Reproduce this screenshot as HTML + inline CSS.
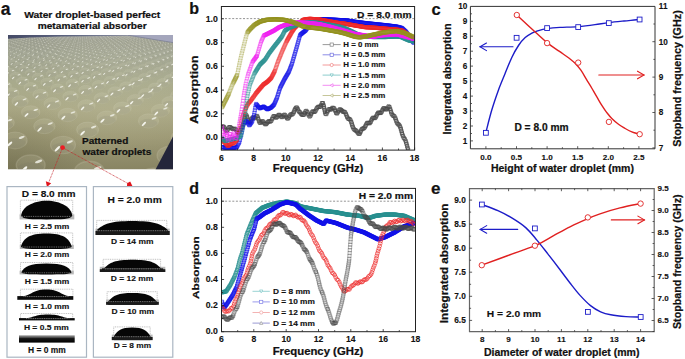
<!DOCTYPE html>
<html><head><meta charset="utf-8"><title>Water droplet metamaterial absorber</title><style>
html,body{margin:0;padding:0;background:#fff;width:685px;height:359px;overflow:hidden}
svg{display:block}
text{font-family:"Liberation Sans",sans-serif}
</style></head><body>
<svg width="685" height="359" viewBox="0 0 685 359">
<rect width="685" height="359" fill="#fff"/>
<text x="0.8" y="14.6" font-size="17.5" text-anchor="start" fill="#111" font-weight="bold" stroke="#111" stroke-width="0.22" >a</text>
<text x="92.2" y="17.6" font-size="9.6" text-anchor="middle" fill="#111" font-weight="bold" stroke="#111" stroke-width="0.22" textLength="136" lengthAdjust="spacingAndGlyphs" >Water droplet-based perfect</text>
<text x="92.2" y="29.3" font-size="9.6" text-anchor="middle" fill="#111" font-weight="bold" stroke="#111" stroke-width="0.22" textLength="109" lengthAdjust="spacingAndGlyphs" >metamaterial absorber</text>
<defs><linearGradient id="pg" x1="0" y1="35" x2="0" y2="169.5" gradientUnits="userSpaceOnUse"><stop offset="0" stop-color="#9a9ca0"/><stop offset="0.04" stop-color="#96998c"/><stop offset="0.15" stop-color="#9ea290"/><stop offset="0.35" stop-color="#a8aa8c"/><stop offset="0.55" stop-color="#adab88"/><stop offset="0.75" stop-color="#9f9b77"/><stop offset="1" stop-color="#888463"/></linearGradient><radialGradient id="vig" cx="8" cy="172" r="80" gradientUnits="userSpaceOnUse"><stop offset="0" stop-color="#3a3820" stop-opacity="0.22"/><stop offset="1" stop-color="#3a3820" stop-opacity="0"/></radialGradient><radialGradient id="pgr" cx="120" cy="70" r="90" gradientUnits="userSpaceOnUse"><stop offset="0" stop-color="#c8c8b0" stop-opacity="0.18"/><stop offset="1" stop-color="#c8c8b0" stop-opacity="0"/></radialGradient><linearGradient id="sky" x1="0" y1="0" x2="1" y2="0"><stop offset="0" stop-color="#454a66"/><stop offset="0.5" stop-color="#5c6480"/><stop offset="1" stop-color="#8a8ea0"/></linearGradient><filter id="blur06" x="-5%" y="-5%" width="110%" height="110%"><feGaussianBlur stdDeviation="0.45"/></filter><clipPath id="pc"><rect x="8" y="35" width="165" height="134.5"/></clipPath></defs>
<g clip-path="url(#pc)">
<rect x="8" y="35" width="165" height="134.5" fill="url(#pg)"/>
<rect x="8" y="35" width="165" height="134.5" fill="url(#pgr)"/>
<rect x="8" y="35" width="165" height="134.5" fill="url(#vig)"/>
<defs><g id="dr"><ellipse cx="0" cy="0" rx="10" ry="7" fill="#dcdac4" fill-opacity="0.14" stroke="#d0cfb8" stroke-width="0.9" stroke-opacity="0.22"/><ellipse cx="0" cy="2.5" rx="9" ry="4.5" fill="#6e6c55" fill-opacity="0.10"/><ellipse cx="-4.5" cy="3" rx="2.8" ry="0.95" fill="#f4f4ec" transform="rotate(-45 -4.5 3)"/><ellipse cx="5.5" cy="-2.5" rx="2.6" ry="0.9" fill="#f0f0e6" opacity="0.85" transform="rotate(-20 5.5 -2.5)"/></g></defs>
<g filter="url(#blur06)">
<use href="#dr" transform="translate(76.8 34.5) scale(0.163)" opacity="0.53"/>
<use href="#dr" transform="translate(24.3 34.5) scale(0.163)" opacity="0.53"/>
<use href="#dr" transform="translate(158.9 34.5) scale(0.163)" opacity="0.53"/>
<use href="#dr" transform="translate(106.4 34.5) scale(0.163)" opacity="0.53"/>
<use href="#dr" transform="translate(53.8 34.5) scale(0.163)" opacity="0.53"/>
<use href="#dr" transform="translate(1.2 34.6) scale(0.163)" opacity="0.53"/>
<use href="#dr" transform="translate(136.0 34.6) scale(0.163)" opacity="0.53"/>
<use href="#dr" transform="translate(83.4 34.6) scale(0.163)" opacity="0.53"/>
<use href="#dr" transform="translate(30.6 34.6) scale(0.163)" opacity="0.53"/>
<use href="#dr" transform="translate(165.8 34.6) scale(0.164)" opacity="0.53"/>
<use href="#dr" transform="translate(113.1 34.6) scale(0.164)" opacity="0.53"/>
<use href="#dr" transform="translate(60.3 34.6) scale(0.164)" opacity="0.53"/>
<use href="#dr" transform="translate(7.4 34.6) scale(0.164)" opacity="0.53"/>
<use href="#dr" transform="translate(142.9 34.7) scale(0.164)" opacity="0.53"/>
<use href="#dr" transform="translate(90.0 34.7) scale(0.164)" opacity="0.53"/>
<use href="#dr" transform="translate(37.0 34.7) scale(0.164)" opacity="0.53"/>
<use href="#dr" transform="translate(172.9 34.7) scale(0.164)" opacity="0.53"/>
<use href="#dr" transform="translate(119.9 34.7) scale(0.164)" opacity="0.53"/>
<use href="#dr" transform="translate(66.8 34.7) scale(0.165)" opacity="0.53"/>
<use href="#dr" transform="translate(13.6 34.7) scale(0.165)" opacity="0.53"/>
<use href="#dr" transform="translate(149.9 34.7) scale(0.165)" opacity="0.53"/>
<use href="#dr" transform="translate(96.7 34.7) scale(0.165)" opacity="0.53"/>
<use href="#dr" transform="translate(43.4 34.8) scale(0.165)" opacity="0.53"/>
<use href="#dr" transform="translate(180.0 34.8) scale(0.165)" opacity="0.53"/>
<use href="#dr" transform="translate(126.7 34.8) scale(0.165)" opacity="0.53"/>
<use href="#dr" transform="translate(73.4 34.8) scale(0.165)" opacity="0.53"/>
<use href="#dr" transform="translate(20.0 34.8) scale(0.166)" opacity="0.53"/>
<use href="#dr" transform="translate(156.9 34.8) scale(0.166)" opacity="0.53"/>
<use href="#dr" transform="translate(103.4 34.8) scale(0.166)" opacity="0.53"/>
<use href="#dr" transform="translate(49.9 34.8) scale(0.166)" opacity="0.53"/>
<use href="#dr" transform="translate(-3.7 34.9) scale(0.166)" opacity="0.53"/>
<use href="#dr" transform="translate(133.6 34.9) scale(0.166)" opacity="0.53"/>
<use href="#dr" transform="translate(80.0 34.9) scale(0.166)" opacity="0.53"/>
<use href="#dr" transform="translate(26.3 34.9) scale(0.166)" opacity="0.53"/>
<use href="#dr" transform="translate(164.0 34.9) scale(0.167)" opacity="0.53"/>
<use href="#dr" transform="translate(110.3 34.9) scale(0.167)" opacity="0.53"/>
<use href="#dr" transform="translate(56.5 34.9) scale(0.167)" opacity="0.53"/>
<use href="#dr" transform="translate(2.6 34.9) scale(0.167)" opacity="0.53"/>
<use href="#dr" transform="translate(140.6 35.0) scale(0.167)" opacity="0.53"/>
<use href="#dr" transform="translate(86.8 35.0) scale(0.167)" opacity="0.53"/>
<use href="#dr" transform="translate(32.8 35.0) scale(0.167)" opacity="0.53"/>
<use href="#dr" transform="translate(171.1 35.0) scale(0.167)" opacity="0.53"/>
<use href="#dr" transform="translate(117.2 35.0) scale(0.167)" opacity="0.53"/>
<use href="#dr" transform="translate(63.1 35.0) scale(0.168)" opacity="0.53"/>
<use href="#dr" transform="translate(9.0 35.0) scale(0.168)" opacity="0.53"/>
<use href="#dr" transform="translate(147.7 35.0) scale(0.168)" opacity="0.53"/>
<use href="#dr" transform="translate(93.6 35.1) scale(0.168)" opacity="0.53"/>
<use href="#dr" transform="translate(39.3 35.1) scale(0.168)" opacity="0.53"/>
<use href="#dr" transform="translate(178.4 35.1) scale(0.168)" opacity="0.53"/>
<use href="#dr" transform="translate(124.1 35.1) scale(0.168)" opacity="0.53"/>
<use href="#dr" transform="translate(69.8 35.1) scale(0.168)" opacity="0.53"/>
<use href="#dr" transform="translate(15.4 35.1) scale(0.169)" opacity="0.53"/>
<use href="#dr" transform="translate(154.8 35.1) scale(0.169)" opacity="0.53"/>
<use href="#dr" transform="translate(100.4 35.1) scale(0.169)" opacity="0.53"/>
<use href="#dr" transform="translate(45.9 35.2) scale(0.169)" opacity="0.53"/>
<use href="#dr" transform="translate(131.2 35.2) scale(0.169)" opacity="0.53"/>
<use href="#dr" transform="translate(76.6 35.2) scale(0.169)" opacity="0.53"/>
<use href="#dr" transform="translate(21.9 35.2) scale(0.169)" opacity="0.53"/>
<use href="#dr" transform="translate(162.1 35.2) scale(0.170)" opacity="0.53"/>
<use href="#dr" transform="translate(107.4 35.2) scale(0.170)" opacity="0.53"/>
<use href="#dr" transform="translate(52.6 35.2) scale(0.170)" opacity="0.53"/>
<use href="#dr" transform="translate(-2.3 35.3) scale(0.170)" opacity="0.53"/>
<use href="#dr" transform="translate(138.3 35.3) scale(0.170)" opacity="0.53"/>
<use href="#dr" transform="translate(83.4 35.3) scale(0.170)" opacity="0.53"/>
<use href="#dr" transform="translate(28.4 35.3) scale(0.170)" opacity="0.53"/>
<use href="#dr" transform="translate(169.3 35.3) scale(0.170)" opacity="0.53"/>
<use href="#dr" transform="translate(114.4 35.3) scale(0.171)" opacity="0.53"/>
<use href="#dr" transform="translate(59.3 35.3) scale(0.171)" opacity="0.53"/>
<use href="#dr" transform="translate(4.2 35.3) scale(0.171)" opacity="0.54"/>
<use href="#dr" transform="translate(145.5 35.4) scale(0.171)" opacity="0.54"/>
<use href="#dr" transform="translate(90.3 35.4) scale(0.171)" opacity="0.54"/>
<use href="#dr" transform="translate(35.1 35.4) scale(0.171)" opacity="0.54"/>
<use href="#dr" transform="translate(176.7 35.4) scale(0.171)" opacity="0.54"/>
<use href="#dr" transform="translate(121.5 35.4) scale(0.171)" opacity="0.54"/>
<use href="#dr" transform="translate(66.1 35.4) scale(0.172)" opacity="0.54"/>
<use href="#dr" transform="translate(10.7 35.4) scale(0.172)" opacity="0.54"/>
<use href="#dr" transform="translate(152.7 35.5) scale(0.172)" opacity="0.54"/>
<use href="#dr" transform="translate(97.3 35.5) scale(0.172)" opacity="0.54"/>
<use href="#dr" transform="translate(41.8 35.5) scale(0.172)" opacity="0.54"/>
<use href="#dr" transform="translate(184.2 35.5) scale(0.172)" opacity="0.54"/>
<use href="#dr" transform="translate(128.6 35.5) scale(0.172)" opacity="0.54"/>
<use href="#dr" transform="translate(73.0 35.5) scale(0.173)" opacity="0.54"/>
<use href="#dr" transform="translate(17.3 35.5) scale(0.173)" opacity="0.54"/>
<use href="#dr" transform="translate(160.1 35.5) scale(0.173)" opacity="0.54"/>
<use href="#dr" transform="translate(104.3 35.6) scale(0.173)" opacity="0.54"/>
<use href="#dr" transform="translate(48.5 35.6) scale(0.173)" opacity="0.54"/>
<use href="#dr" transform="translate(135.8 35.6) scale(0.173)" opacity="0.54"/>
<use href="#dr" transform="translate(79.9 35.6) scale(0.173)" opacity="0.54"/>
<use href="#dr" transform="translate(23.9 35.6) scale(0.174)" opacity="0.54"/>
<use href="#dr" transform="translate(167.5 35.6) scale(0.174)" opacity="0.54"/>
<use href="#dr" transform="translate(111.5 35.6) scale(0.174)" opacity="0.54"/>
<use href="#dr" transform="translate(55.4 35.7) scale(0.174)" opacity="0.54"/>
<use href="#dr" transform="translate(-0.8 35.7) scale(0.174)" opacity="0.54"/>
<use href="#dr" transform="translate(143.2 35.7) scale(0.174)" opacity="0.54"/>
<use href="#dr" transform="translate(86.9 35.7) scale(0.174)" opacity="0.54"/>
<use href="#dr" transform="translate(30.6 35.7) scale(0.174)" opacity="0.54"/>
<use href="#dr" transform="translate(175.0 35.7) scale(0.175)" opacity="0.54"/>
<use href="#dr" transform="translate(118.7 35.7) scale(0.175)" opacity="0.54"/>
<use href="#dr" transform="translate(62.3 35.8) scale(0.175)" opacity="0.54"/>
<use href="#dr" transform="translate(5.8 35.8) scale(0.175)" opacity="0.54"/>
<use href="#dr" transform="translate(150.5 35.8) scale(0.175)" opacity="0.54"/>
<use href="#dr" transform="translate(94.0 35.8) scale(0.175)" opacity="0.54"/>
<use href="#dr" transform="translate(37.4 35.8) scale(0.175)" opacity="0.54"/>
<use href="#dr" transform="translate(182.6 35.8) scale(0.176)" opacity="0.54"/>
<use href="#dr" transform="translate(125.9 35.8) scale(0.176)" opacity="0.54"/>
<use href="#dr" transform="translate(69.2 35.9) scale(0.176)" opacity="0.54"/>
<use href="#dr" transform="translate(12.5 35.9) scale(0.176)" opacity="0.54"/>
<use href="#dr" transform="translate(158.0 35.9) scale(0.176)" opacity="0.54"/>
<use href="#dr" transform="translate(101.2 35.9) scale(0.176)" opacity="0.54"/>
<use href="#dr" transform="translate(44.3 35.9) scale(0.176)" opacity="0.54"/>
<use href="#dr" transform="translate(133.3 35.9) scale(0.177)" opacity="0.54"/>
<use href="#dr" transform="translate(76.3 35.9) scale(0.177)" opacity="0.54"/>
<use href="#dr" transform="translate(19.2 36.0) scale(0.177)" opacity="0.54"/>
<use href="#dr" transform="translate(165.6 36.0) scale(0.177)" opacity="0.54"/>
<use href="#dr" transform="translate(108.4 36.0) scale(0.177)" opacity="0.54"/>
<use href="#dr" transform="translate(51.3 36.0) scale(0.177)" opacity="0.54"/>
<use href="#dr" transform="translate(140.7 36.0) scale(0.178)" opacity="0.54"/>
<use href="#dr" transform="translate(83.4 36.0) scale(0.178)" opacity="0.54"/>
<use href="#dr" transform="translate(26.0 36.1) scale(0.178)" opacity="0.54"/>
<use href="#dr" transform="translate(173.2 36.1) scale(0.178)" opacity="0.54"/>
<use href="#dr" transform="translate(115.8 36.1) scale(0.178)" opacity="0.54"/>
<use href="#dr" transform="translate(58.3 36.1) scale(0.178)" opacity="0.54"/>
<use href="#dr" transform="translate(0.7 36.1) scale(0.178)" opacity="0.54"/>
<use href="#dr" transform="translate(148.3 36.1) scale(0.179)" opacity="0.54"/>
<use href="#dr" transform="translate(90.7 36.1) scale(0.179)" opacity="0.54"/>
<use href="#dr" transform="translate(33.0 36.2) scale(0.179)" opacity="0.54"/>
<use href="#dr" transform="translate(180.9 36.2) scale(0.179)" opacity="0.54"/>
<use href="#dr" transform="translate(123.2 36.2) scale(0.179)" opacity="0.54"/>
<use href="#dr" transform="translate(65.4 36.2) scale(0.179)" opacity="0.54"/>
<use href="#dr" transform="translate(7.5 36.2) scale(0.179)" opacity="0.54"/>
<use href="#dr" transform="translate(155.9 36.2) scale(0.180)" opacity="0.54"/>
<use href="#dr" transform="translate(97.9 36.2) scale(0.180)" opacity="0.54"/>
<use href="#dr" transform="translate(39.9 36.3) scale(0.180)" opacity="0.54"/>
<use href="#dr" transform="translate(130.7 36.3) scale(0.180)" opacity="0.55"/>
<use href="#dr" transform="translate(72.5 36.3) scale(0.180)" opacity="0.55"/>
<use href="#dr" transform="translate(14.3 36.3) scale(0.180)" opacity="0.55"/>
<use href="#dr" transform="translate(163.5 36.3) scale(0.181)" opacity="0.55"/>
<use href="#dr" transform="translate(105.3 36.3) scale(0.181)" opacity="0.55"/>
<use href="#dr" transform="translate(47.0 36.4) scale(0.181)" opacity="0.55"/>
<use href="#dr" transform="translate(138.2 36.4) scale(0.181)" opacity="0.55"/>
<use href="#dr" transform="translate(79.8 36.4) scale(0.181)" opacity="0.55"/>
<use href="#dr" transform="translate(21.3 36.4) scale(0.181)" opacity="0.55"/>
<use href="#dr" transform="translate(171.3 36.4) scale(0.182)" opacity="0.55"/>
<use href="#dr" transform="translate(112.8 36.4) scale(0.182)" opacity="0.55"/>
<use href="#dr" transform="translate(54.1 36.5) scale(0.182)" opacity="0.55"/>
<use href="#dr" transform="translate(-4.6 36.5) scale(0.182)" opacity="0.55"/>
<use href="#dr" transform="translate(145.9 36.5) scale(0.182)" opacity="0.55"/>
<use href="#dr" transform="translate(87.1 36.5) scale(0.182)" opacity="0.55"/>
<use href="#dr" transform="translate(28.3 36.5) scale(0.182)" opacity="0.55"/>
<use href="#dr" transform="translate(179.2 36.5) scale(0.183)" opacity="0.55"/>
<use href="#dr" transform="translate(120.3 36.5) scale(0.183)" opacity="0.55"/>
<use href="#dr" transform="translate(61.3 36.6) scale(0.183)" opacity="0.55"/>
<use href="#dr" transform="translate(2.3 36.6) scale(0.183)" opacity="0.55"/>
<use href="#dr" transform="translate(153.6 36.6) scale(0.183)" opacity="0.55"/>
<use href="#dr" transform="translate(94.6 36.6) scale(0.183)" opacity="0.55"/>
<use href="#dr" transform="translate(35.4 36.6) scale(0.183)" opacity="0.55"/>
<use href="#dr" transform="translate(127.9 36.7) scale(0.184)" opacity="0.55"/>
<use href="#dr" transform="translate(68.6 36.7) scale(0.184)" opacity="0.55"/>
<use href="#dr" transform="translate(9.3 36.7) scale(0.184)" opacity="0.55"/>
<use href="#dr" transform="translate(161.5 36.7) scale(0.184)" opacity="0.55"/>
<use href="#dr" transform="translate(102.1 36.7) scale(0.184)" opacity="0.55"/>
<use href="#dr" transform="translate(42.6 36.7) scale(0.184)" opacity="0.55"/>
<use href="#dr" transform="translate(135.6 36.8) scale(0.185)" opacity="0.55"/>
<use href="#dr" transform="translate(76.0 36.8) scale(0.185)" opacity="0.55"/>
<use href="#dr" transform="translate(16.3 36.8) scale(0.185)" opacity="0.55"/>
<use href="#dr" transform="translate(169.4 36.8) scale(0.185)" opacity="0.55"/>
<use href="#dr" transform="translate(109.6 36.8) scale(0.185)" opacity="0.55"/>
<use href="#dr" transform="translate(49.8 36.8) scale(0.185)" opacity="0.55"/>
<use href="#dr" transform="translate(143.4 36.9) scale(0.186)" opacity="0.55"/>
<use href="#dr" transform="translate(83.5 36.9) scale(0.186)" opacity="0.55"/>
<use href="#dr" transform="translate(23.4 36.9) scale(0.186)" opacity="0.55"/>
<use href="#dr" transform="translate(177.4 36.9) scale(0.186)" opacity="0.55"/>
<use href="#dr" transform="translate(117.3 36.9) scale(0.186)" opacity="0.55"/>
<use href="#dr" transform="translate(57.1 36.9) scale(0.187)" opacity="0.55"/>
<use href="#dr" transform="translate(-3.1 37.0) scale(0.187)" opacity="0.55"/>
<use href="#dr" transform="translate(151.3 37.0) scale(0.187)" opacity="0.55"/>
<use href="#dr" transform="translate(91.0 37.0) scale(0.187)" opacity="0.55"/>
<use href="#dr" transform="translate(30.6 37.0) scale(0.187)" opacity="0.55"/>
<use href="#dr" transform="translate(125.1 37.0) scale(0.187)" opacity="0.55"/>
<use href="#dr" transform="translate(64.6 37.0) scale(0.188)" opacity="0.55"/>
<use href="#dr" transform="translate(4.0 37.1) scale(0.188)" opacity="0.55"/>
<use href="#dr" transform="translate(159.3 37.1) scale(0.188)" opacity="0.55"/>
<use href="#dr" transform="translate(98.7 37.1) scale(0.188)" opacity="0.55"/>
<use href="#dr" transform="translate(37.9 37.1) scale(0.188)" opacity="0.55"/>
<use href="#dr" transform="translate(132.9 37.1) scale(0.189)" opacity="0.55"/>
<use href="#dr" transform="translate(72.1 37.2) scale(0.189)" opacity="0.55"/>
<use href="#dr" transform="translate(11.1 37.2) scale(0.189)" opacity="0.55"/>
<use href="#dr" transform="translate(167.3 37.2) scale(0.189)" opacity="0.55"/>
<use href="#dr" transform="translate(106.4 37.2) scale(0.189)" opacity="0.55"/>
<use href="#dr" transform="translate(45.3 37.2) scale(0.189)" opacity="0.56"/>
<use href="#dr" transform="translate(140.9 37.3) scale(0.190)" opacity="0.56"/>
<use href="#dr" transform="translate(79.7 37.3) scale(0.190)" opacity="0.56"/>
<use href="#dr" transform="translate(18.4 37.3) scale(0.190)" opacity="0.56"/>
<use href="#dr" transform="translate(175.5 37.3) scale(0.190)" opacity="0.56"/>
<use href="#dr" transform="translate(114.2 37.3) scale(0.190)" opacity="0.56"/>
<use href="#dr" transform="translate(52.8 37.3) scale(0.190)" opacity="0.56"/>
<use href="#dr" transform="translate(148.9 37.4) scale(0.191)" opacity="0.56"/>
<use href="#dr" transform="translate(87.3 37.4) scale(0.191)" opacity="0.56"/>
<use href="#dr" transform="translate(25.7 37.4) scale(0.191)" opacity="0.56"/>
<use href="#dr" transform="translate(183.8 37.4) scale(0.191)" opacity="0.56"/>
<use href="#dr" transform="translate(122.1 37.4) scale(0.191)" opacity="0.56"/>
<use href="#dr" transform="translate(60.3 37.4) scale(0.192)" opacity="0.56"/>
<use href="#dr" transform="translate(-1.5 37.5) scale(0.192)" opacity="0.56"/>
<use href="#dr" transform="translate(157.0 37.5) scale(0.192)" opacity="0.56"/>
<use href="#dr" transform="translate(95.1 37.5) scale(0.192)" opacity="0.56"/>
<use href="#dr" transform="translate(33.1 37.5) scale(0.192)" opacity="0.56"/>
<use href="#dr" transform="translate(130.1 37.5) scale(0.192)" opacity="0.56"/>
<use href="#dr" transform="translate(68.0 37.6) scale(0.193)" opacity="0.56"/>
<use href="#dr" transform="translate(5.7 37.6) scale(0.193)" opacity="0.56"/>
<use href="#dr" transform="translate(165.2 37.6) scale(0.193)" opacity="0.56"/>
<use href="#dr" transform="translate(103.0 37.6) scale(0.193)" opacity="0.56"/>
<use href="#dr" transform="translate(40.6 37.6) scale(0.193)" opacity="0.56"/>
<use href="#dr" transform="translate(138.2 37.7) scale(0.194)" opacity="0.56"/>
<use href="#dr" transform="translate(75.7 37.7) scale(0.194)" opacity="0.56"/>
<use href="#dr" transform="translate(13.1 37.7) scale(0.194)" opacity="0.56"/>
<use href="#dr" transform="translate(173.5 37.7) scale(0.194)" opacity="0.56"/>
<use href="#dr" transform="translate(110.9 37.7) scale(0.194)" opacity="0.56"/>
<use href="#dr" transform="translate(48.2 37.7) scale(0.194)" opacity="0.56"/>
<use href="#dr" transform="translate(146.4 37.8) scale(0.195)" opacity="0.56"/>
<use href="#dr" transform="translate(83.5 37.8) scale(0.195)" opacity="0.56"/>
<use href="#dr" transform="translate(20.6 37.8) scale(0.195)" opacity="0.56"/>
<use href="#dr" transform="translate(182.0 37.8) scale(0.195)" opacity="0.56"/>
<use href="#dr" transform="translate(119.0 37.8) scale(0.195)" opacity="0.56"/>
<use href="#dr" transform="translate(55.9 37.9) scale(0.196)" opacity="0.56"/>
<use href="#dr" transform="translate(154.6 37.9) scale(0.196)" opacity="0.56"/>
<use href="#dr" transform="translate(91.4 37.9) scale(0.196)" opacity="0.56"/>
<use href="#dr" transform="translate(28.1 37.9) scale(0.196)" opacity="0.56"/>
<use href="#dr" transform="translate(127.1 38.0) scale(0.197)" opacity="0.56"/>
<use href="#dr" transform="translate(63.7 38.0) scale(0.197)" opacity="0.56"/>
<use href="#dr" transform="translate(0.1 38.0) scale(0.197)" opacity="0.56"/>
<use href="#dr" transform="translate(163.0 38.0) scale(0.197)" opacity="0.56"/>
<use href="#dr" transform="translate(99.4 38.0) scale(0.197)" opacity="0.56"/>
<use href="#dr" transform="translate(35.7 38.0) scale(0.197)" opacity="0.56"/>
<use href="#dr" transform="translate(135.4 38.1) scale(0.198)" opacity="0.56"/>
<use href="#dr" transform="translate(71.6 38.1) scale(0.198)" opacity="0.56"/>
<use href="#dr" transform="translate(7.6 38.1) scale(0.198)" opacity="0.56"/>
<use href="#dr" transform="translate(171.5 38.1) scale(0.198)" opacity="0.56"/>
<use href="#dr" transform="translate(107.5 38.2) scale(0.198)" opacity="0.57"/>
<use href="#dr" transform="translate(43.5 38.2) scale(0.199)" opacity="0.57"/>
<use href="#dr" transform="translate(143.7 38.2) scale(0.199)" opacity="0.57"/>
<use href="#dr" transform="translate(79.5 38.2) scale(0.199)" opacity="0.57"/>
<use href="#dr" transform="translate(15.2 38.2) scale(0.199)" opacity="0.57"/>
<use href="#dr" transform="translate(180.1 38.3) scale(0.200)" opacity="0.57"/>
<use href="#dr" transform="translate(115.8 38.3) scale(0.200)" opacity="0.57"/>
<use href="#dr" transform="translate(51.3 38.3) scale(0.200)" opacity="0.57"/>
<use href="#dr" transform="translate(152.2 38.3) scale(0.200)" opacity="0.57"/>
<use href="#dr" transform="translate(87.6 38.3) scale(0.200)" opacity="0.57"/>
<use href="#dr" transform="translate(22.9 38.4) scale(0.201)" opacity="0.57"/>
<use href="#dr" transform="translate(124.1 38.4) scale(0.201)" opacity="0.57"/>
<use href="#dr" transform="translate(59.2 38.4) scale(0.201)" opacity="0.57"/>
<use href="#dr" transform="translate(160.7 38.5) scale(0.201)" opacity="0.57"/>
<use href="#dr" transform="translate(95.7 38.5) scale(0.202)" opacity="0.57"/>
<use href="#dr" transform="translate(30.6 38.5) scale(0.202)" opacity="0.57"/>
<use href="#dr" transform="translate(132.5 38.5) scale(0.202)" opacity="0.57"/>
<use href="#dr" transform="translate(67.2 38.5) scale(0.202)" opacity="0.57"/>
<use href="#dr" transform="translate(1.9 38.6) scale(0.203)" opacity="0.57"/>
<use href="#dr" transform="translate(169.4 38.6) scale(0.203)" opacity="0.57"/>
<use href="#dr" transform="translate(104.0 38.6) scale(0.203)" opacity="0.57"/>
<use href="#dr" transform="translate(38.5 38.6) scale(0.203)" opacity="0.57"/>
<use href="#dr" transform="translate(141.0 38.7) scale(0.203)" opacity="0.57"/>
<use href="#dr" transform="translate(75.3 38.7) scale(0.204)" opacity="0.57"/>
<use href="#dr" transform="translate(9.6 38.7) scale(0.204)" opacity="0.57"/>
<use href="#dr" transform="translate(178.1 38.7) scale(0.204)" opacity="0.57"/>
<use href="#dr" transform="translate(112.4 38.7) scale(0.204)" opacity="0.57"/>
<use href="#dr" transform="translate(46.5 38.7) scale(0.204)" opacity="0.57"/>
<use href="#dr" transform="translate(149.6 38.8) scale(0.205)" opacity="0.57"/>
<use href="#dr" transform="translate(83.6 38.8) scale(0.205)" opacity="0.57"/>
<use href="#dr" transform="translate(17.4 38.8) scale(0.205)" opacity="0.57"/>
<use href="#dr" transform="translate(120.8 38.9) scale(0.205)" opacity="0.57"/>
<use href="#dr" transform="translate(54.5 38.9) scale(0.206)" opacity="0.57"/>
<use href="#dr" transform="translate(158.3 38.9) scale(0.206)" opacity="0.57"/>
<use href="#dr" transform="translate(91.9 38.9) scale(0.206)" opacity="0.57"/>
<use href="#dr" transform="translate(25.3 38.9) scale(0.206)" opacity="0.57"/>
<use href="#dr" transform="translate(129.4 39.0) scale(0.207)" opacity="0.57"/>
<use href="#dr" transform="translate(62.7 39.0) scale(0.207)" opacity="0.57"/>
<use href="#dr" transform="translate(-4.1 39.0) scale(0.207)" opacity="0.57"/>
<use href="#dr" transform="translate(167.2 39.0) scale(0.207)" opacity="0.57"/>
<use href="#dr" transform="translate(100.3 39.1) scale(0.207)" opacity="0.57"/>
<use href="#dr" transform="translate(33.3 39.1) scale(0.208)" opacity="0.57"/>
<use href="#dr" transform="translate(138.1 39.1) scale(0.208)" opacity="0.58"/>
<use href="#dr" transform="translate(71.0 39.1) scale(0.208)" opacity="0.58"/>
<use href="#dr" transform="translate(3.7 39.2) scale(0.208)" opacity="0.58"/>
<use href="#dr" transform="translate(176.1 39.2) scale(0.209)" opacity="0.58"/>
<use href="#dr" transform="translate(108.8 39.2) scale(0.209)" opacity="0.58"/>
<use href="#dr" transform="translate(41.4 39.2) scale(0.209)" opacity="0.58"/>
<use href="#dr" transform="translate(146.9 39.3) scale(0.209)" opacity="0.58"/>
<use href="#dr" transform="translate(79.4 39.3) scale(0.210)" opacity="0.58"/>
<use href="#dr" transform="translate(11.7 39.3) scale(0.210)" opacity="0.58"/>
<use href="#dr" transform="translate(117.5 39.3) scale(0.210)" opacity="0.58"/>
<use href="#dr" transform="translate(49.7 39.4) scale(0.210)" opacity="0.58"/>
<use href="#dr" transform="translate(155.8 39.4) scale(0.211)" opacity="0.58"/>
<use href="#dr" transform="translate(87.8 39.4) scale(0.211)" opacity="0.58"/>
<use href="#dr" transform="translate(19.7 39.4) scale(0.211)" opacity="0.58"/>
<use href="#dr" transform="translate(126.2 39.5) scale(0.211)" opacity="0.58"/>
<use href="#dr" transform="translate(58.0 39.5) scale(0.212)" opacity="0.58"/>
<use href="#dr" transform="translate(164.8 39.5) scale(0.212)" opacity="0.58"/>
<use href="#dr" transform="translate(96.4 39.6) scale(0.212)" opacity="0.58"/>
<use href="#dr" transform="translate(27.9 39.6) scale(0.212)" opacity="0.58"/>
<use href="#dr" transform="translate(135.1 39.6) scale(0.213)" opacity="0.58"/>
<use href="#dr" transform="translate(66.4 39.6) scale(0.213)" opacity="0.58"/>
<use href="#dr" transform="translate(-2.4 39.7) scale(0.213)" opacity="0.58"/>
<use href="#dr" transform="translate(174.0 39.7) scale(0.213)" opacity="0.58"/>
<use href="#dr" transform="translate(105.1 39.7) scale(0.214)" opacity="0.58"/>
<use href="#dr" transform="translate(36.2 39.7) scale(0.214)" opacity="0.58"/>
<use href="#dr" transform="translate(144.1 39.8) scale(0.214)" opacity="0.58"/>
<use href="#dr" transform="translate(75.0 39.8) scale(0.214)" opacity="0.58"/>
<use href="#dr" transform="translate(5.7 39.8) scale(0.215)" opacity="0.58"/>
<use href="#dr" transform="translate(183.2 39.8) scale(0.215)" opacity="0.58"/>
<use href="#dr" transform="translate(114.0 39.8) scale(0.215)" opacity="0.58"/>
<use href="#dr" transform="translate(44.5 39.9) scale(0.215)" opacity="0.58"/>
<use href="#dr" transform="translate(153.2 39.9) scale(0.216)" opacity="0.58"/>
<use href="#dr" transform="translate(83.6 39.9) scale(0.216)" opacity="0.58"/>
<use href="#dr" transform="translate(13.9 39.9) scale(0.216)" opacity="0.58"/>
<use href="#dr" transform="translate(122.9 40.0) scale(0.216)" opacity="0.58"/>
<use href="#dr" transform="translate(53.0 40.0) scale(0.217)" opacity="0.58"/>
<use href="#dr" transform="translate(162.4 40.0) scale(0.217)" opacity="0.59"/>
<use href="#dr" transform="translate(92.4 40.1) scale(0.217)" opacity="0.59"/>
<use href="#dr" transform="translate(22.2 40.1) scale(0.217)" opacity="0.59"/>
<use href="#dr" transform="translate(132.0 40.1) scale(0.218)" opacity="0.59"/>
<use href="#dr" transform="translate(61.6 40.1) scale(0.218)" opacity="0.59"/>
<use href="#dr" transform="translate(171.7 40.2) scale(0.218)" opacity="0.59"/>
<use href="#dr" transform="translate(101.3 40.2) scale(0.219)" opacity="0.59"/>
<use href="#dr" transform="translate(30.6 40.2) scale(0.219)" opacity="0.59"/>
<use href="#dr" transform="translate(141.1 40.3) scale(0.219)" opacity="0.59"/>
<use href="#dr" transform="translate(70.3 40.3) scale(0.220)" opacity="0.59"/>
<use href="#dr" transform="translate(-0.6 40.3) scale(0.220)" opacity="0.59"/>
<use href="#dr" transform="translate(181.2 40.3) scale(0.220)" opacity="0.59"/>
<use href="#dr" transform="translate(110.3 40.4) scale(0.220)" opacity="0.59"/>
<use href="#dr" transform="translate(39.2 40.4) scale(0.220)" opacity="0.59"/>
<use href="#dr" transform="translate(150.4 40.4) scale(0.221)" opacity="0.59"/>
<use href="#dr" transform="translate(79.2 40.4) scale(0.221)" opacity="0.59"/>
<use href="#dr" transform="translate(7.8 40.5) scale(0.221)" opacity="0.59"/>
<use href="#dr" transform="translate(119.4 40.5) scale(0.222)" opacity="0.59"/>
<use href="#dr" transform="translate(47.8 40.5) scale(0.222)" opacity="0.59"/>
<use href="#dr" transform="translate(159.9 40.6) scale(0.222)" opacity="0.59"/>
<use href="#dr" transform="translate(88.1 40.6) scale(0.223)" opacity="0.59"/>
<use href="#dr" transform="translate(16.3 40.6) scale(0.223)" opacity="0.59"/>
<use href="#dr" transform="translate(128.6 40.7) scale(0.223)" opacity="0.59"/>
<use href="#dr" transform="translate(56.6 40.7) scale(0.223)" opacity="0.59"/>
<use href="#dr" transform="translate(169.4 40.7) scale(0.224)" opacity="0.59"/>
<use href="#dr" transform="translate(97.2 40.7) scale(0.224)" opacity="0.59"/>
<use href="#dr" transform="translate(24.9 40.8) scale(0.224)" opacity="0.59"/>
<use href="#dr" transform="translate(138.0 40.8) scale(0.225)" opacity="0.59"/>
<use href="#dr" transform="translate(65.5 40.8) scale(0.225)" opacity="0.59"/>
<use href="#dr" transform="translate(179.1 40.9) scale(0.225)" opacity="0.59"/>
<use href="#dr" transform="translate(106.4 40.9) scale(0.226)" opacity="0.59"/>
<use href="#dr" transform="translate(33.6 40.9) scale(0.226)" opacity="0.59"/>
<use href="#dr" transform="translate(147.5 41.0) scale(0.226)" opacity="0.60"/>
<use href="#dr" transform="translate(74.5 41.0) scale(0.226)" opacity="0.60"/>
<use href="#dr" transform="translate(1.4 41.0) scale(0.227)" opacity="0.60"/>
<use href="#dr" transform="translate(115.7 41.1) scale(0.227)" opacity="0.60"/>
<use href="#dr" transform="translate(42.4 41.1) scale(0.227)" opacity="0.60"/>
<use href="#dr" transform="translate(157.2 41.1) scale(0.228)" opacity="0.60"/>
<use href="#dr" transform="translate(83.7 41.2) scale(0.228)" opacity="0.60"/>
<use href="#dr" transform="translate(10.0 41.2) scale(0.228)" opacity="0.60"/>
<use href="#dr" transform="translate(125.2 41.2) scale(0.229)" opacity="0.60"/>
<use href="#dr" transform="translate(51.3 41.2) scale(0.229)" opacity="0.60"/>
<use href="#dr" transform="translate(166.9 41.3) scale(0.229)" opacity="0.60"/>
<use href="#dr" transform="translate(92.9 41.3) scale(0.230)" opacity="0.60"/>
<use href="#dr" transform="translate(18.8 41.3) scale(0.230)" opacity="0.60"/>
<use href="#dr" transform="translate(134.8 41.4) scale(0.230)" opacity="0.60"/>
<use href="#dr" transform="translate(60.4 41.4) scale(0.231)" opacity="0.60"/>
<use href="#dr" transform="translate(176.9 41.5) scale(0.231)" opacity="0.60"/>
<use href="#dr" transform="translate(102.3 41.5) scale(0.231)" opacity="0.60"/>
<use href="#dr" transform="translate(27.7 41.5) scale(0.232)" opacity="0.60"/>
<use href="#dr" transform="translate(144.5 41.6) scale(0.232)" opacity="0.60"/>
<use href="#dr" transform="translate(69.6 41.6) scale(0.232)" opacity="0.60"/>
<use href="#dr" transform="translate(111.9 41.6) scale(0.233)" opacity="0.60"/>
<use href="#dr" transform="translate(36.7 41.7) scale(0.233)" opacity="0.60"/>
<use href="#dr" transform="translate(154.4 41.7) scale(0.234)" opacity="0.60"/>
<use href="#dr" transform="translate(79.0 41.7) scale(0.234)" opacity="0.60"/>
<use href="#dr" transform="translate(3.4 41.8) scale(0.234)" opacity="0.60"/>
<use href="#dr" transform="translate(121.5 41.8) scale(0.235)" opacity="0.60"/>
<use href="#dr" transform="translate(45.8 41.8) scale(0.235)" opacity="0.60"/>
<use href="#dr" transform="translate(164.4 41.9) scale(0.235)" opacity="0.60"/>
<use href="#dr" transform="translate(88.4 41.9) scale(0.236)" opacity="0.61"/>
<use href="#dr" transform="translate(12.4 41.9) scale(0.236)" opacity="0.61"/>
<use href="#dr" transform="translate(131.3 42.0) scale(0.236)" opacity="0.61"/>
<use href="#dr" transform="translate(55.1 42.0) scale(0.237)" opacity="0.61"/>
<use href="#dr" transform="translate(174.5 42.1) scale(0.237)" opacity="0.61"/>
<use href="#dr" transform="translate(98.1 42.1) scale(0.237)" opacity="0.61"/>
<use href="#dr" transform="translate(21.4 42.1) scale(0.237)" opacity="0.61"/>
<use href="#dr" transform="translate(141.3 42.2) scale(0.238)" opacity="0.61"/>
<use href="#dr" transform="translate(64.5 42.2) scale(0.238)" opacity="0.61"/>
<use href="#dr" transform="translate(184.8 42.2) scale(0.239)" opacity="0.61"/>
<use href="#dr" transform="translate(107.8 42.3) scale(0.239)" opacity="0.61"/>
<use href="#dr" transform="translate(30.6 42.3) scale(0.239)" opacity="0.61"/>
<use href="#dr" transform="translate(151.4 42.3) scale(0.240)" opacity="0.61"/>
<use href="#dr" transform="translate(74.0 42.4) scale(0.240)" opacity="0.61"/>
<use href="#dr" transform="translate(-3.5 42.4) scale(0.240)" opacity="0.61"/>
<use href="#dr" transform="translate(117.7 42.4) scale(0.241)" opacity="0.61"/>
<use href="#dr" transform="translate(40.0 42.5) scale(0.241)" opacity="0.61"/>
<use href="#dr" transform="translate(161.6 42.5) scale(0.241)" opacity="0.61"/>
<use href="#dr" transform="translate(83.7 42.5) scale(0.242)" opacity="0.61"/>
<use href="#dr" transform="translate(5.6 42.6) scale(0.242)" opacity="0.61"/>
<use href="#dr" transform="translate(127.7 42.6) scale(0.243)" opacity="0.61"/>
<use href="#dr" transform="translate(49.5 42.7) scale(0.243)" opacity="0.61"/>
<use href="#dr" transform="translate(172.0 42.7) scale(0.243)" opacity="0.61"/>
<use href="#dr" transform="translate(93.6 42.7) scale(0.244)" opacity="0.61"/>
<use href="#dr" transform="translate(14.9 42.8) scale(0.244)" opacity="0.61"/>
<use href="#dr" transform="translate(137.9 42.8) scale(0.244)" opacity="0.61"/>
<use href="#dr" transform="translate(59.1 42.8) scale(0.245)" opacity="0.61"/>
<use href="#dr" transform="translate(182.6 42.9) scale(0.245)" opacity="0.62"/>
<use href="#dr" transform="translate(103.5 42.9) scale(0.245)" opacity="0.62"/>
<use href="#dr" transform="translate(24.3 42.9) scale(0.246)" opacity="0.62"/>
<use href="#dr" transform="translate(148.3 43.0) scale(0.246)" opacity="0.62"/>
<use href="#dr" transform="translate(68.8 43.0) scale(0.246)" opacity="0.62"/>
<use href="#dr" transform="translate(113.7 43.1) scale(0.247)" opacity="0.62"/>
<use href="#dr" transform="translate(33.8 43.1) scale(0.247)" opacity="0.62"/>
<use href="#dr" transform="translate(158.8 43.2) scale(0.248)" opacity="0.62"/>
<use href="#dr" transform="translate(78.7 43.2) scale(0.248)" opacity="0.62"/>
<use href="#dr" transform="translate(-1.5 43.2) scale(0.249)" opacity="0.62"/>
<use href="#dr" transform="translate(123.9 43.3) scale(0.249)" opacity="0.62"/>
<use href="#dr" transform="translate(43.5 43.3) scale(0.249)" opacity="0.62"/>
<use href="#dr" transform="translate(169.4 43.4) scale(0.250)" opacity="0.62"/>
<use href="#dr" transform="translate(88.8 43.4) scale(0.250)" opacity="0.62"/>
<use href="#dr" transform="translate(8.0 43.4) scale(0.250)" opacity="0.62"/>
<use href="#dr" transform="translate(134.4 43.5) scale(0.251)" opacity="0.62"/>
<use href="#dr" transform="translate(53.4 43.5) scale(0.251)" opacity="0.62"/>
<use href="#dr" transform="translate(180.3 43.6) scale(0.252)" opacity="0.62"/>
<use href="#dr" transform="translate(99.0 43.6) scale(0.252)" opacity="0.62"/>
<use href="#dr" transform="translate(17.6 43.6) scale(0.252)" opacity="0.62"/>
<use href="#dr" transform="translate(145.0 43.7) scale(0.253)" opacity="0.62"/>
<use href="#dr" transform="translate(63.4 43.7) scale(0.253)" opacity="0.62"/>
<use href="#dr" transform="translate(109.4 43.8) scale(0.254)" opacity="0.63"/>
<use href="#dr" transform="translate(27.4 43.8) scale(0.254)" opacity="0.63"/>
<use href="#dr" transform="translate(155.8 43.9) scale(0.255)" opacity="0.63"/>
<use href="#dr" transform="translate(73.5 43.9) scale(0.255)" opacity="0.63"/>
<use href="#dr" transform="translate(119.9 44.0) scale(0.256)" opacity="0.63"/>
<use href="#dr" transform="translate(37.3 44.0) scale(0.256)" opacity="0.63"/>
<use href="#dr" transform="translate(166.7 44.1) scale(0.257)" opacity="0.63"/>
<use href="#dr" transform="translate(83.8 44.1) scale(0.257)" opacity="0.63"/>
<use href="#dr" transform="translate(0.7 44.1) scale(0.257)" opacity="0.63"/>
<use href="#dr" transform="translate(130.6 44.2) scale(0.258)" opacity="0.63"/>
<use href="#dr" transform="translate(47.3 44.2) scale(0.258)" opacity="0.63"/>
<use href="#dr" transform="translate(177.8 44.3) scale(0.259)" opacity="0.63"/>
<use href="#dr" transform="translate(94.3 44.3) scale(0.259)" opacity="0.63"/>
<use href="#dr" transform="translate(10.5 44.4) scale(0.260)" opacity="0.63"/>
<use href="#dr" transform="translate(141.5 44.4) scale(0.260)" opacity="0.63"/>
<use href="#dr" transform="translate(57.6 44.4) scale(0.260)" opacity="0.63"/>
<use href="#dr" transform="translate(104.9 44.5) scale(0.261)" opacity="0.63"/>
<use href="#dr" transform="translate(20.5 44.6) scale(0.262)" opacity="0.63"/>
<use href="#dr" transform="translate(152.6 44.6) scale(0.262)" opacity="0.63"/>
<use href="#dr" transform="translate(67.9 44.7) scale(0.262)" opacity="0.63"/>
<use href="#dr" transform="translate(115.7 44.7) scale(0.263)" opacity="0.64"/>
<use href="#dr" transform="translate(30.6 44.8) scale(0.264)" opacity="0.64"/>
<use href="#dr" transform="translate(163.8 44.8) scale(0.264)" opacity="0.64"/>
<use href="#dr" transform="translate(78.5 44.9) scale(0.265)" opacity="0.64"/>
<use href="#dr" transform="translate(126.7 45.0) scale(0.266)" opacity="0.64"/>
<use href="#dr" transform="translate(40.9 45.0) scale(0.266)" opacity="0.64"/>
<use href="#dr" transform="translate(175.2 45.1) scale(0.266)" opacity="0.64"/>
<use href="#dr" transform="translate(89.2 45.1) scale(0.267)" opacity="0.64"/>
<use href="#dr" transform="translate(3.1 45.1) scale(0.267)" opacity="0.64"/>
<use href="#dr" transform="translate(137.8 45.2) scale(0.268)" opacity="0.64"/>
<use href="#dr" transform="translate(51.4 45.2) scale(0.268)" opacity="0.64"/>
<use href="#dr" transform="translate(100.1 45.3) scale(0.269)" opacity="0.64"/>
<use href="#dr" transform="translate(13.3 45.3) scale(0.269)" opacity="0.64"/>
<use href="#dr" transform="translate(149.2 45.4) scale(0.270)" opacity="0.64"/>
<use href="#dr" transform="translate(62.1 45.4) scale(0.270)" opacity="0.64"/>
<use href="#dr" transform="translate(111.2 45.5) scale(0.271)" opacity="0.64"/>
<use href="#dr" transform="translate(23.6 45.6) scale(0.271)" opacity="0.64"/>
<use href="#dr" transform="translate(160.7 45.6) scale(0.272)" opacity="0.64"/>
<use href="#dr" transform="translate(72.9 45.7) scale(0.272)" opacity="0.65"/>
<use href="#dr" transform="translate(122.5 45.8) scale(0.273)" opacity="0.65"/>
<use href="#dr" transform="translate(34.2 45.8) scale(0.274)" opacity="0.65"/>
<use href="#dr" transform="translate(172.4 45.9) scale(0.274)" opacity="0.65"/>
<use href="#dr" transform="translate(83.9 45.9) scale(0.275)" opacity="0.65"/>
<use href="#dr" transform="translate(-4.9 45.9) scale(0.275)" opacity="0.65"/>
<use href="#dr" transform="translate(133.9 46.0) scale(0.276)" opacity="0.65"/>
<use href="#dr" transform="translate(44.9 46.0) scale(0.276)" opacity="0.65"/>
<use href="#dr" transform="translate(184.3 46.1) scale(0.277)" opacity="0.65"/>
<use href="#dr" transform="translate(95.1 46.1) scale(0.277)" opacity="0.65"/>
<use href="#dr" transform="translate(5.6 46.2) scale(0.277)" opacity="0.65"/>
<use href="#dr" transform="translate(145.6 46.2) scale(0.278)" opacity="0.65"/>
<use href="#dr" transform="translate(55.8 46.3) scale(0.278)" opacity="0.65"/>
<use href="#dr" transform="translate(106.4 46.4) scale(0.279)" opacity="0.65"/>
<use href="#dr" transform="translate(16.2 46.4) scale(0.280)" opacity="0.65"/>
<use href="#dr" transform="translate(157.4 46.5) scale(0.280)" opacity="0.65"/>
<use href="#dr" transform="translate(66.9 46.5) scale(0.281)" opacity="0.65"/>
<use href="#dr" transform="translate(118.0 46.6) scale(0.282)" opacity="0.66"/>
<use href="#dr" transform="translate(27.0 46.7) scale(0.282)" opacity="0.66"/>
<use href="#dr" transform="translate(169.5 46.7) scale(0.283)" opacity="0.66"/>
<use href="#dr" transform="translate(78.2 46.8) scale(0.283)" opacity="0.66"/>
<use href="#dr" transform="translate(129.8 46.9) scale(0.284)" opacity="0.66"/>
<use href="#dr" transform="translate(38.0 46.9) scale(0.285)" opacity="0.66"/>
<use href="#dr" transform="translate(181.7 47.0) scale(0.285)" opacity="0.66"/>
<use href="#dr" transform="translate(89.7 47.0) scale(0.286)" opacity="0.66"/>
<use href="#dr" transform="translate(-2.6 47.0) scale(0.286)" opacity="0.66"/>
<use href="#dr" transform="translate(141.8 47.1) scale(0.287)" opacity="0.66"/>
<use href="#dr" transform="translate(49.2 47.2) scale(0.287)" opacity="0.66"/>
<use href="#dr" transform="translate(101.4 47.3) scale(0.288)" opacity="0.66"/>
<use href="#dr" transform="translate(8.3 47.3) scale(0.289)" opacity="0.66"/>
<use href="#dr" transform="translate(153.9 47.4) scale(0.289)" opacity="0.66"/>
<use href="#dr" transform="translate(60.6 47.4) scale(0.290)" opacity="0.66"/>
<use href="#dr" transform="translate(113.3 47.5) scale(0.291)" opacity="0.66"/>
<use href="#dr" transform="translate(19.4 47.6) scale(0.291)" opacity="0.67"/>
<use href="#dr" transform="translate(166.3 47.6) scale(0.292)" opacity="0.67"/>
<use href="#dr" transform="translate(72.2 47.7) scale(0.292)" opacity="0.67"/>
<use href="#dr" transform="translate(125.4 47.8) scale(0.293)" opacity="0.67"/>
<use href="#dr" transform="translate(30.6 47.8) scale(0.294)" opacity="0.67"/>
<use href="#dr" transform="translate(179.0 47.9) scale(0.294)" opacity="0.67"/>
<use href="#dr" transform="translate(84.0 47.9) scale(0.295)" opacity="0.67"/>
<use href="#dr" transform="translate(137.7 48.1) scale(0.296)" opacity="0.67"/>
<use href="#dr" transform="translate(42.1 48.1) scale(0.296)" opacity="0.67"/>
<use href="#dr" transform="translate(96.0 48.2) scale(0.298)" opacity="0.67"/>
<use href="#dr" transform="translate(-0.1 48.2) scale(0.298)" opacity="0.67"/>
<use href="#dr" transform="translate(150.2 48.3) scale(0.299)" opacity="0.67"/>
<use href="#dr" transform="translate(53.8 48.4) scale(0.299)" opacity="0.67"/>
<use href="#dr" transform="translate(108.2 48.5) scale(0.300)" opacity="0.68"/>
<use href="#dr" transform="translate(11.2 48.5) scale(0.301)" opacity="0.68"/>
<use href="#dr" transform="translate(163.0 48.6) scale(0.301)" opacity="0.68"/>
<use href="#dr" transform="translate(65.7 48.6) scale(0.302)" opacity="0.68"/>
<use href="#dr" transform="translate(120.7 48.8) scale(0.303)" opacity="0.68"/>
<use href="#dr" transform="translate(22.8 48.8) scale(0.303)" opacity="0.68"/>
<use href="#dr" transform="translate(176.0 48.9) scale(0.304)" opacity="0.68"/>
<use href="#dr" transform="translate(77.9 48.9) scale(0.305)" opacity="0.68"/>
<use href="#dr" transform="translate(133.4 49.1) scale(0.306)" opacity="0.68"/>
<use href="#dr" transform="translate(34.6 49.1) scale(0.306)" opacity="0.68"/>
<use href="#dr" transform="translate(90.2 49.2) scale(0.307)" opacity="0.68"/>
<use href="#dr" transform="translate(146.3 49.3) scale(0.309)" opacity="0.68"/>
<use href="#dr" transform="translate(46.6 49.4) scale(0.309)" opacity="0.68"/>
<use href="#dr" transform="translate(102.8 49.5) scale(0.310)" opacity="0.69"/>
<use href="#dr" transform="translate(2.5 49.6) scale(0.311)" opacity="0.69"/>
<use href="#dr" transform="translate(159.5 49.6) scale(0.312)" opacity="0.69"/>
<use href="#dr" transform="translate(58.9 49.7) scale(0.312)" opacity="0.69"/>
<use href="#dr" transform="translate(115.6 49.8) scale(0.313)" opacity="0.69"/>
<use href="#dr" transform="translate(14.4 49.9) scale(0.314)" opacity="0.69"/>
<use href="#dr" transform="translate(172.9 49.9) scale(0.315)" opacity="0.69"/>
<use href="#dr" transform="translate(71.3 50.0) scale(0.315)" opacity="0.69"/>
<use href="#dr" transform="translate(128.7 50.1) scale(0.316)" opacity="0.69"/>
<use href="#dr" transform="translate(26.6 50.2) scale(0.317)" opacity="0.69"/>
<use href="#dr" transform="translate(84.1 50.3) scale(0.318)" opacity="0.69"/>
<use href="#dr" transform="translate(142.1 50.4) scale(0.319)" opacity="0.70"/>
<use href="#dr" transform="translate(38.9 50.5) scale(0.320)" opacity="0.70"/>
<use href="#dr" transform="translate(97.0 50.6) scale(0.321)" opacity="0.70"/>
<use href="#dr" transform="translate(155.7 50.8) scale(0.323)" opacity="0.70"/>
<use href="#dr" transform="translate(51.5 50.8) scale(0.323)" opacity="0.70"/>
<use href="#dr" transform="translate(110.3 50.9) scale(0.324)" opacity="0.70"/>
<use href="#dr" transform="translate(5.5 51.0) scale(0.325)" opacity="0.70"/>
<use href="#dr" transform="translate(169.5 51.1) scale(0.326)" opacity="0.70"/>
<use href="#dr" transform="translate(64.4 51.1) scale(0.326)" opacity="0.70"/>
<use href="#dr" transform="translate(123.8 51.3) scale(0.328)" opacity="0.70"/>
<use href="#dr" transform="translate(17.9 51.3) scale(0.328)" opacity="0.71"/>
<use href="#dr" transform="translate(183.7 51.4) scale(0.329)" opacity="0.71"/>
<use href="#dr" transform="translate(77.5 51.5) scale(0.330)" opacity="0.71"/>
<use href="#dr" transform="translate(137.5 51.6) scale(0.331)" opacity="0.71"/>
<use href="#dr" transform="translate(30.6 51.7) scale(0.331)" opacity="0.71"/>
<use href="#dr" transform="translate(90.8 51.8) scale(0.333)" opacity="0.71"/>
<use href="#dr" transform="translate(151.6 52.0) scale(0.334)" opacity="0.71"/>
<use href="#dr" transform="translate(43.6 52.0) scale(0.335)" opacity="0.71"/>
<use href="#dr" transform="translate(104.5 52.1) scale(0.336)" opacity="0.71"/>
<use href="#dr" transform="translate(-4.2 52.2) scale(0.337)" opacity="0.71"/>
<use href="#dr" transform="translate(165.9 52.3) scale(0.338)" opacity="0.72"/>
<use href="#dr" transform="translate(56.9 52.4) scale(0.338)" opacity="0.72"/>
<use href="#dr" transform="translate(118.4 52.5) scale(0.340)" opacity="0.72"/>
<use href="#dr" transform="translate(8.7 52.6) scale(0.340)" opacity="0.72"/>
<use href="#dr" transform="translate(180.5 52.7) scale(0.341)" opacity="0.72"/>
<use href="#dr" transform="translate(70.4 52.7) scale(0.342)" opacity="0.72"/>
<use href="#dr" transform="translate(132.7 52.9) scale(0.343)" opacity="0.72"/>
<use href="#dr" transform="translate(21.8 52.9) scale(0.344)" opacity="0.72"/>
<use href="#dr" transform="translate(84.2 53.1) scale(0.345)" opacity="0.72"/>
<use href="#dr" transform="translate(147.2 53.2) scale(0.347)" opacity="0.73"/>
<use href="#dr" transform="translate(35.1 53.3) scale(0.348)" opacity="0.73"/>
<use href="#dr" transform="translate(98.3 53.4) scale(0.349)" opacity="0.73"/>
<use href="#dr" transform="translate(162.0 53.6) scale(0.351)" opacity="0.73"/>
<use href="#dr" transform="translate(48.8 53.7) scale(0.351)" opacity="0.73"/>
<use href="#dr" transform="translate(112.7 53.8) scale(0.353)" opacity="0.73"/>
<use href="#dr" transform="translate(-1.3 53.9) scale(0.353)" opacity="0.73"/>
<use href="#dr" transform="translate(177.2 54.0) scale(0.355)" opacity="0.73"/>
<use href="#dr" transform="translate(62.7 54.1) scale(0.355)" opacity="0.73"/>
<use href="#dr" transform="translate(127.4 54.2) scale(0.357)" opacity="0.74"/>
<use href="#dr" transform="translate(12.2 54.3) scale(0.357)" opacity="0.74"/>
<use href="#dr" transform="translate(77.0 54.4) scale(0.359)" opacity="0.74"/>
<use href="#dr" transform="translate(142.4 54.6) scale(0.361)" opacity="0.74"/>
<use href="#dr" transform="translate(26.0 54.7) scale(0.361)" opacity="0.74"/>
<use href="#dr" transform="translate(91.6 54.8) scale(0.363)" opacity="0.74"/>
<use href="#dr" transform="translate(157.8 55.0) scale(0.365)" opacity="0.75"/>
<use href="#dr" transform="translate(40.1 55.1) scale(0.365)" opacity="0.75"/>
<use href="#dr" transform="translate(106.5 55.3) scale(0.367)" opacity="0.75"/>
<use href="#dr" transform="translate(173.5 55.4) scale(0.369)" opacity="0.75"/>
<use href="#dr" transform="translate(54.5 55.5) scale(0.369)" opacity="0.75"/>
<use href="#dr" transform="translate(121.7 55.7) scale(0.371)" opacity="0.75"/>
<use href="#dr" transform="translate(1.8 55.7) scale(0.372)" opacity="0.75"/>
<use href="#dr" transform="translate(69.2 55.9) scale(0.374)" opacity="0.75"/>
<use href="#dr" transform="translate(137.3 56.1) scale(0.375)" opacity="0.76"/>
<use href="#dr" transform="translate(16.1 56.2) scale(0.376)" opacity="0.76"/>
<use href="#dr" transform="translate(84.3 56.4) scale(0.378)" opacity="0.76"/>
<use href="#dr" transform="translate(153.3 56.6) scale(0.380)" opacity="0.76"/>
<use href="#dr" transform="translate(30.6 56.6) scale(0.380)" opacity="0.76"/>
<use href="#dr" transform="translate(99.8 56.8) scale(0.382)" opacity="0.76"/>
<use href="#dr" transform="translate(169.6 57.0) scale(0.384)" opacity="0.77"/>
<use href="#dr" transform="translate(45.6 57.1) scale(0.385)" opacity="0.77"/>
<use href="#dr" transform="translate(115.6 57.3) scale(0.387)" opacity="0.77"/>
<use href="#dr" transform="translate(60.8 57.5) scale(0.389)" opacity="0.77"/>
<use href="#dr" transform="translate(131.8 57.7) scale(0.391)" opacity="0.77"/>
<use href="#dr" transform="translate(5.3 57.8) scale(0.392)" opacity="0.77"/>
<use href="#dr" transform="translate(76.5 58.0) scale(0.394)" opacity="0.78"/>
<use href="#dr" transform="translate(148.3 58.2) scale(0.396)" opacity="0.78"/>
<use href="#dr" transform="translate(20.4 58.3) scale(0.397)" opacity="0.78"/>
<use href="#dr" transform="translate(92.5 58.5) scale(0.399)" opacity="0.78"/>
<use href="#dr" transform="translate(165.3 58.7) scale(0.401)" opacity="0.78"/>
<use href="#dr" transform="translate(35.8 58.8) scale(0.402)" opacity="0.79"/>
<use href="#dr" transform="translate(108.9 59.0) scale(0.404)" opacity="0.79"/>
<use href="#dr" transform="translate(182.7 59.2) scale(0.406)" opacity="0.79"/>
<use href="#dr" transform="translate(51.7 59.3) scale(0.407)" opacity="0.79"/>
<use href="#dr" transform="translate(125.7 59.5) scale(0.409)" opacity="0.79"/>
<use href="#dr" transform="translate(67.9 59.8) scale(0.412)" opacity="0.80"/>
<use href="#dr" transform="translate(142.9 60.0) scale(0.414)" opacity="0.80"/>
<use href="#dr" transform="translate(9.2 60.1) scale(0.415)" opacity="0.80"/>
<use href="#dr" transform="translate(84.5 60.3) scale(0.417)" opacity="0.80"/>
<use href="#dr" transform="translate(160.6 60.6) scale(0.419)" opacity="0.80"/>
<use href="#dr" transform="translate(25.2 60.6) scale(0.420)" opacity="0.81"/>
<use href="#dr" transform="translate(101.6 60.9) scale(0.422)" opacity="0.81"/>
<use href="#dr" transform="translate(178.8 61.1) scale(0.425)" opacity="0.81"/>
<use href="#dr" transform="translate(41.6 61.2) scale(0.425)" opacity="0.81"/>
<use href="#dr" transform="translate(119.1 61.4) scale(0.428)" opacity="0.81"/>
<use href="#dr" transform="translate(58.5 61.8) scale(0.431)" opacity="0.82"/>
<use href="#dr" transform="translate(137.0 62.0) scale(0.434)" opacity="0.82"/>
<use href="#dr" transform="translate(-3.0 62.1) scale(0.434)" opacity="0.82"/>
<use href="#dr" transform="translate(75.8 62.4) scale(0.437)" opacity="0.82"/>
<use href="#dr" transform="translate(155.5 62.6) scale(0.439)" opacity="0.83"/>
<use href="#dr" transform="translate(13.6 62.7) scale(0.440)" opacity="0.83"/>
<use href="#dr" transform="translate(93.6 63.0) scale(0.443)" opacity="0.83"/>
<use href="#dr" transform="translate(174.4 63.2) scale(0.445)" opacity="0.83"/>
<use href="#dr" transform="translate(30.7 63.3) scale(0.446)" opacity="0.83"/>
<use href="#dr" transform="translate(111.8 63.6) scale(0.449)" opacity="0.84"/>
<use href="#dr" transform="translate(48.2 63.9) scale(0.452)" opacity="0.84"/>
<use href="#dr" transform="translate(130.6 64.2) scale(0.455)" opacity="0.84"/>
<use href="#dr" transform="translate(66.2 64.6) scale(0.459)" opacity="0.85"/>
<use href="#dr" transform="translate(149.8 64.8) scale(0.461)" opacity="0.85"/>
<use href="#dr" transform="translate(0.8 64.9) scale(0.462)" opacity="0.85"/>
<use href="#dr" transform="translate(84.7 65.2) scale(0.465)" opacity="0.85"/>
<use href="#dr" transform="translate(169.7 65.5) scale(0.468)" opacity="0.86"/>
<use href="#dr" transform="translate(18.5 65.6) scale(0.469)" opacity="0.86"/>
<use href="#dr" transform="translate(103.8 65.9) scale(0.472)" opacity="0.86"/>
<use href="#dr" transform="translate(36.8 66.3) scale(0.476)" opacity="0.87"/>
<use href="#dr" transform="translate(123.4 66.6) scale(0.479)" opacity="0.87"/>
<use href="#dr" transform="translate(55.6 67.0) scale(0.483)" opacity="0.87"/>
<use href="#dr" transform="translate(143.6 67.3) scale(0.486)" opacity="0.88"/>
<use href="#dr" transform="translate(75.0 67.8) scale(0.490)" opacity="0.88"/>
<use href="#dr" transform="translate(164.4 68.1) scale(0.493)" opacity="0.88"/>
<use href="#dr" transform="translate(5.1 68.2) scale(0.494)" opacity="0.89"/>
<use href="#dr" transform="translate(94.9 68.5) scale(0.497)" opacity="0.89"/>
<use href="#dr" transform="translate(24.2 68.9) scale(0.502)" opacity="0.89"/>
<use href="#dr" transform="translate(115.5 69.3) scale(0.505)" opacity="0.90"/>
<use href="#dr" transform="translate(43.8 69.7) scale(0.510)" opacity="0.90"/>
<use href="#dr" transform="translate(136.7 70.1) scale(0.513)" opacity="0.91"/>
<use href="#dr" transform="translate(64.1 70.6) scale(0.518)" opacity="0.91"/>
<use href="#dr" transform="translate(158.5 70.9) scale(0.521)" opacity="0.91"/>
<use href="#dr" transform="translate(85.0 71.4) scale(0.526)" opacity="0.92"/>
<use href="#dr" transform="translate(181.1 71.8) scale(0.530)" opacity="0.92"/>
<use href="#dr" transform="translate(10.1 71.9) scale(0.531)" opacity="0.92"/>
<use href="#dr" transform="translate(106.6 72.3) scale(0.534)" opacity="0.93"/>
<use href="#dr" transform="translate(30.7 72.8) scale(0.539)" opacity="0.93"/>
<use href="#dr" transform="translate(128.9 73.2) scale(0.543)" opacity="0.94"/>
<use href="#dr" transform="translate(51.9 73.7) scale(0.549)" opacity="0.94"/>
<use href="#dr" transform="translate(152.0 74.1) scale(0.552)" opacity="0.95"/>
<use href="#dr" transform="translate(73.9 74.6) scale(0.558)" opacity="0.95"/>
<use href="#dr" transform="translate(175.8 75.1) scale(0.562)" opacity="0.96"/>
<use href="#dr" transform="translate(96.6 75.6) scale(0.568)" opacity="0.96"/>
<use href="#dr" transform="translate(15.8 76.2) scale(0.573)" opacity="0.97"/>
<use href="#dr" transform="translate(120.2 76.6) scale(0.577)" opacity="0.98"/>
<use href="#dr" transform="translate(38.2 77.2) scale(0.583)" opacity="0.98"/>
<use href="#dr" transform="translate(144.5 77.7) scale(0.588)" opacity="0.99"/>
<use href="#dr" transform="translate(61.3 78.3) scale(0.594)" opacity="0.99"/>
<use href="#dr" transform="translate(169.8 78.8) scale(0.599)" opacity="1.00"/>
<use href="#dr" transform="translate(85.3 79.4) scale(0.605)" opacity="1.00"/>
<use href="#dr" transform="translate(-0.9 80.1) scale(0.611)" opacity="1.00"/>
<use href="#dr" transform="translate(110.3 80.6) scale(0.616)" opacity="1.00"/>
<use href="#dr" transform="translate(22.6 81.3) scale(0.623)" opacity="1.00"/>
<use href="#dr" transform="translate(136.1 81.8) scale(0.628)" opacity="1.00"/>
<use href="#dr" transform="translate(47.1 82.5) scale(0.635)" opacity="1.00"/>
<use href="#dr" transform="translate(163.0 83.0) scale(0.640)" opacity="1.00"/>
<use href="#dr" transform="translate(72.5 83.8) scale(0.648)" opacity="1.00"/>
<use href="#dr" transform="translate(98.9 85.1) scale(0.661)" opacity="1.00"/>
<use href="#dr" transform="translate(4.8 85.9) scale(0.668)" opacity="1.00"/>
<use href="#dr" transform="translate(126.4 86.5) scale(0.674)" opacity="1.00"/>
<use href="#dr" transform="translate(30.7 87.3) scale(0.682)" opacity="1.00"/>
<use href="#dr" transform="translate(155.1 87.9) scale(0.688)" opacity="1.00"/>
<use href="#dr" transform="translate(57.7 88.7) scale(0.697)" opacity="1.00"/>
<use href="#dr" transform="translate(85.8 90.3) scale(0.712)" opacity="1.00"/>
<use href="#dr" transform="translate(115.2 91.9) scale(0.728)" opacity="1.00"/>
<use href="#dr" transform="translate(11.6 92.8) scale(0.737)" opacity="1.00"/>
<use href="#dr" transform="translate(146.0 93.6) scale(0.744)" opacity="1.00"/>
<use href="#dr" transform="translate(40.4 94.6) scale(0.754)" opacity="1.00"/>
<use href="#dr" transform="translate(178.2 95.3) scale(0.761)" opacity="1.00"/>
<use href="#dr" transform="translate(70.5 96.4) scale(0.772)" opacity="1.00"/>
<use href="#dr" transform="translate(102.1 98.2) scale(0.790)" opacity="1.00"/>
<use href="#dr" transform="translate(135.3 100.2) scale(0.810)" opacity="1.00"/>
<use href="#dr" transform="translate(20.1 101.4) scale(0.821)" opacity="1.00"/>
<use href="#dr" transform="translate(170.1 102.3) scale(0.830)" opacity="1.00"/>
<use href="#dr" transform="translate(52.4 103.5) scale(0.842)" opacity="1.00"/>
<use href="#dr" transform="translate(86.5 105.8) scale(0.865)" opacity="1.00"/>
<use href="#dr" transform="translate(122.4 108.2) scale(0.888)" opacity="1.00"/>
<use href="#dr" transform="translate(-4.3 109.6) scale(0.902)" opacity="1.00"/>
<use href="#dr" transform="translate(160.4 110.7) scale(0.913)" opacity="1.00"/>
<use href="#dr" transform="translate(30.7 112.2) scale(0.928)" opacity="1.00"/>
<use href="#dr" transform="translate(67.7 114.9) scale(0.955)" opacity="1.00"/>
<use href="#dr" transform="translate(106.9 117.8) scale(0.983)" opacity="1.00"/>
<use href="#dr" transform="translate(148.5 120.9) scale(1.014)" opacity="1.00"/>
<use href="#dr" transform="translate(4.0 122.8) scale(1.032)" opacity="1.00"/>
<use href="#dr" transform="translate(44.4 126.2) scale(1.065)" opacity="1.00"/>
<use href="#dr" transform="translate(87.6 129.8) scale(1.101)" opacity="1.00"/>
<use href="#dr" transform="translate(183.1 137.9) scale(1.180)" opacity="1.00"/>
<use href="#dr" transform="translate(15.1 140.4) scale(1.205)" opacity="1.00"/>
<use href="#dr" transform="translate(63.0 145.0) scale(1.251)" opacity="1.00"/>
<use href="#dr" transform="translate(170.6 155.5) scale(1.355)" opacity="1.00"/>
<use href="#dr" transform="translate(30.7 165.1) scale(1.449)" opacity="1.00"/>
<use href="#dr" transform="translate(89.4 171.9) scale(1.516)" opacity="1.00"/>
<use href="#dr" transform="translate(153.8 179.3) scale(1.589)" opacity="1.00"/>
</g>
<polygon points="8,35 132,35 132,35.8 60,36.6 30,37.6 8,38.8" fill="url(#sky)"/>
<polygon points="126,35 173,35 173,42.6" fill="#a4a6bc"/>
<polygon points="173,136.5 173,169.5 155.5,169.5" fill="#24263a"/>
<line x1="128" y1="35.2" x2="173" y2="42.6" stroke="#787c94" stroke-width="1" opacity="0.7"/>
</g>
<text x="82" y="144" font-size="9.6" text-anchor="start" fill="#111" font-weight="bold" stroke="#111" stroke-width="0.22" textLength="46.3" lengthAdjust="spacingAndGlyphs" >Patterned</text>
<text x="82.5" y="154.9" font-size="9.6" text-anchor="start" fill="#111" font-weight="bold" stroke="#111" stroke-width="0.22" textLength="68.8" lengthAdjust="spacingAndGlyphs" >water droplets</text>
<g stroke="#c41e24" stroke-width="0.8" fill="none" stroke-dasharray="0.9,0.7"><line x1="62.6" y1="147.6" x2="48.8" y2="182.2"/><line x1="62.6" y1="147.6" x2="128.2" y2="183.6"/></g>
<circle cx="62.6" cy="147.6" r="2.3" fill="#ee1c24"/>
<polygon points="45.8,181.2 51.2,183.2 47,187" fill="#e0141c"/>
<polygon points="127.2,183.2 130.2,181.6 132.6,186.6 127,186.6" fill="#e0141c"/>
<rect x="7" y="186.6" width="79.5" height="170.6" fill="none" stroke="#aab6c2" stroke-width="1.2"/>
<rect x="93.4" y="186.6" width="79.4" height="170.6" fill="none" stroke="#aab6c2" stroke-width="1.2"/>
<text x="48.7" y="197" font-size="8.6" text-anchor="middle" fill="#111" font-weight="bold" stroke="#111" stroke-width="0.12" textLength="53.9" lengthAdjust="spacingAndGlyphs" >D = 8.0 mm</text>
<path d="M20.4,216.1 V200.2 H72.7 V216.1" fill="none" stroke="#8c8c8c" stroke-width="0.55" stroke-dasharray="1,0.8"/>
<rect x="19.6" y="214.30" width="54.70" height="5.10" fill="#b8b8b8"/>
<path d="M21.20,216.10 C21.20,207.59 32.62,200.70 46.70,200.70 C60.78,200.70 72.20,207.59 72.20,216.10 C70.16,219.40 62.00,219.40 46.70,219.40 C31.40,219.40 23.24,219.40 21.20,216.10 Z" fill="#060606"/>
<line x1="22.20" y1="216.40" x2="71.20" y2="216.40" stroke="#d0d0d0" stroke-width="0.55" stroke-dasharray="0.9,0.9"/>
<text x="47" y="228.6" font-size="7.8" text-anchor="middle" fill="#111" font-weight="bold" stroke="#111" stroke-width="0.12" textLength="44.7" lengthAdjust="spacingAndGlyphs" >H = 2.5 mm</text>
<path d="M20.4,246.7 V232.9 H72.7 V246.7" fill="none" stroke="#8c8c8c" stroke-width="0.55" stroke-dasharray="1,0.8"/>
<rect x="19.8" y="244.90" width="54.00" height="4.10" fill="#b8b8b8"/>
<path d="M20.90,246.70 C23.44,238.19 29.54,233.60 46.30,233.60 C63.06,233.60 69.16,238.19 71.70,246.70 C69.67,249.00 61.54,249.00 46.30,249.00 C31.06,249.00 22.93,249.00 20.90,246.70 Z" fill="#060606"/>
<line x1="21.90" y1="247.00" x2="70.70" y2="247.00" stroke="#d0d0d0" stroke-width="0.55" stroke-dasharray="0.9,0.9"/>
<text x="47" y="257.4" font-size="7.8" text-anchor="middle" fill="#111" font-weight="bold" stroke="#111" stroke-width="0.12" textLength="44.7" lengthAdjust="spacingAndGlyphs" >H = 2.0 mm</text>
<path d="M20.5,272.5 V262.5 H72.9 V272.5" fill="none" stroke="#8c8c8c" stroke-width="0.55" stroke-dasharray="1,0.8"/>
<rect x="19.6" y="270.70" width="54.20" height="3.70" fill="#b8b8b8"/>
<path d="M21.50,272.50 C24.00,266.72 30.00,263.60 46.50,263.60 C63.00,263.60 69.00,266.72 71.50,272.50 C69.50,274.40 61.50,274.40 46.50,274.40 C31.50,274.40 23.50,274.40 21.50,272.50 Z" fill="#060606"/>
<line x1="22.50" y1="272.80" x2="70.50" y2="272.80" stroke="#d0d0d0" stroke-width="0.55" stroke-dasharray="0.9,0.9"/>
<text x="47" y="283.9" font-size="7.8" text-anchor="middle" fill="#111" font-weight="bold" stroke="#111" stroke-width="0.12" textLength="44.7" lengthAdjust="spacingAndGlyphs" >H = 1.5 mm</text>
<path d="M20.4,296.3 V289.2 H72.9 V296.3" fill="none" stroke="#8c8c8c" stroke-width="0.55" stroke-dasharray="1,0.8"/>
<path d="M22.50,296.30 C32.00,295.63 32.00,289.60 46.25,289.60 C60.50,289.60 60.50,295.63 70.00,296.30 Z" fill="#060606"/>
<rect x="17.30" y="296.10" width="56.00" height="3.70" fill="#0a0a0a"/>
<line x1="23.50" y1="296.60" x2="69.00" y2="296.60" stroke="#d0d0d0" stroke-width="0.55" stroke-dasharray="0.9,0.9"/>
<text x="47" y="309" font-size="7.8" text-anchor="middle" fill="#111" font-weight="bold" stroke="#111" stroke-width="0.12" textLength="44.7" lengthAdjust="spacingAndGlyphs" >H = 1.0 mm</text>
<path d="M20.5,318.3 V313.5 H72.7 V318.3" fill="none" stroke="#8c8c8c" stroke-width="0.55" stroke-dasharray="1,0.8"/>
<path d="M25.00,318.30 C34.10,317.93 34.10,314.60 47.75,314.60 C61.40,314.60 61.40,317.93 70.50,318.30 Z" fill="#060606"/>
<rect x="19.00" y="318.10" width="55.70" height="2.30" fill="#0a0a0a"/>
<line x1="26.00" y1="318.60" x2="69.50" y2="318.60" stroke="#d0d0d0" stroke-width="0.55" stroke-dasharray="0.9,0.9"/>
<text x="46.4" y="330.1" font-size="7.8" text-anchor="middle" fill="#111" font-weight="bold" stroke="#111" stroke-width="0.12" textLength="45" lengthAdjust="spacingAndGlyphs" >H = 0.5 mm</text>
<defs><linearGradient id="h0" x1="0" y1="0" x2="0" y2="1"><stop offset="0" stop-color="#a0a0a0"/><stop offset="0.25" stop-color="#606060"/><stop offset="0.45" stop-color="#151515"/><stop offset="1" stop-color="#000"/></linearGradient></defs>
<rect x="19" y="335.3" width="55.7" height="7.3" fill="url(#h0)"/>
<text x="46.9" y="352.5" font-size="8.3" text-anchor="middle" fill="#111" font-weight="bold" stroke="#111" stroke-width="0.12" textLength="37.8" lengthAdjust="spacingAndGlyphs" >H = 0 mm</text>
<text x="134.6" y="203" font-size="8.6" text-anchor="middle" fill="#111" font-weight="bold" stroke="#111" stroke-width="0.12" textLength="54.3" lengthAdjust="spacingAndGlyphs" >H = 2.0 mm</text>
<path d="M96.7,230.4 V220.4 H166.8 V230.4" fill="none" stroke="#8c8c8c" stroke-width="0.55" stroke-dasharray="1,0.8"/>
<rect x="95.5" y="228.60" width="74.20" height="6.40" fill="#b8b8b8"/>
<path d="M96.40,230.40 C103.59,223.82 110.78,221.00 132.35,221.00 C153.92,221.00 161.11,223.82 168.30,230.40 Z" fill="#060606"/>
<rect x="97.70" y="230.20" width="69.80" height="4.80" fill="#0a0a0a"/>
<rect x="95.5" y="231.00" width="74.20" height="4.00" fill="#1a1a1a"/>
<line x1="97.40" y1="230.70" x2="167.30" y2="230.70" stroke="#d0d0d0" stroke-width="0.55" stroke-dasharray="0.9,0.9"/>
<text x="132.2" y="243.8" font-size="8" text-anchor="middle" fill="#111" font-weight="bold" stroke="#111" stroke-width="0.12" textLength="42.5" lengthAdjust="spacingAndGlyphs" >D = 14 mm</text>
<path d="M103.1,268.6 V259.3 H160.6 V268.6" fill="none" stroke="#8c8c8c" stroke-width="0.55" stroke-dasharray="1,0.8"/>
<rect x="99.8" y="266.80" width="65.50" height="5.20" fill="#b8b8b8"/>
<path d="M103.90,268.60 C109.63,262.44 115.36,259.80 132.55,259.80 C149.74,259.80 155.47,262.44 161.20,268.60 Z" fill="#060606"/>
<rect x="102.00" y="268.40" width="61.10" height="3.60" fill="#0a0a0a"/>
<rect x="99.8" y="269.20" width="65.50" height="2.80" fill="#1a1a1a"/>
<line x1="104.90" y1="268.90" x2="160.20" y2="268.90" stroke="#d0d0d0" stroke-width="0.55" stroke-dasharray="0.9,0.9"/>
<text x="132" y="280.7" font-size="8" text-anchor="middle" fill="#111" font-weight="bold" stroke="#111" stroke-width="0.12" textLength="42.6" lengthAdjust="spacingAndGlyphs" >D = 12 mm</text>
<path d="M107.1,301.3 V291.7 H157.2 V301.3" fill="none" stroke="#8c8c8c" stroke-width="0.55" stroke-dasharray="1,0.8"/>
<rect x="106.1" y="299.50" width="52.70" height="5.30" fill="#b8b8b8"/>
<path d="M108.50,301.30 C113.29,295.49 118.08,293.00 132.45,293.00 C146.82,293.00 151.61,295.49 156.40,301.30 Z" fill="#060606"/>
<rect x="108.30" y="301.10" width="48.30" height="3.70" fill="#0a0a0a"/>
<rect x="106.1" y="301.90" width="52.70" height="2.90" fill="#1a1a1a"/>
<line x1="109.50" y1="301.60" x2="155.40" y2="301.60" stroke="#d0d0d0" stroke-width="0.55" stroke-dasharray="0.9,0.9"/>
<text x="132.7" y="314.3" font-size="8" text-anchor="middle" fill="#111" font-weight="bold" stroke="#111" stroke-width="0.12" textLength="42.6" lengthAdjust="spacingAndGlyphs" >D = 10 mm</text>
<path d="M113.7,336.4 V326.9 H150.2 V336.4" fill="none" stroke="#8c8c8c" stroke-width="0.55" stroke-dasharray="1,0.8"/>
<rect x="111.8" y="334.60" width="40.80" height="5.50" fill="#b8b8b8"/>
<path d="M113.80,336.40 C117.47,330.10 121.14,327.40 132.15,327.40 C143.16,327.40 146.83,330.10 150.50,336.40 Z" fill="#060606"/>
<rect x="114.00" y="336.20" width="36.40" height="3.90" fill="#0a0a0a"/>
<rect x="111.8" y="337.00" width="40.80" height="3.10" fill="#1a1a1a"/>
<line x1="114.80" y1="336.70" x2="149.50" y2="336.70" stroke="#d0d0d0" stroke-width="0.55" stroke-dasharray="0.9,0.9"/>
<text x="132.4" y="348.2" font-size="8" text-anchor="middle" fill="#111" font-weight="bold" stroke="#111" stroke-width="0.12" textLength="37.3" lengthAdjust="spacingAndGlyphs" >D = 8 mm</text>
<text x="189.2" y="13.8" font-size="16" text-anchor="start" fill="#111" font-weight="bold" stroke="#111" stroke-width="0.22" >b</text>
<line x1="221.4" y1="18.6" x2="414.6" y2="18.6" stroke="#666" stroke-width="0.7" stroke-dasharray="2,1.6"/>
<defs><clipPath id="cb"><rect x="221.4" y="6.5" width="193.2" height="143.6"/></clipPath></defs>
<g clip-path="url(#cb)">
<path d="M220.4,124.9h3.2v3.2h-3.2zM221.4,124.9h3.2v3.2h-3.2zM222.4,125.4h3.2v3.2h-3.2zM223.3,126.9h3.2v3.2h-3.2zM223.9,128.4h3.2v3.2h-3.2zM224.9,129.2h3.2v3.2h-3.2zM225.9,128.4h3.2v3.2h-3.2zM226.7,126.9h3.2v3.2h-3.2zM227.7,125.5h3.2v3.2h-3.2zM228.7,125.5h3.2v3.2h-3.2zM229.7,126.5h3.2v3.2h-3.2zM230.7,127.1h3.2v3.2h-3.2zM231.7,127.5h3.2v3.2h-3.2zM232.7,127.2h3.2v3.2h-3.2zM233.7,127.3h3.2v3.2h-3.2zM234.7,128.7h3.2v3.2h-3.2zM235.5,130.2h3.2v3.2h-3.2zM236.5,131.3h3.2v3.2h-3.2zM237.5,131.0h3.2v3.2h-3.2zM238.5,130.1h3.2v3.2h-3.2zM239.0,128.4h3.2v3.2h-3.2zM239.6,126.8h3.2v3.2h-3.2zM240.4,125.4h3.2v3.2h-3.2zM241.2,124.0h3.2v3.2h-3.2zM241.8,122.2h3.2v3.2h-3.2zM242.3,120.3h3.2v3.2h-3.2zM242.7,118.5h3.2v3.2h-3.2zM243.1,116.6h3.2v3.2h-3.2zM243.5,114.7h3.2v3.2h-3.2zM243.9,112.8h3.2v3.2h-3.2zM244.9,113.9h3.2v3.2h-3.2zM245.5,115.4h3.2v3.2h-3.2zM246.0,117.0h3.2v3.2h-3.2zM246.6,118.7h3.2v3.2h-3.2zM247.4,120.3h3.2v3.2h-3.2zM248.4,120.9h3.2v3.2h-3.2zM249.2,119.3h3.2v3.2h-3.2zM249.8,117.7h3.2v3.2h-3.2zM250.7,116.3h3.2v3.2h-3.2zM251.7,115.8h3.2v3.2h-3.2zM252.7,116.6h3.2v3.2h-3.2zM253.7,116.0h3.2v3.2h-3.2zM254.6,114.8h3.2v3.2h-3.2zM255.5,114.4h3.2v3.2h-3.2zM256.2,115.9h3.2v3.2h-3.2zM256.8,117.6h3.2v3.2h-3.2zM257.4,119.4h3.2v3.2h-3.2zM258.0,120.9h3.2v3.2h-3.2zM258.9,121.2h3.2v3.2h-3.2zM259.8,120.3h3.2v3.2h-3.2zM260.7,119.6h3.2v3.2h-3.2zM261.6,120.0h3.2v3.2h-3.2zM262.5,121.3h3.2v3.2h-3.2zM263.4,122.5h3.2v3.2h-3.2zM264.3,122.6h3.2v3.2h-3.2zM265.2,121.8h3.2v3.2h-3.2zM266.1,120.6h3.2v3.2h-3.2zM267.0,119.7h3.2v3.2h-3.2zM267.9,119.8h3.2v3.2h-3.2zM268.8,119.9h3.2v3.2h-3.2zM269.7,119.1h3.2v3.2h-3.2zM270.5,117.5h3.2v3.2h-3.2zM271.2,115.9h3.2v3.2h-3.2zM272.1,114.5h3.2v3.2h-3.2zM273.0,114.7h3.2v3.2h-3.2zM273.9,115.7h3.2v3.2h-3.2zM274.8,116.0h3.2v3.2h-3.2zM275.7,115.1h3.2v3.2h-3.2zM276.6,113.8h3.2v3.2h-3.2zM277.5,113.2h3.2v3.2h-3.2zM278.4,113.7h3.2v3.2h-3.2zM279.3,114.8h3.2v3.2h-3.2zM280.2,115.5h3.2v3.2h-3.2zM281.1,115.0h3.2v3.2h-3.2zM282.0,113.8h3.2v3.2h-3.2zM282.9,113.1h3.2v3.2h-3.2zM283.8,113.9h3.2v3.2h-3.2zM284.6,115.4h3.2v3.2h-3.2zM285.5,116.7h3.2v3.2h-3.2zM286.4,116.9h3.2v3.2h-3.2zM287.3,115.8h3.2v3.2h-3.2zM288.0,114.2h3.2v3.2h-3.2zM288.9,113.0h3.2v3.2h-3.2zM289.8,112.8h3.2v3.2h-3.2zM290.7,112.8h3.2v3.2h-3.2zM291.6,111.8h3.2v3.2h-3.2zM292.3,110.3h3.2v3.2h-3.2zM292.9,108.7h3.2v3.2h-3.2zM293.6,107.2h3.2v3.2h-3.2zM294.5,106.1h3.2v3.2h-3.2zM295.4,106.0h3.2v3.2h-3.2zM296.2,107.6h3.2v3.2h-3.2zM296.9,109.2h3.2v3.2h-3.2zM297.8,110.4h3.2v3.2h-3.2zM298.7,111.0h3.2v3.2h-3.2zM299.6,112.4h3.2v3.2h-3.2zM300.5,113.1h3.2v3.2h-3.2zM301.4,113.3h3.2v3.2h-3.2zM302.3,113.0h3.2v3.2h-3.2zM303.2,111.5h3.2v3.2h-3.2zM303.9,109.9h3.2v3.2h-3.2zM304.8,109.3h3.2v3.2h-3.2zM305.7,110.5h3.2v3.2h-3.2zM306.4,112.1h3.2v3.2h-3.2zM307.1,113.7h3.2v3.2h-3.2zM308.0,114.9h3.2v3.2h-3.2zM308.9,114.0h3.2v3.2h-3.2zM309.5,112.4h3.2v3.2h-3.2zM310.2,110.9h3.2v3.2h-3.2zM311.1,109.8h3.2v3.2h-3.2zM312.0,110.1h3.2v3.2h-3.2zM312.9,110.3h3.2v3.2h-3.2zM313.8,109.5h3.2v3.2h-3.2zM314.6,107.9h3.2v3.2h-3.2zM315.3,106.5h3.2v3.2h-3.2zM316.2,105.4h3.2v3.2h-3.2zM317.1,105.2h3.2v3.2h-3.2zM318.0,105.3h3.2v3.2h-3.2zM318.9,104.8h3.2v3.2h-3.2zM319.7,103.3h3.2v3.2h-3.2zM320.4,101.5h3.2v3.2h-3.2zM321.3,101.5h3.2v3.2h-3.2zM321.8,103.2h3.2v3.2h-3.2zM322.2,104.8h3.2v3.2h-3.2zM322.6,106.6h3.2v3.2h-3.2zM323.0,108.5h3.2v3.2h-3.2zM323.4,110.3h3.2v3.2h-3.2zM323.8,112.0h3.2v3.2h-3.2zM324.7,112.5h3.2v3.2h-3.2zM325.5,110.8h3.2v3.2h-3.2zM326.2,109.2h3.2v3.2h-3.2zM327.1,107.9h3.2v3.2h-3.2zM328.0,107.6h3.2v3.2h-3.2zM328.9,107.9h3.2v3.2h-3.2zM329.8,107.6h3.2v3.2h-3.2zM330.7,106.3h3.2v3.2h-3.2zM331.6,106.3h3.2v3.2h-3.2zM332.5,106.8h3.2v3.2h-3.2zM333.3,108.2h3.2v3.2h-3.2zM333.9,109.7h3.2v3.2h-3.2zM334.5,111.3h3.2v3.2h-3.2zM335.4,111.9h3.2v3.2h-3.2zM336.3,110.6h3.2v3.2h-3.2zM337.1,109.0h3.2v3.2h-3.2zM338.0,107.9h3.2v3.2h-3.2zM338.9,107.9h3.2v3.2h-3.2zM339.8,108.5h3.2v3.2h-3.2zM340.7,109.5h3.2v3.2h-3.2zM341.6,110.2h3.2v3.2h-3.2zM342.5,110.2h3.2v3.2h-3.2zM343.4,110.7h3.2v3.2h-3.2zM344.3,112.2h3.2v3.2h-3.2zM344.9,113.8h3.2v3.2h-3.2zM345.5,115.3h3.2v3.2h-3.2zM346.3,116.8h3.2v3.2h-3.2zM347.2,117.3h3.2v3.2h-3.2zM348.1,117.6h3.2v3.2h-3.2zM349.0,118.8h3.2v3.2h-3.2zM349.7,120.5h3.2v3.2h-3.2zM350.2,122.1h3.2v3.2h-3.2zM350.7,123.8h3.2v3.2h-3.2zM351.2,125.3h3.2v3.2h-3.2zM351.9,126.9h3.2v3.2h-3.2zM352.8,128.0h3.2v3.2h-3.2zM353.7,128.6h3.2v3.2h-3.2zM354.6,129.2h3.2v3.2h-3.2zM355.5,130.1h3.2v3.2h-3.2zM356.4,131.5h3.2v3.2h-3.2zM357.3,132.3h3.2v3.2h-3.2zM358.2,131.9h3.2v3.2h-3.2zM358.9,130.3h3.2v3.2h-3.2zM359.5,128.8h3.2v3.2h-3.2zM360.4,127.4h3.2v3.2h-3.2zM361.3,127.0h3.2v3.2h-3.2zM362.2,126.7h3.2v3.2h-3.2zM363.1,125.8h3.2v3.2h-3.2zM363.9,124.3h3.2v3.2h-3.2zM364.6,122.8h3.2v3.2h-3.2zM365.5,121.4h3.2v3.2h-3.2zM366.4,121.2h3.2v3.2h-3.2zM367.3,121.6h3.2v3.2h-3.2zM368.2,121.5h3.2v3.2h-3.2zM369.1,120.3h3.2v3.2h-3.2zM369.8,118.7h3.2v3.2h-3.2zM370.5,117.2h3.2v3.2h-3.2zM371.4,116.2h3.2v3.2h-3.2zM372.3,116.3h3.2v3.2h-3.2zM373.2,116.5h3.2v3.2h-3.2zM374.1,115.7h3.2v3.2h-3.2zM374.9,114.1h3.2v3.2h-3.2zM375.6,112.5h3.2v3.2h-3.2zM376.5,111.2h3.2v3.2h-3.2zM377.4,111.0h3.2v3.2h-3.2zM378.3,111.4h3.2v3.2h-3.2zM379.2,111.3h3.2v3.2h-3.2zM380.1,110.1h3.2v3.2h-3.2zM380.8,108.6h3.2v3.2h-3.2zM381.6,107.1h3.2v3.2h-3.2zM382.5,106.5h3.2v3.2h-3.2zM383.4,107.2h3.2v3.2h-3.2zM384.3,107.9h3.2v3.2h-3.2zM385.2,107.5h3.2v3.2h-3.2zM386.1,106.2h3.2v3.2h-3.2zM387.0,104.8h3.2v3.2h-3.2zM387.9,105.5h3.2v3.2h-3.2zM388.5,107.3h3.2v3.2h-3.2zM389.0,108.9h3.2v3.2h-3.2zM389.5,110.6h3.2v3.2h-3.2zM390.1,112.2h3.2v3.2h-3.2zM391.0,113.6h3.2v3.2h-3.2zM391.9,114.2h3.2v3.2h-3.2zM392.8,114.8h3.2v3.2h-3.2zM393.6,116.3h3.2v3.2h-3.2zM394.2,117.9h3.2v3.2h-3.2zM394.8,119.7h3.2v3.2h-3.2zM395.4,121.2h3.2v3.2h-3.2zM396.3,122.5h3.2v3.2h-3.2zM397.2,123.0h3.2v3.2h-3.2zM398.1,124.2h3.2v3.2h-3.2zM398.8,125.8h3.2v3.2h-3.2zM399.3,127.5h3.2v3.2h-3.2zM399.8,129.3h3.2v3.2h-3.2zM400.3,131.2h3.2v3.2h-3.2zM400.8,132.9h3.2v3.2h-3.2zM401.4,134.6h3.2v3.2h-3.2zM402.2,136.2h3.2v3.2h-3.2zM403.1,137.4h3.2v3.2h-3.2zM403.9,139.0h3.2v3.2h-3.2zM404.5,140.8h3.2v3.2h-3.2zM405.0,142.6h3.2v3.2h-3.2zM405.5,144.5h3.2v3.2h-3.2zM406.0,146.4h3.2v3.2h-3.2zM406.5,148.0h3.2v3.2h-3.2z" fill="none" stroke="#484848" stroke-width="0.75" opacity="1.0"/>
<path d="M220.4,145.4h3.1v3.1h-3.1zM221.0,145.6h3.1v3.1h-3.1zM221.6,145.7h3.1v3.1h-3.1zM222.2,145.9h3.1v3.1h-3.1zM222.8,146.0h3.1v3.1h-3.1zM223.4,146.2h3.1v3.1h-3.1zM224.0,146.3h3.1v3.1h-3.1zM224.6,146.4h3.1v3.1h-3.1zM225.2,146.4h3.1v3.1h-3.1zM225.8,146.3h3.1v3.1h-3.1zM226.4,146.2h3.1v3.1h-3.1zM227.0,146.1h3.1v3.1h-3.1zM227.6,146.1h3.1v3.1h-3.1zM228.2,146.0h3.1v3.1h-3.1zM228.8,146.0h3.1v3.1h-3.1zM229.4,146.1h3.1v3.1h-3.1zM230.0,146.1h3.1v3.1h-3.1zM230.6,146.2h3.1v3.1h-3.1zM231.2,146.3h3.1v3.1h-3.1zM231.8,146.4h3.1v3.1h-3.1zM232.4,146.4h3.1v3.1h-3.1zM233.0,146.3h3.1v3.1h-3.1zM233.6,146.1h3.1v3.1h-3.1zM234.2,145.9h3.1v3.1h-3.1zM234.8,145.7h3.1v3.1h-3.1zM235.4,145.5h3.1v3.1h-3.1zM236.0,144.3h3.1v3.1h-3.1zM236.6,143.1h3.1v3.1h-3.1zM237.2,141.9h3.1v3.1h-3.1zM237.8,140.7h3.1v3.1h-3.1zM238.4,138.5h3.1v3.1h-3.1zM239.0,136.1h3.1v3.1h-3.1zM239.6,133.7h3.1v3.1h-3.1zM240.2,131.0h3.1v3.1h-3.1zM240.7,128.5h3.1v3.1h-3.1zM241.2,126.0h3.1v3.1h-3.1zM241.7,123.5h3.1v3.1h-3.1zM242.3,122.0h3.1v3.1h-3.1zM242.9,121.4h3.1v3.1h-3.1zM243.5,120.7h3.1v3.1h-3.1zM244.1,120.0h3.1v3.1h-3.1zM244.7,119.4h3.1v3.1h-3.1zM245.3,119.8h3.1v3.1h-3.1zM245.9,120.8h3.1v3.1h-3.1zM246.5,121.8h3.1v3.1h-3.1zM247.1,122.8h3.1v3.1h-3.1zM247.7,123.8h3.1v3.1h-3.1zM248.3,123.3h3.1v3.1h-3.1zM248.9,122.5h3.1v3.1h-3.1zM249.5,121.6h3.1v3.1h-3.1zM250.1,120.8h3.1v3.1h-3.1zM250.7,119.8h3.1v3.1h-3.1zM251.3,117.7h3.1v3.1h-3.1zM251.9,115.6h3.1v3.1h-3.1zM252.5,113.5h3.1v3.1h-3.1zM252.9,111.1h3.1v3.1h-3.1zM253.3,108.7h3.1v3.1h-3.1zM253.7,106.3h3.1v3.1h-3.1zM254.1,103.9h3.1v3.1h-3.1zM254.6,102.4h3.1v3.1h-3.1zM255.1,103.0h3.1v3.1h-3.1zM255.6,103.6h3.1v3.1h-3.1zM256.1,104.3h3.1v3.1h-3.1zM256.6,104.9h3.1v3.1h-3.1zM257.1,105.5h3.1v3.1h-3.1zM257.6,106.1h3.1v3.1h-3.1zM258.1,106.7h3.1v3.1h-3.1zM258.6,106.7h3.1v3.1h-3.1zM259.1,106.4h3.1v3.1h-3.1zM259.6,106.2h3.1v3.1h-3.1zM260.1,105.9h3.1v3.1h-3.1zM260.6,105.7h3.1v3.1h-3.1zM261.1,105.4h3.1v3.1h-3.1zM261.6,105.2h3.1v3.1h-3.1zM262.1,105.0h3.1v3.1h-3.1zM262.6,105.4h3.1v3.1h-3.1zM263.2,105.8h3.1v3.1h-3.1zM263.7,106.2h3.1v3.1h-3.1zM264.2,106.6h3.1v3.1h-3.1zM264.7,106.9h3.1v3.1h-3.1zM265.2,107.3h3.1v3.1h-3.1zM265.7,107.7h3.1v3.1h-3.1zM266.2,107.7h3.1v3.1h-3.1zM266.7,107.4h3.1v3.1h-3.1zM267.2,107.2h3.1v3.1h-3.1zM267.7,106.9h3.1v3.1h-3.1zM268.2,106.7h3.1v3.1h-3.1zM268.7,106.4h3.1v3.1h-3.1zM269.2,106.2h3.1v3.1h-3.1zM269.7,105.9h3.1v3.1h-3.1zM270.2,105.4h3.1v3.1h-3.1zM270.7,104.9h3.1v3.1h-3.1zM271.2,104.4h3.1v3.1h-3.1zM271.7,103.9h3.1v3.1h-3.1zM272.2,103.4h3.1v3.1h-3.1zM272.7,102.6h3.1v3.1h-3.1zM273.2,101.5h3.1v3.1h-3.1zM273.7,100.3h3.1v3.1h-3.1zM274.2,99.2h3.1v3.1h-3.1zM274.7,98.0h3.1v3.1h-3.1zM275.2,96.9h3.1v3.1h-3.1zM275.7,95.5h3.1v3.1h-3.1zM276.2,93.8h3.1v3.1h-3.1zM276.7,92.2h3.1v3.1h-3.1zM277.2,90.6h3.1v3.1h-3.1zM277.7,89.0h3.1v3.1h-3.1zM278.2,87.3h3.1v3.1h-3.1zM278.7,86.0h3.1v3.1h-3.1zM279.2,85.0h3.1v3.1h-3.1zM279.7,84.0h3.1v3.1h-3.1zM280.2,83.0h3.1v3.1h-3.1zM280.7,82.0h3.1v3.1h-3.1zM281.2,81.1h3.1v3.1h-3.1zM281.7,80.1h3.1v3.1h-3.1zM282.2,79.1h3.1v3.1h-3.1zM282.7,78.1h3.1v3.1h-3.1zM283.2,77.2h3.1v3.1h-3.1zM283.7,76.4h3.1v3.1h-3.1zM284.2,75.5h3.1v3.1h-3.1zM284.7,74.7h3.1v3.1h-3.1zM285.2,73.8h3.1v3.1h-3.1zM285.7,73.0h3.1v3.1h-3.1zM286.2,72.1h3.1v3.1h-3.1zM286.7,71.3h3.1v3.1h-3.1zM287.2,70.4h3.1v3.1h-3.1zM287.7,69.2h3.1v3.1h-3.1zM288.2,67.9h3.1v3.1h-3.1zM288.7,66.6h3.1v3.1h-3.1zM289.2,65.3h3.1v3.1h-3.1zM289.7,64.0h3.1v3.1h-3.1zM290.2,62.7h3.1v3.1h-3.1zM290.7,61.1h3.1v3.1h-3.1zM291.2,59.4h3.1v3.1h-3.1zM291.7,57.6h3.1v3.1h-3.1zM292.2,55.9h3.1v3.1h-3.1zM292.7,54.2h3.1v3.1h-3.1zM293.2,52.5h3.1v3.1h-3.1zM293.7,50.7h3.1v3.1h-3.1zM294.2,49.0h3.1v3.1h-3.1zM294.7,47.2h3.1v3.1h-3.1zM295.2,45.5h3.1v3.1h-3.1zM295.7,43.7h3.1v3.1h-3.1zM296.2,41.9h3.1v3.1h-3.1zM296.7,40.1h3.1v3.1h-3.1zM297.2,38.2h3.1v3.1h-3.1zM297.7,36.4h3.1v3.1h-3.1zM298.2,34.6h3.1v3.1h-3.1zM298.7,33.3h3.1v3.1h-3.1zM299.2,32.9h3.1v3.1h-3.1zM299.7,32.4h3.1v3.1h-3.1zM300.2,32.0h3.1v3.1h-3.1zM300.7,31.6h3.1v3.1h-3.1zM301.2,31.2h3.1v3.1h-3.1zM301.7,30.8h3.1v3.1h-3.1zM302.2,30.4h3.1v3.1h-3.1zM302.7,30.0h3.1v3.1h-3.1zM303.2,29.6h3.1v3.1h-3.1zM303.7,29.3h3.1v3.1h-3.1zM304.2,28.8h3.1v3.1h-3.1zM304.7,28.1h3.1v3.1h-3.1zM305.2,27.3h3.1v3.1h-3.1zM305.7,26.6h3.1v3.1h-3.1zM306.2,25.9h3.1v3.1h-3.1zM306.7,25.2h3.1v3.1h-3.1zM307.2,24.6h3.1v3.1h-3.1zM307.7,24.0h3.1v3.1h-3.1zM308.2,23.5h3.1v3.1h-3.1zM308.7,22.9h3.1v3.1h-3.1zM309.2,22.3h3.1v3.1h-3.1zM309.7,21.8h3.1v3.1h-3.1zM310.2,21.5h3.1v3.1h-3.1zM310.7,21.2h3.1v3.1h-3.1zM311.2,20.9h3.1v3.1h-3.1zM311.7,20.6h3.1v3.1h-3.1zM312.2,20.3h3.1v3.1h-3.1zM312.7,20.0h3.1v3.1h-3.1zM313.2,19.7h3.1v3.1h-3.1zM313.7,19.4h3.1v3.1h-3.1zM314.2,19.1h3.1v3.1h-3.1zM314.7,18.9h3.1v3.1h-3.1zM315.2,18.8h3.1v3.1h-3.1zM315.7,18.6h3.1v3.1h-3.1zM316.2,18.5h3.1v3.1h-3.1zM316.7,18.4h3.1v3.1h-3.1zM317.2,18.3h3.1v3.1h-3.1zM317.7,18.1h3.1v3.1h-3.1zM318.2,18.0h3.1v3.1h-3.1zM318.7,17.9h3.1v3.1h-3.1zM319.2,17.8h3.1v3.1h-3.1zM319.7,17.6h3.1v3.1h-3.1zM320.2,17.5h3.1v3.1h-3.1zM320.7,17.5h3.1v3.1h-3.1zM321.2,17.5h3.1v3.1h-3.1zM321.7,17.5h3.1v3.1h-3.1zM322.2,17.5h3.1v3.1h-3.1zM322.7,17.6h3.1v3.1h-3.1zM323.2,17.6h3.1v3.1h-3.1zM323.7,17.6h3.1v3.1h-3.1zM324.2,17.7h3.1v3.1h-3.1zM324.7,17.7h3.1v3.1h-3.1zM325.2,17.7h3.1v3.1h-3.1zM325.7,17.7h3.1v3.1h-3.1zM326.2,17.8h3.1v3.1h-3.1zM326.7,17.8h3.1v3.1h-3.1zM327.2,17.8h3.1v3.1h-3.1zM327.7,17.9h3.1v3.1h-3.1zM328.2,17.9h3.1v3.1h-3.1zM328.7,17.9h3.1v3.1h-3.1zM329.2,18.0h3.1v3.1h-3.1zM329.7,18.0h3.1v3.1h-3.1zM330.2,18.0h3.1v3.1h-3.1zM330.7,18.0h3.1v3.1h-3.1zM331.2,18.1h3.1v3.1h-3.1zM331.7,18.1h3.1v3.1h-3.1zM332.2,18.1h3.1v3.1h-3.1zM332.7,18.2h3.1v3.1h-3.1zM333.2,18.2h3.1v3.1h-3.1zM333.7,18.2h3.1v3.1h-3.1zM334.2,18.3h3.1v3.1h-3.1zM334.7,18.3h3.1v3.1h-3.1zM335.2,18.3h3.1v3.1h-3.1zM335.7,18.4h3.1v3.1h-3.1zM336.2,18.4h3.1v3.1h-3.1zM336.7,18.4h3.1v3.1h-3.1zM337.2,18.4h3.1v3.1h-3.1zM337.7,18.5h3.1v3.1h-3.1zM338.2,18.5h3.1v3.1h-3.1zM338.7,18.5h3.1v3.1h-3.1zM339.2,18.5h3.1v3.1h-3.1zM339.7,18.5h3.1v3.1h-3.1zM340.2,18.5h3.1v3.1h-3.1zM340.7,18.6h3.1v3.1h-3.1zM341.2,18.6h3.1v3.1h-3.1zM341.7,18.6h3.1v3.1h-3.1zM342.2,18.6h3.1v3.1h-3.1zM342.7,18.6h3.1v3.1h-3.1zM343.2,18.6h3.1v3.1h-3.1zM343.7,18.7h3.1v3.1h-3.1zM344.2,18.8h3.1v3.1h-3.1zM344.7,18.8h3.1v3.1h-3.1zM345.2,18.9h3.1v3.1h-3.1zM345.7,19.0h3.1v3.1h-3.1zM346.2,19.1h3.1v3.1h-3.1zM346.7,19.2h3.1v3.1h-3.1zM347.2,19.2h3.1v3.1h-3.1zM347.7,19.3h3.1v3.1h-3.1zM348.2,19.4h3.1v3.1h-3.1zM348.7,19.5h3.1v3.1h-3.1zM349.2,19.5h3.1v3.1h-3.1zM349.7,19.6h3.1v3.1h-3.1zM350.2,19.7h3.1v3.1h-3.1zM350.7,19.8h3.1v3.1h-3.1zM351.2,19.9h3.1v3.1h-3.1zM351.7,19.9h3.1v3.1h-3.1zM352.2,20.0h3.1v3.1h-3.1zM352.7,20.1h3.1v3.1h-3.1zM353.2,20.2h3.1v3.1h-3.1zM353.7,20.3h3.1v3.1h-3.1zM354.2,20.3h3.1v3.1h-3.1zM354.7,20.4h3.1v3.1h-3.1zM355.2,20.4h3.1v3.1h-3.1zM355.7,20.5h3.1v3.1h-3.1zM356.2,20.6h3.1v3.1h-3.1zM356.7,20.6h3.1v3.1h-3.1zM357.2,20.7h3.1v3.1h-3.1zM357.7,20.8h3.1v3.1h-3.1zM358.2,20.8h3.1v3.1h-3.1zM358.7,20.9h3.1v3.1h-3.1zM359.2,21.0h3.1v3.1h-3.1zM359.7,21.0h3.1v3.1h-3.1zM360.2,21.1h3.1v3.1h-3.1zM360.7,21.1h3.1v3.1h-3.1zM361.2,21.2h3.1v3.1h-3.1zM361.7,21.3h3.1v3.1h-3.1zM362.2,21.3h3.1v3.1h-3.1zM362.7,21.4h3.1v3.1h-3.1zM363.2,21.5h3.1v3.1h-3.1zM363.7,21.5h3.1v3.1h-3.1zM364.2,21.6h3.1v3.1h-3.1zM364.7,21.6h3.1v3.1h-3.1zM365.2,21.7h3.1v3.1h-3.1zM365.7,21.7h3.1v3.1h-3.1zM366.2,21.8h3.1v3.1h-3.1zM366.7,21.8h3.1v3.1h-3.1zM367.2,21.9h3.1v3.1h-3.1zM367.7,22.0h3.1v3.1h-3.1zM368.2,22.0h3.1v3.1h-3.1zM368.7,22.1h3.1v3.1h-3.1zM369.2,22.1h3.1v3.1h-3.1zM369.7,22.2h3.1v3.1h-3.1zM370.2,22.2h3.1v3.1h-3.1zM370.7,22.3h3.1v3.1h-3.1zM371.2,22.3h3.1v3.1h-3.1zM371.7,22.4h3.1v3.1h-3.1zM372.2,22.4h3.1v3.1h-3.1zM372.7,22.5h3.1v3.1h-3.1zM373.2,22.5h3.1v3.1h-3.1zM373.7,22.6h3.1v3.1h-3.1zM374.2,22.7h3.1v3.1h-3.1zM374.7,22.7h3.1v3.1h-3.1zM375.2,22.8h3.1v3.1h-3.1zM375.7,22.8h3.1v3.1h-3.1zM376.2,22.9h3.1v3.1h-3.1zM376.7,22.9h3.1v3.1h-3.1zM377.2,23.0h3.1v3.1h-3.1zM377.7,23.0h3.1v3.1h-3.1zM378.2,23.1h3.1v3.1h-3.1zM378.7,23.1h3.1v3.1h-3.1zM379.2,23.2h3.1v3.1h-3.1zM379.7,23.2h3.1v3.1h-3.1zM380.2,23.3h3.1v3.1h-3.1zM380.7,23.3h3.1v3.1h-3.1zM381.2,23.4h3.1v3.1h-3.1zM381.7,23.4h3.1v3.1h-3.1zM382.2,23.5h3.1v3.1h-3.1zM382.7,23.5h3.1v3.1h-3.1zM383.2,23.6h3.1v3.1h-3.1zM383.7,23.6h3.1v3.1h-3.1zM384.2,23.7h3.1v3.1h-3.1zM384.7,23.8h3.1v3.1h-3.1zM385.2,23.8h3.1v3.1h-3.1zM385.7,23.9h3.1v3.1h-3.1zM386.2,23.9h3.1v3.1h-3.1zM386.7,24.0h3.1v3.1h-3.1zM387.2,24.1h3.1v3.1h-3.1zM387.7,24.1h3.1v3.1h-3.1zM388.2,24.2h3.1v3.1h-3.1zM388.7,24.2h3.1v3.1h-3.1zM389.2,24.3h3.1v3.1h-3.1zM389.7,24.4h3.1v3.1h-3.1zM390.2,24.4h3.1v3.1h-3.1zM390.7,24.5h3.1v3.1h-3.1zM391.2,24.6h3.1v3.1h-3.1zM391.7,24.6h3.1v3.1h-3.1zM392.2,24.7h3.1v3.1h-3.1zM392.7,24.7h3.1v3.1h-3.1zM393.2,24.8h3.1v3.1h-3.1zM393.7,24.9h3.1v3.1h-3.1zM394.2,24.9h3.1v3.1h-3.1zM394.7,25.0h3.1v3.1h-3.1zM395.2,25.0h3.1v3.1h-3.1zM395.7,25.2h3.1v3.1h-3.1zM396.2,25.3h3.1v3.1h-3.1zM396.7,25.4h3.1v3.1h-3.1zM397.2,25.6h3.1v3.1h-3.1zM397.7,25.7h3.1v3.1h-3.1zM398.2,25.8h3.1v3.1h-3.1zM398.7,26.0h3.1v3.1h-3.1zM399.2,26.1h3.1v3.1h-3.1zM399.7,26.2h3.1v3.1h-3.1zM400.2,26.4h3.1v3.1h-3.1zM400.7,26.6h3.1v3.1h-3.1zM401.2,27.1h3.1v3.1h-3.1zM401.7,27.6h3.1v3.1h-3.1zM402.2,28.0h3.1v3.1h-3.1zM402.7,28.5h3.1v3.1h-3.1zM403.2,29.0h3.1v3.1h-3.1zM403.7,29.4h3.1v3.1h-3.1zM404.2,29.9h3.1v3.1h-3.1zM404.7,30.4h3.1v3.1h-3.1zM405.2,31.1h3.1v3.1h-3.1zM405.7,31.9h3.1v3.1h-3.1zM406.2,32.7h3.1v3.1h-3.1zM406.7,33.5h3.1v3.1h-3.1zM407.2,34.3h3.1v3.1h-3.1zM407.7,35.2h3.1v3.1h-3.1zM408.2,36.0h3.1v3.1h-3.1zM408.7,36.7h3.1v3.1h-3.1zM409.2,37.4h3.1v3.1h-3.1zM409.7,38.0h3.1v3.1h-3.1zM410.2,38.7h3.1v3.1h-3.1zM410.7,39.3h3.1v3.1h-3.1zM411.2,40.0h3.1v3.1h-3.1zM411.7,40.7h3.1v3.1h-3.1zM412.2,41.3h3.1v3.1h-3.1z" fill="none" stroke="#1010e8" stroke-width="0.6" opacity="1.0"/>
<path d="M220.4,138.4h3.1v3.1h-3.1zM221.0,139.0h3.1v3.1h-3.1zM221.6,139.6h3.1v3.1h-3.1zM222.2,140.2h3.1v3.1h-3.1zM222.8,140.8h3.1v3.1h-3.1zM223.4,141.4h3.1v3.1h-3.1zM224.0,142.0h3.1v3.1h-3.1zM224.6,142.6h3.1v3.1h-3.1zM225.2,143.2h3.1v3.1h-3.1zM225.8,143.8h3.1v3.1h-3.1zM226.4,144.4h3.1v3.1h-3.1zM227.0,144.1h3.1v3.1h-3.1zM227.6,143.7h3.1v3.1h-3.1zM228.2,143.3h3.1v3.1h-3.1zM228.8,142.9h3.1v3.1h-3.1zM229.4,142.5h3.1v3.1h-3.1zM230.0,142.3h3.1v3.1h-3.1zM230.6,142.1h3.1v3.1h-3.1zM231.2,141.9h3.1v3.1h-3.1zM231.8,141.7h3.1v3.1h-3.1zM232.4,141.5h3.1v3.1h-3.1zM233.0,140.9h3.1v3.1h-3.1zM233.6,140.3h3.1v3.1h-3.1zM234.2,139.7h3.1v3.1h-3.1zM234.8,139.1h3.1v3.1h-3.1zM235.4,138.5h3.1v3.1h-3.1zM243.9,107.5h3.1v3.1h-3.1zM244.5,106.3h3.1v3.1h-3.1zM245.1,105.1h3.1v3.1h-3.1zM245.7,103.9h3.1v3.1h-3.1zM246.3,102.7h3.1v3.1h-3.1zM246.9,101.9h3.1v3.1h-3.1zM247.5,101.1h3.1v3.1h-3.1zM248.1,100.4h3.1v3.1h-3.1zM248.7,99.7h3.1v3.1h-3.1zM249.3,99.0h3.1v3.1h-3.1zM249.9,98.2h3.1v3.1h-3.1zM250.5,97.4h3.1v3.1h-3.1zM251.1,96.5h3.1v3.1h-3.1zM251.7,95.7h3.1v3.1h-3.1zM252.3,94.9h3.1v3.1h-3.1zM252.9,94.0h3.1v3.1h-3.1zM253.5,93.2h3.1v3.1h-3.1zM254.1,92.3h3.1v3.1h-3.1zM254.6,91.6h3.1v3.1h-3.1zM255.1,91.0h3.1v3.1h-3.1zM255.6,90.4h3.1v3.1h-3.1zM256.1,89.8h3.1v3.1h-3.1zM256.6,89.2h3.1v3.1h-3.1zM257.1,88.6h3.1v3.1h-3.1zM257.6,88.0h3.1v3.1h-3.1zM258.1,87.4h3.1v3.1h-3.1zM258.6,86.8h3.1v3.1h-3.1zM259.1,86.2h3.1v3.1h-3.1zM259.6,85.6h3.1v3.1h-3.1zM260.1,85.1h3.1v3.1h-3.1zM260.6,84.5h3.1v3.1h-3.1zM261.1,83.9h3.1v3.1h-3.1zM261.6,83.3h3.1v3.1h-3.1zM262.1,82.8h3.1v3.1h-3.1zM262.6,82.5h3.1v3.1h-3.1zM263.2,82.1h3.1v3.1h-3.1zM263.7,81.7h3.1v3.1h-3.1zM264.2,81.4h3.1v3.1h-3.1zM264.7,81.0h3.1v3.1h-3.1zM265.2,80.6h3.1v3.1h-3.1zM265.7,80.3h3.1v3.1h-3.1zM266.2,79.9h3.1v3.1h-3.1zM266.7,79.4h3.1v3.1h-3.1zM267.2,78.9h3.1v3.1h-3.1zM267.7,78.4h3.1v3.1h-3.1zM268.2,77.9h3.1v3.1h-3.1zM268.7,77.4h3.1v3.1h-3.1zM269.2,76.9h3.1v3.1h-3.1zM269.7,76.3h3.1v3.1h-3.1zM270.2,75.4h3.1v3.1h-3.1zM270.7,74.4h3.1v3.1h-3.1zM271.2,73.4h3.1v3.1h-3.1zM271.7,72.5h3.1v3.1h-3.1zM272.2,71.5h3.1v3.1h-3.1zM272.7,70.5h3.1v3.1h-3.1zM273.2,69.5h3.1v3.1h-3.1zM285.2,39.6h3.1v3.1h-3.1zM285.7,38.7h3.1v3.1h-3.1zM286.2,37.8h3.1v3.1h-3.1zM286.7,36.9h3.1v3.1h-3.1zM287.2,36.0h3.1v3.1h-3.1zM287.7,35.1h3.1v3.1h-3.1zM288.2,34.3h3.1v3.1h-3.1zM288.7,33.4h3.1v3.1h-3.1zM289.2,32.5h3.1v3.1h-3.1zM289.7,31.6h3.1v3.1h-3.1zM290.2,30.7h3.1v3.1h-3.1zM290.7,29.9h3.1v3.1h-3.1zM291.2,29.2h3.1v3.1h-3.1zM291.7,28.4h3.1v3.1h-3.1zM292.2,27.7h3.1v3.1h-3.1zM292.7,26.9h3.1v3.1h-3.1zM293.2,26.2h3.1v3.1h-3.1zM293.7,25.7h3.1v3.1h-3.1zM294.2,25.2h3.1v3.1h-3.1zM294.7,24.7h3.1v3.1h-3.1zM295.2,24.2h3.1v3.1h-3.1zM295.7,23.7h3.1v3.1h-3.1zM296.2,23.2h3.1v3.1h-3.1zM296.7,22.7h3.1v3.1h-3.1zM297.2,22.1h3.1v3.1h-3.1zM297.7,21.7h3.1v3.1h-3.1zM298.2,21.3h3.1v3.1h-3.1zM298.7,20.9h3.1v3.1h-3.1zM299.2,20.4h3.1v3.1h-3.1zM299.7,20.0h3.1v3.1h-3.1zM300.2,19.6h3.1v3.1h-3.1zM300.7,19.2h3.1v3.1h-3.1zM301.2,18.7h3.1v3.1h-3.1zM301.7,18.3h3.1v3.1h-3.1zM302.2,18.0h3.1v3.1h-3.1zM302.7,18.0h3.1v3.1h-3.1zM303.2,17.9h3.1v3.1h-3.1zM303.7,17.8h3.1v3.1h-3.1zM304.2,17.8h3.1v3.1h-3.1zM304.7,17.7h3.1v3.1h-3.1zM305.2,17.6h3.1v3.1h-3.1zM305.7,17.6h3.1v3.1h-3.1zM306.2,17.5h3.1v3.1h-3.1zM306.7,17.4h3.1v3.1h-3.1zM307.2,17.4h3.1v3.1h-3.1zM307.7,17.3h3.1v3.1h-3.1zM308.2,17.3h3.1v3.1h-3.1zM308.7,17.3h3.1v3.1h-3.1zM309.2,17.3h3.1v3.1h-3.1zM309.7,17.4h3.1v3.1h-3.1zM310.2,17.4h3.1v3.1h-3.1zM310.7,17.4h3.1v3.1h-3.1zM311.2,17.5h3.1v3.1h-3.1zM311.7,17.5h3.1v3.1h-3.1zM312.2,17.6h3.1v3.1h-3.1zM312.7,17.6h3.1v3.1h-3.1zM313.2,17.6h3.1v3.1h-3.1zM313.7,17.7h3.1v3.1h-3.1zM314.2,17.7h3.1v3.1h-3.1zM314.7,17.7h3.1v3.1h-3.1zM315.2,17.8h3.1v3.1h-3.1zM315.7,17.8h3.1v3.1h-3.1zM316.2,17.8h3.1v3.1h-3.1zM316.7,17.9h3.1v3.1h-3.1zM317.2,17.9h3.1v3.1h-3.1zM317.7,17.9h3.1v3.1h-3.1zM318.2,18.0h3.1v3.1h-3.1zM318.7,18.1h3.1v3.1h-3.1zM319.2,18.2h3.1v3.1h-3.1zM319.7,18.3h3.1v3.1h-3.1zM320.2,18.4h3.1v3.1h-3.1zM320.7,18.5h3.1v3.1h-3.1zM321.2,18.6h3.1v3.1h-3.1zM321.7,18.7h3.1v3.1h-3.1zM322.2,18.8h3.1v3.1h-3.1zM322.7,18.9h3.1v3.1h-3.1zM323.2,19.0h3.1v3.1h-3.1zM323.7,19.0h3.1v3.1h-3.1zM324.2,19.1h3.1v3.1h-3.1zM324.7,19.2h3.1v3.1h-3.1zM325.2,19.3h3.1v3.1h-3.1zM325.7,19.4h3.1v3.1h-3.1zM326.2,19.5h3.1v3.1h-3.1zM326.7,19.6h3.1v3.1h-3.1zM327.2,19.7h3.1v3.1h-3.1zM327.7,19.8h3.1v3.1h-3.1zM328.2,19.9h3.1v3.1h-3.1zM328.7,20.0h3.1v3.1h-3.1zM329.2,20.0h3.1v3.1h-3.1zM329.7,20.1h3.1v3.1h-3.1zM330.2,20.2h3.1v3.1h-3.1zM330.7,20.3h3.1v3.1h-3.1zM331.2,20.4h3.1v3.1h-3.1zM331.7,20.5h3.1v3.1h-3.1zM332.2,20.6h3.1v3.1h-3.1zM332.7,20.7h3.1v3.1h-3.1zM333.2,20.7h3.1v3.1h-3.1zM333.7,20.8h3.1v3.1h-3.1zM334.2,20.9h3.1v3.1h-3.1zM334.7,21.0h3.1v3.1h-3.1zM335.2,21.1h3.1v3.1h-3.1zM335.7,21.2h3.1v3.1h-3.1zM336.2,21.3h3.1v3.1h-3.1zM336.7,21.3h3.1v3.1h-3.1zM337.2,21.4h3.1v3.1h-3.1zM337.7,21.5h3.1v3.1h-3.1zM338.2,21.6h3.1v3.1h-3.1zM338.7,21.6h3.1v3.1h-3.1zM339.2,21.7h3.1v3.1h-3.1zM339.7,21.7h3.1v3.1h-3.1zM340.2,21.8h3.1v3.1h-3.1zM340.7,21.8h3.1v3.1h-3.1zM341.2,21.9h3.1v3.1h-3.1zM341.7,21.9h3.1v3.1h-3.1zM342.2,22.0h3.1v3.1h-3.1zM342.7,22.1h3.1v3.1h-3.1zM343.2,22.1h3.1v3.1h-3.1zM343.7,22.2h3.1v3.1h-3.1zM344.2,22.3h3.1v3.1h-3.1zM344.7,22.4h3.1v3.1h-3.1zM345.2,22.5h3.1v3.1h-3.1zM345.7,22.5h3.1v3.1h-3.1zM346.2,22.6h3.1v3.1h-3.1zM346.7,22.7h3.1v3.1h-3.1zM347.2,22.8h3.1v3.1h-3.1zM347.7,22.9h3.1v3.1h-3.1zM348.2,23.0h3.1v3.1h-3.1zM348.7,23.1h3.1v3.1h-3.1zM349.2,23.2h3.1v3.1h-3.1zM349.7,23.2h3.1v3.1h-3.1zM350.2,23.3h3.1v3.1h-3.1zM350.7,23.4h3.1v3.1h-3.1zM351.2,23.5h3.1v3.1h-3.1zM351.7,23.6h3.1v3.1h-3.1zM352.2,23.7h3.1v3.1h-3.1zM352.7,23.8h3.1v3.1h-3.1zM353.2,23.9h3.1v3.1h-3.1zM353.7,24.0h3.1v3.1h-3.1zM354.2,24.0h3.1v3.1h-3.1zM354.7,24.1h3.1v3.1h-3.1zM355.2,24.2h3.1v3.1h-3.1zM355.7,24.3h3.1v3.1h-3.1zM356.2,24.4h3.1v3.1h-3.1zM356.7,24.5h3.1v3.1h-3.1zM357.2,24.5h3.1v3.1h-3.1zM357.7,24.6h3.1v3.1h-3.1zM358.2,24.7h3.1v3.1h-3.1zM358.7,24.8h3.1v3.1h-3.1zM359.2,24.9h3.1v3.1h-3.1zM359.7,25.0h3.1v3.1h-3.1zM360.2,25.0h3.1v3.1h-3.1zM360.7,25.1h3.1v3.1h-3.1zM361.2,25.2h3.1v3.1h-3.1zM361.7,25.3h3.1v3.1h-3.1zM362.2,25.4h3.1v3.1h-3.1zM362.7,25.5h3.1v3.1h-3.1zM363.2,25.5h3.1v3.1h-3.1zM363.7,25.6h3.1v3.1h-3.1zM364.2,25.7h3.1v3.1h-3.1zM364.7,25.7h3.1v3.1h-3.1zM365.2,25.7h3.1v3.1h-3.1zM365.7,25.8h3.1v3.1h-3.1zM366.2,25.8h3.1v3.1h-3.1zM366.7,25.8h3.1v3.1h-3.1zM367.2,25.8h3.1v3.1h-3.1zM367.7,25.9h3.1v3.1h-3.1zM368.2,25.9h3.1v3.1h-3.1zM368.7,25.9h3.1v3.1h-3.1zM369.2,26.0h3.1v3.1h-3.1zM369.7,26.0h3.1v3.1h-3.1zM370.2,26.0h3.1v3.1h-3.1zM370.7,26.0h3.1v3.1h-3.1zM371.2,26.1h3.1v3.1h-3.1zM371.7,26.1h3.1v3.1h-3.1zM372.2,26.1h3.1v3.1h-3.1zM372.7,26.2h3.1v3.1h-3.1zM373.2,26.2h3.1v3.1h-3.1zM373.7,26.2h3.1v3.1h-3.1zM374.2,26.3h3.1v3.1h-3.1zM374.7,26.3h3.1v3.1h-3.1zM375.2,26.3h3.1v3.1h-3.1zM375.7,26.4h3.1v3.1h-3.1zM376.2,26.4h3.1v3.1h-3.1zM376.7,26.5h3.1v3.1h-3.1zM377.2,26.5h3.1v3.1h-3.1zM377.7,26.6h3.1v3.1h-3.1zM378.2,26.6h3.1v3.1h-3.1zM378.7,26.7h3.1v3.1h-3.1zM379.2,26.7h3.1v3.1h-3.1zM379.7,26.8h3.1v3.1h-3.1zM380.2,26.8h3.1v3.1h-3.1zM380.7,26.8h3.1v3.1h-3.1zM381.2,26.9h3.1v3.1h-3.1zM381.7,26.9h3.1v3.1h-3.1zM382.2,27.0h3.1v3.1h-3.1zM382.7,27.0h3.1v3.1h-3.1zM383.2,27.1h3.1v3.1h-3.1zM383.7,27.1h3.1v3.1h-3.1zM384.2,27.1h3.1v3.1h-3.1zM384.7,27.2h3.1v3.1h-3.1zM385.2,27.2h3.1v3.1h-3.1zM385.7,27.3h3.1v3.1h-3.1zM386.2,27.3h3.1v3.1h-3.1zM386.7,27.4h3.1v3.1h-3.1zM387.2,27.4h3.1v3.1h-3.1zM387.7,27.4h3.1v3.1h-3.1zM388.2,27.5h3.1v3.1h-3.1zM388.7,27.5h3.1v3.1h-3.1zM389.2,27.6h3.1v3.1h-3.1zM389.7,27.6h3.1v3.1h-3.1zM390.2,27.6h3.1v3.1h-3.1zM390.7,27.7h3.1v3.1h-3.1zM391.2,27.7h3.1v3.1h-3.1zM391.7,27.8h3.1v3.1h-3.1zM392.2,27.8h3.1v3.1h-3.1zM392.7,27.8h3.1v3.1h-3.1zM393.2,27.9h3.1v3.1h-3.1zM393.7,27.9h3.1v3.1h-3.1zM394.2,28.0h3.1v3.1h-3.1zM394.7,28.0h3.1v3.1h-3.1zM395.2,28.0h3.1v3.1h-3.1zM395.7,28.1h3.1v3.1h-3.1zM396.2,28.2h3.1v3.1h-3.1zM396.7,28.3h3.1v3.1h-3.1zM397.2,28.4h3.1v3.1h-3.1zM397.7,28.5h3.1v3.1h-3.1zM398.2,28.6h3.1v3.1h-3.1zM398.7,28.6h3.1v3.1h-3.1zM399.2,28.7h3.1v3.1h-3.1zM399.7,28.8h3.1v3.1h-3.1zM400.2,28.9h3.1v3.1h-3.1zM400.7,29.1h3.1v3.1h-3.1zM401.2,29.4h3.1v3.1h-3.1zM401.7,29.8h3.1v3.1h-3.1zM402.2,30.1h3.1v3.1h-3.1zM402.7,30.5h3.1v3.1h-3.1zM403.2,30.8h3.1v3.1h-3.1zM403.7,31.2h3.1v3.1h-3.1zM404.2,31.5h3.1v3.1h-3.1zM404.7,31.9h3.1v3.1h-3.1zM405.2,32.3h3.1v3.1h-3.1zM405.7,32.7h3.1v3.1h-3.1zM406.2,33.1h3.1v3.1h-3.1zM406.7,33.5h3.1v3.1h-3.1zM407.2,33.9h3.1v3.1h-3.1zM407.7,34.3h3.1v3.1h-3.1zM408.2,34.7h3.1v3.1h-3.1zM408.7,35.1h3.1v3.1h-3.1zM409.2,35.3h3.1v3.1h-3.1zM409.7,35.6h3.1v3.1h-3.1zM410.2,35.9h3.1v3.1h-3.1zM410.7,36.2h3.1v3.1h-3.1zM411.2,36.4h3.1v3.1h-3.1zM411.7,36.7h3.1v3.1h-3.1zM412.2,37.0h3.1v3.1h-3.1z" fill="none" stroke="#ee2828" stroke-width="0.6" opacity="1.0"/>
<path d="M236.0,136.1h3.1v3.1h-3.1zM236.6,133.7h3.1v3.1h-3.1zM237.2,131.3h3.1v3.1h-3.1zM237.8,128.9h3.1v3.1h-3.1zM238.3,126.5h3.1v3.1h-3.1zM238.8,124.1h3.1v3.1h-3.1zM239.3,121.7h3.1v3.1h-3.1zM239.8,119.3h3.1v3.1h-3.1zM240.3,116.9h3.1v3.1h-3.1zM240.9,115.1h3.1v3.1h-3.1zM241.5,113.5h3.1v3.1h-3.1zM242.1,111.9h3.1v3.1h-3.1zM242.7,110.3h3.1v3.1h-3.1zM243.3,108.7h3.1v3.1h-3.1zM273.7,68.0h3.1v3.1h-3.1zM274.2,66.6h3.1v3.1h-3.1zM274.7,65.1h3.1v3.1h-3.1zM275.2,63.7h3.1v3.1h-3.1zM275.7,62.3h3.1v3.1h-3.1zM276.2,60.8h3.1v3.1h-3.1zM276.7,59.5h3.1v3.1h-3.1zM277.2,58.2h3.1v3.1h-3.1zM277.7,57.0h3.1v3.1h-3.1zM278.2,55.8h3.1v3.1h-3.1zM278.7,54.6h3.1v3.1h-3.1zM279.2,53.4h3.1v3.1h-3.1zM279.7,52.1h3.1v3.1h-3.1zM280.2,50.9h3.1v3.1h-3.1zM280.7,49.7h3.1v3.1h-3.1zM281.2,48.5h3.1v3.1h-3.1zM281.7,47.4h3.1v3.1h-3.1zM282.2,46.3h3.1v3.1h-3.1zM282.7,45.2h3.1v3.1h-3.1zM283.2,44.0h3.1v3.1h-3.1zM283.7,42.9h3.1v3.1h-3.1zM284.2,41.8h3.1v3.1h-3.1zM284.7,40.7h3.1v3.1h-3.1z" fill="none" stroke="#ee2828" stroke-width="0.6" opacity="0.7"/>
<path d="M220.4,136.4h3.1v3.1h-3.1zM221.0,137.0h3.1v3.1h-3.1zM221.6,137.6h3.1v3.1h-3.1zM222.2,138.2h3.1v3.1h-3.1zM222.8,138.8h3.1v3.1h-3.1zM223.4,139.4h3.1v3.1h-3.1zM224.0,139.3h3.1v3.1h-3.1zM224.6,139.2h3.1v3.1h-3.1zM225.2,139.0h3.1v3.1h-3.1zM225.8,138.9h3.1v3.1h-3.1zM226.4,138.7h3.1v3.1h-3.1zM227.0,138.6h3.1v3.1h-3.1zM227.6,138.4h3.1v3.1h-3.1zM228.2,138.3h3.1v3.1h-3.1zM228.8,138.1h3.1v3.1h-3.1zM229.4,138.0h3.1v3.1h-3.1zM230.0,137.8h3.1v3.1h-3.1zM230.6,137.7h3.1v3.1h-3.1zM231.2,137.5h3.1v3.1h-3.1zM231.8,137.4h3.1v3.1h-3.1zM232.4,137.2h3.1v3.1h-3.1zM233.0,137.1h3.1v3.1h-3.1zM233.6,136.9h3.1v3.1h-3.1zM234.2,136.8h3.1v3.1h-3.1zM234.8,136.6h3.1v3.1h-3.1zM235.4,136.5h3.1v3.1h-3.1zM236.0,136.2h3.1v3.1h-3.1zM236.6,135.9h3.1v3.1h-3.1zM237.2,135.6h3.1v3.1h-3.1zM237.8,135.3h3.1v3.1h-3.1zM238.4,135.0h3.1v3.1h-3.1zM239.0,134.7h3.1v3.1h-3.1zM239.6,133.6h3.1v3.1h-3.1zM253.2,71.5h3.1v3.1h-3.1zM253.8,70.5h3.1v3.1h-3.1zM254.4,69.5h3.1v3.1h-3.1zM254.9,68.7h3.1v3.1h-3.1zM255.4,67.9h3.1v3.1h-3.1zM255.9,67.1h3.1v3.1h-3.1zM256.4,66.3h3.1v3.1h-3.1zM256.9,65.5h3.1v3.1h-3.1zM257.4,64.7h3.1v3.1h-3.1zM257.9,63.9h3.1v3.1h-3.1zM258.4,63.1h3.1v3.1h-3.1zM258.9,62.6h3.1v3.1h-3.1zM259.4,62.1h3.1v3.1h-3.1zM259.9,61.6h3.1v3.1h-3.1zM260.4,61.1h3.1v3.1h-3.1zM260.9,60.7h3.1v3.1h-3.1zM261.4,60.2h3.1v3.1h-3.1zM261.9,59.7h3.1v3.1h-3.1zM262.4,59.2h3.1v3.1h-3.1zM262.9,58.7h3.1v3.1h-3.1zM263.5,58.1h3.1v3.1h-3.1zM264.0,57.3h3.1v3.1h-3.1zM264.5,56.6h3.1v3.1h-3.1zM265.0,55.8h3.1v3.1h-3.1zM265.5,55.0h3.1v3.1h-3.1zM266.0,54.2h3.1v3.1h-3.1zM266.5,53.4h3.1v3.1h-3.1zM267.0,52.6h3.1v3.1h-3.1zM267.5,51.8h3.1v3.1h-3.1zM268.0,51.1h3.1v3.1h-3.1zM268.5,50.4h3.1v3.1h-3.1zM269.0,49.8h3.1v3.1h-3.1zM269.5,49.1h3.1v3.1h-3.1zM270.0,48.4h3.1v3.1h-3.1zM270.5,47.8h3.1v3.1h-3.1zM271.0,47.1h3.1v3.1h-3.1zM271.5,46.4h3.1v3.1h-3.1zM272.0,45.8h3.1v3.1h-3.1zM272.5,45.1h3.1v3.1h-3.1zM273.0,44.5h3.1v3.1h-3.1zM273.5,43.8h3.1v3.1h-3.1zM274.0,43.2h3.1v3.1h-3.1zM274.5,42.6h3.1v3.1h-3.1zM275.0,42.0h3.1v3.1h-3.1zM275.5,41.3h3.1v3.1h-3.1zM276.0,40.7h3.1v3.1h-3.1zM276.5,40.1h3.1v3.1h-3.1zM277.0,39.4h3.1v3.1h-3.1zM277.5,38.8h3.1v3.1h-3.1zM278.0,38.1h3.1v3.1h-3.1zM278.5,37.4h3.1v3.1h-3.1zM279.0,36.8h3.1v3.1h-3.1zM279.5,36.1h3.1v3.1h-3.1zM280.0,35.4h3.1v3.1h-3.1zM280.5,34.7h3.1v3.1h-3.1zM281.0,33.7h3.1v3.1h-3.1zM281.5,32.7h3.1v3.1h-3.1zM282.0,31.7h3.1v3.1h-3.1zM282.5,30.7h3.1v3.1h-3.1zM283.0,29.7h3.1v3.1h-3.1zM283.5,29.0h3.1v3.1h-3.1zM284.0,28.7h3.1v3.1h-3.1zM284.5,28.3h3.1v3.1h-3.1zM285.0,28.0h3.1v3.1h-3.1zM285.5,27.7h3.1v3.1h-3.1zM286.0,27.3h3.1v3.1h-3.1zM286.5,27.0h3.1v3.1h-3.1zM287.0,26.7h3.1v3.1h-3.1zM287.5,26.3h3.1v3.1h-3.1zM288.0,26.2h3.1v3.1h-3.1zM288.5,26.0h3.1v3.1h-3.1zM289.0,25.8h3.1v3.1h-3.1zM289.5,25.6h3.1v3.1h-3.1zM290.0,25.4h3.1v3.1h-3.1zM290.5,25.2h3.1v3.1h-3.1zM291.0,25.0h3.1v3.1h-3.1zM291.5,24.8h3.1v3.1h-3.1zM292.0,24.7h3.1v3.1h-3.1zM292.5,24.5h3.1v3.1h-3.1zM293.0,24.3h3.1v3.1h-3.1zM293.5,24.1h3.1v3.1h-3.1zM294.0,23.9h3.1v3.1h-3.1zM294.5,23.8h3.1v3.1h-3.1zM295.0,23.6h3.1v3.1h-3.1zM295.5,23.4h3.1v3.1h-3.1zM296.0,23.3h3.1v3.1h-3.1zM296.5,23.1h3.1v3.1h-3.1zM297.0,22.9h3.1v3.1h-3.1zM297.5,22.8h3.1v3.1h-3.1zM298.0,22.6h3.1v3.1h-3.1zM298.5,22.5h3.1v3.1h-3.1zM299.0,22.3h3.1v3.1h-3.1zM299.5,22.2h3.1v3.1h-3.1zM300.0,22.0h3.1v3.1h-3.1zM300.5,21.9h3.1v3.1h-3.1zM301.0,21.7h3.1v3.1h-3.1zM301.5,21.6h3.1v3.1h-3.1zM302.0,21.4h3.1v3.1h-3.1zM302.5,21.2h3.1v3.1h-3.1zM303.0,21.2h3.1v3.1h-3.1zM303.5,21.1h3.1v3.1h-3.1zM304.0,21.1h3.1v3.1h-3.1zM304.5,21.0h3.1v3.1h-3.1zM305.0,21.0h3.1v3.1h-3.1zM305.5,20.9h3.1v3.1h-3.1zM306.0,20.9h3.1v3.1h-3.1zM306.5,20.8h3.1v3.1h-3.1zM307.0,20.8h3.1v3.1h-3.1zM307.5,20.7h3.1v3.1h-3.1zM308.0,20.7h3.1v3.1h-3.1zM308.5,20.7h3.1v3.1h-3.1zM309.0,20.7h3.1v3.1h-3.1zM309.5,20.8h3.1v3.1h-3.1zM310.0,20.8h3.1v3.1h-3.1zM310.5,20.9h3.1v3.1h-3.1zM311.0,20.9h3.1v3.1h-3.1zM311.5,20.9h3.1v3.1h-3.1zM312.0,21.0h3.1v3.1h-3.1zM312.5,21.0h3.1v3.1h-3.1zM313.0,21.1h3.1v3.1h-3.1zM313.5,21.1h3.1v3.1h-3.1zM314.0,21.1h3.1v3.1h-3.1zM314.5,21.2h3.1v3.1h-3.1zM315.0,21.2h3.1v3.1h-3.1zM315.5,21.3h3.1v3.1h-3.1zM316.0,21.3h3.1v3.1h-3.1zM316.5,21.3h3.1v3.1h-3.1zM317.0,21.4h3.1v3.1h-3.1zM317.5,21.4h3.1v3.1h-3.1zM318.0,21.5h3.1v3.1h-3.1zM318.5,21.6h3.1v3.1h-3.1zM319.0,21.7h3.1v3.1h-3.1zM319.5,21.7h3.1v3.1h-3.1zM320.0,21.8h3.1v3.1h-3.1zM320.5,21.9h3.1v3.1h-3.1zM321.0,22.0h3.1v3.1h-3.1zM321.5,22.1h3.1v3.1h-3.1zM322.0,22.2h3.1v3.1h-3.1zM322.5,22.3h3.1v3.1h-3.1zM323.0,22.4h3.1v3.1h-3.1zM323.5,22.4h3.1v3.1h-3.1zM324.0,22.5h3.1v3.1h-3.1zM324.5,22.6h3.1v3.1h-3.1zM325.0,22.7h3.1v3.1h-3.1zM325.5,22.8h3.1v3.1h-3.1zM326.0,22.9h3.1v3.1h-3.1zM326.5,23.0h3.1v3.1h-3.1zM327.0,23.1h3.1v3.1h-3.1zM327.5,23.2h3.1v3.1h-3.1zM328.0,23.2h3.1v3.1h-3.1zM328.5,23.3h3.1v3.1h-3.1zM329.0,23.4h3.1v3.1h-3.1zM329.5,23.5h3.1v3.1h-3.1zM330.0,23.6h3.1v3.1h-3.1zM330.5,23.7h3.1v3.1h-3.1zM331.0,23.8h3.1v3.1h-3.1zM331.5,23.9h3.1v3.1h-3.1zM332.0,24.0h3.1v3.1h-3.1zM332.5,24.1h3.1v3.1h-3.1zM333.0,24.2h3.1v3.1h-3.1zM333.5,24.3h3.1v3.1h-3.1zM334.0,24.3h3.1v3.1h-3.1zM334.5,24.4h3.1v3.1h-3.1zM335.0,24.5h3.1v3.1h-3.1zM335.5,24.6h3.1v3.1h-3.1zM336.0,24.7h3.1v3.1h-3.1zM336.5,24.8h3.1v3.1h-3.1zM337.0,24.9h3.1v3.1h-3.1zM337.5,25.0h3.1v3.1h-3.1zM338.0,25.2h3.1v3.1h-3.1zM338.5,25.3h3.1v3.1h-3.1zM339.0,25.4h3.1v3.1h-3.1zM339.5,25.6h3.1v3.1h-3.1zM340.0,25.7h3.1v3.1h-3.1zM340.5,25.9h3.1v3.1h-3.1zM341.0,26.0h3.1v3.1h-3.1zM341.5,26.2h3.1v3.1h-3.1zM342.0,26.3h3.1v3.1h-3.1zM342.5,26.5h3.1v3.1h-3.1zM343.0,26.6h3.1v3.1h-3.1zM343.5,26.8h3.1v3.1h-3.1zM344.0,27.0h3.1v3.1h-3.1zM344.5,27.2h3.1v3.1h-3.1zM345.0,27.4h3.1v3.1h-3.1zM345.5,27.7h3.1v3.1h-3.1zM346.0,27.9h3.1v3.1h-3.1zM346.5,28.1h3.1v3.1h-3.1zM347.0,28.4h3.1v3.1h-3.1zM347.5,28.6h3.1v3.1h-3.1zM348.0,28.8h3.1v3.1h-3.1zM348.5,29.0h3.1v3.1h-3.1zM349.0,29.3h3.1v3.1h-3.1zM349.5,29.5h3.1v3.1h-3.1zM350.0,29.7h3.1v3.1h-3.1zM350.5,30.0h3.1v3.1h-3.1zM351.0,30.2h3.1v3.1h-3.1zM351.5,30.5h3.1v3.1h-3.1zM352.0,30.7h3.1v3.1h-3.1zM352.5,31.0h3.1v3.1h-3.1zM353.0,31.2h3.1v3.1h-3.1zM353.5,31.5h3.1v3.1h-3.1zM354.0,31.7h3.1v3.1h-3.1zM354.5,32.0h3.1v3.1h-3.1zM355.0,32.2h3.1v3.1h-3.1zM355.5,32.5h3.1v3.1h-3.1zM356.0,32.7h3.1v3.1h-3.1zM356.5,33.0h3.1v3.1h-3.1zM357.0,33.1h3.1v3.1h-3.1zM357.5,33.2h3.1v3.1h-3.1zM358.0,33.3h3.1v3.1h-3.1zM358.5,33.4h3.1v3.1h-3.1zM359.0,33.5h3.1v3.1h-3.1zM359.5,33.6h3.1v3.1h-3.1zM360.0,33.7h3.1v3.1h-3.1zM360.5,33.8h3.1v3.1h-3.1zM361.0,33.9h3.1v3.1h-3.1zM361.5,34.0h3.1v3.1h-3.1zM362.0,34.1h3.1v3.1h-3.1zM362.5,34.2h3.1v3.1h-3.1zM363.0,34.3h3.1v3.1h-3.1zM363.5,34.5h3.1v3.1h-3.1zM364.0,34.5h3.1v3.1h-3.1zM364.5,34.6h3.1v3.1h-3.1zM365.0,34.7h3.1v3.1h-3.1zM365.5,34.7h3.1v3.1h-3.1zM366.0,34.8h3.1v3.1h-3.1zM366.5,34.9h3.1v3.1h-3.1zM367.0,34.9h3.1v3.1h-3.1zM367.5,35.0h3.1v3.1h-3.1zM368.0,35.1h3.1v3.1h-3.1zM368.5,35.1h3.1v3.1h-3.1zM369.0,35.2h3.1v3.1h-3.1zM369.5,35.3h3.1v3.1h-3.1zM370.0,35.3h3.1v3.1h-3.1zM370.5,35.4h3.1v3.1h-3.1zM371.0,35.5h3.1v3.1h-3.1zM371.5,35.5h3.1v3.1h-3.1zM372.0,35.5h3.1v3.1h-3.1zM372.5,35.5h3.1v3.1h-3.1zM373.0,35.5h3.1v3.1h-3.1zM373.5,35.5h3.1v3.1h-3.1zM374.0,35.5h3.1v3.1h-3.1zM374.5,35.5h3.1v3.1h-3.1zM375.0,35.5h3.1v3.1h-3.1zM375.5,35.5h3.1v3.1h-3.1zM376.0,35.5h3.1v3.1h-3.1zM376.5,35.5h3.1v3.1h-3.1zM377.0,35.5h3.1v3.1h-3.1zM377.5,35.5h3.1v3.1h-3.1zM378.0,35.5h3.1v3.1h-3.1zM378.5,35.5h3.1v3.1h-3.1zM379.0,35.5h3.1v3.1h-3.1zM379.5,35.5h3.1v3.1h-3.1zM380.0,35.5h3.1v3.1h-3.1zM380.5,35.5h3.1v3.1h-3.1zM381.0,35.5h3.1v3.1h-3.1zM381.5,35.5h3.1v3.1h-3.1zM382.0,35.5h3.1v3.1h-3.1zM382.5,35.5h3.1v3.1h-3.1zM383.0,35.5h3.1v3.1h-3.1zM383.5,35.5h3.1v3.1h-3.1zM384.0,35.5h3.1v3.1h-3.1zM384.5,35.5h3.1v3.1h-3.1zM385.0,35.5h3.1v3.1h-3.1zM385.5,35.4h3.1v3.1h-3.1zM386.0,35.4h3.1v3.1h-3.1zM386.5,35.4h3.1v3.1h-3.1zM387.0,35.4h3.1v3.1h-3.1zM387.5,35.3h3.1v3.1h-3.1zM388.0,35.3h3.1v3.1h-3.1zM388.5,35.3h3.1v3.1h-3.1zM389.0,35.3h3.1v3.1h-3.1zM389.5,35.2h3.1v3.1h-3.1zM390.0,35.2h3.1v3.1h-3.1zM390.5,35.2h3.1v3.1h-3.1zM391.0,35.2h3.1v3.1h-3.1zM391.5,35.1h3.1v3.1h-3.1zM392.0,35.1h3.1v3.1h-3.1zM392.5,35.1h3.1v3.1h-3.1zM393.0,35.1h3.1v3.1h-3.1zM393.5,35.0h3.1v3.1h-3.1zM394.0,35.0h3.1v3.1h-3.1zM394.5,35.0h3.1v3.1h-3.1zM395.0,35.0h3.1v3.1h-3.1zM395.5,35.0h3.1v3.1h-3.1zM396.0,35.0h3.1v3.1h-3.1zM396.5,35.1h3.1v3.1h-3.1zM397.0,35.2h3.1v3.1h-3.1zM397.5,35.2h3.1v3.1h-3.1zM398.0,35.3h3.1v3.1h-3.1zM398.5,35.3h3.1v3.1h-3.1zM399.0,35.4h3.1v3.1h-3.1zM399.5,35.5h3.1v3.1h-3.1zM400.0,35.7h3.1v3.1h-3.1zM400.5,35.9h3.1v3.1h-3.1zM401.0,36.1h3.1v3.1h-3.1zM401.5,36.4h3.1v3.1h-3.1zM402.0,36.6h3.1v3.1h-3.1zM402.5,36.8h3.1v3.1h-3.1zM403.0,37.0h3.1v3.1h-3.1zM403.5,37.3h3.1v3.1h-3.1zM404.0,37.5h3.1v3.1h-3.1zM404.5,37.7h3.1v3.1h-3.1zM405.0,37.9h3.1v3.1h-3.1zM405.5,38.1h3.1v3.1h-3.1zM406.0,38.3h3.1v3.1h-3.1zM406.5,38.5h3.1v3.1h-3.1zM407.0,38.7h3.1v3.1h-3.1zM407.5,39.0h3.1v3.1h-3.1zM408.0,39.1h3.1v3.1h-3.1zM408.5,39.2h3.1v3.1h-3.1zM409.0,39.3h3.1v3.1h-3.1zM409.5,39.4h3.1v3.1h-3.1zM410.0,39.5h3.1v3.1h-3.1zM410.5,39.6h3.1v3.1h-3.1zM411.0,39.7h3.1v3.1h-3.1zM411.5,39.8h3.1v3.1h-3.1zM412.0,39.9h3.1v3.1h-3.1z" fill="none" stroke="#289090" stroke-width="0.6" opacity="1.0"/>
<path d="M240.1,131.3h3.1v3.1h-3.1zM240.6,129.1h3.1v3.1h-3.1zM241.1,126.8h3.1v3.1h-3.1zM241.6,124.3h3.1v3.1h-3.1zM242.0,121.9h3.1v3.1h-3.1zM242.4,119.5h3.1v3.1h-3.1zM242.8,117.1h3.1v3.1h-3.1zM243.2,114.5h3.1v3.1h-3.1zM243.6,111.8h3.1v3.1h-3.1zM244.0,109.1h3.1v3.1h-3.1zM244.4,106.5h3.1v3.1h-3.1zM244.7,104.1h3.1v3.1h-3.1zM245.0,101.7h3.1v3.1h-3.1zM245.3,99.3h3.1v3.1h-3.1zM245.6,96.9h3.1v3.1h-3.1zM245.9,94.5h3.1v3.1h-3.1zM246.4,92.2h3.1v3.1h-3.1zM246.9,89.9h3.1v3.1h-3.1zM247.4,87.6h3.1v3.1h-3.1zM247.9,85.3h3.1v3.1h-3.1zM248.4,83.1h3.1v3.1h-3.1zM249.0,81.6h3.1v3.1h-3.1zM249.6,80.1h3.1v3.1h-3.1zM250.2,78.6h3.1v3.1h-3.1zM250.8,77.1h3.1v3.1h-3.1zM251.4,75.7h3.1v3.1h-3.1zM252.0,74.2h3.1v3.1h-3.1zM252.6,72.7h3.1v3.1h-3.1z" fill="none" stroke="#289090" stroke-width="0.6" opacity="0.75"/>
<path d="M220.4,125.5h3.1v3.1h-3.1zM228.7,132.5h3.1v3.1h-3.1zM234.7,136.5h3.1v3.1h-3.1zM251.4,59.8h3.1v3.1h-3.1zM252.0,58.9h3.1v3.1h-3.1zM252.6,58.1h3.1v3.1h-3.1zM253.2,57.3h3.1v3.1h-3.1zM253.8,56.5h3.1v3.1h-3.1zM254.4,55.6h3.1v3.1h-3.1zM254.9,54.9h3.1v3.1h-3.1zM255.4,54.3h3.1v3.1h-3.1zM262.4,34.0h3.1v3.1h-3.1zM262.9,33.7h3.1v3.1h-3.1zM263.5,33.5h3.1v3.1h-3.1zM264.0,33.2h3.1v3.1h-3.1zM264.5,33.0h3.1v3.1h-3.1zM265.0,32.7h3.1v3.1h-3.1zM265.5,32.5h3.1v3.1h-3.1zM266.0,32.2h3.1v3.1h-3.1zM266.5,32.0h3.1v3.1h-3.1zM267.0,31.7h3.1v3.1h-3.1zM267.5,31.5h3.1v3.1h-3.1zM268.0,31.2h3.1v3.1h-3.1zM268.5,31.0h3.1v3.1h-3.1zM269.0,30.7h3.1v3.1h-3.1zM269.5,30.5h3.1v3.1h-3.1zM270.0,30.2h3.1v3.1h-3.1zM270.5,30.0h3.1v3.1h-3.1zM271.0,29.7h3.1v3.1h-3.1zM271.5,29.5h3.1v3.1h-3.1zM272.0,29.2h3.1v3.1h-3.1zM272.5,29.0h3.1v3.1h-3.1zM273.0,28.6h3.1v3.1h-3.1zM273.5,28.3h3.1v3.1h-3.1zM274.0,28.0h3.1v3.1h-3.1zM274.5,27.7h3.1v3.1h-3.1zM275.0,27.4h3.1v3.1h-3.1zM275.5,27.0h3.1v3.1h-3.1zM276.0,26.7h3.1v3.1h-3.1zM276.5,26.4h3.1v3.1h-3.1zM277.0,26.1h3.1v3.1h-3.1zM277.5,25.8h3.1v3.1h-3.1zM278.0,25.5h3.1v3.1h-3.1zM278.5,25.3h3.1v3.1h-3.1zM279.0,25.2h3.1v3.1h-3.1zM279.5,25.0h3.1v3.1h-3.1zM280.0,24.8h3.1v3.1h-3.1zM280.5,24.6h3.1v3.1h-3.1zM281.0,24.4h3.1v3.1h-3.1zM281.5,24.2h3.1v3.1h-3.1zM282.0,24.0h3.1v3.1h-3.1zM282.5,23.8h3.1v3.1h-3.1zM283.0,23.7h3.1v3.1h-3.1zM283.5,23.5h3.1v3.1h-3.1zM284.0,23.4h3.1v3.1h-3.1zM284.5,23.2h3.1v3.1h-3.1zM285.0,23.1h3.1v3.1h-3.1zM285.5,23.0h3.1v3.1h-3.1zM286.0,22.9h3.1v3.1h-3.1zM286.5,22.7h3.1v3.1h-3.1zM287.0,22.6h3.1v3.1h-3.1zM287.5,22.5h3.1v3.1h-3.1zM288.0,22.4h3.1v3.1h-3.1zM288.5,22.2h3.1v3.1h-3.1zM289.0,22.1h3.1v3.1h-3.1zM289.5,22.0h3.1v3.1h-3.1zM290.0,21.9h3.1v3.1h-3.1zM290.5,21.9h3.1v3.1h-3.1zM291.0,21.8h3.1v3.1h-3.1zM291.5,21.7h3.1v3.1h-3.1zM292.0,21.6h3.1v3.1h-3.1zM292.5,21.5h3.1v3.1h-3.1zM293.0,21.4h3.1v3.1h-3.1zM293.5,21.3h3.1v3.1h-3.1zM294.0,21.2h3.1v3.1h-3.1zM294.5,21.1h3.1v3.1h-3.1zM295.0,21.0h3.1v3.1h-3.1zM295.5,20.9h3.1v3.1h-3.1zM296.0,20.9h3.1v3.1h-3.1zM296.5,20.9h3.1v3.1h-3.1zM297.0,20.9h3.1v3.1h-3.1zM297.5,20.9h3.1v3.1h-3.1zM298.0,21.0h3.1v3.1h-3.1zM298.5,21.0h3.1v3.1h-3.1zM299.0,21.0h3.1v3.1h-3.1zM299.5,21.0h3.1v3.1h-3.1zM300.0,21.1h3.1v3.1h-3.1zM300.5,21.1h3.1v3.1h-3.1zM301.0,21.1h3.1v3.1h-3.1zM301.5,21.1h3.1v3.1h-3.1zM302.0,21.2h3.1v3.1h-3.1zM302.5,21.2h3.1v3.1h-3.1zM303.0,21.2h3.1v3.1h-3.1zM303.5,21.2h3.1v3.1h-3.1zM304.0,21.3h3.1v3.1h-3.1zM304.5,21.3h3.1v3.1h-3.1zM305.0,21.3h3.1v3.1h-3.1zM305.5,21.3h3.1v3.1h-3.1zM306.0,21.4h3.1v3.1h-3.1zM306.5,21.4h3.1v3.1h-3.1zM307.0,21.4h3.1v3.1h-3.1zM307.5,21.4h3.1v3.1h-3.1zM308.0,21.5h3.1v3.1h-3.1zM308.5,21.5h3.1v3.1h-3.1zM309.0,21.6h3.1v3.1h-3.1zM309.5,21.6h3.1v3.1h-3.1zM310.0,21.7h3.1v3.1h-3.1zM310.5,21.8h3.1v3.1h-3.1zM311.0,21.8h3.1v3.1h-3.1zM311.5,21.9h3.1v3.1h-3.1zM312.0,21.9h3.1v3.1h-3.1zM312.5,22.0h3.1v3.1h-3.1zM313.0,22.1h3.1v3.1h-3.1zM313.5,22.1h3.1v3.1h-3.1zM314.0,22.2h3.1v3.1h-3.1zM314.5,22.2h3.1v3.1h-3.1zM315.0,22.3h3.1v3.1h-3.1zM315.5,22.4h3.1v3.1h-3.1zM316.0,22.4h3.1v3.1h-3.1zM316.5,22.5h3.1v3.1h-3.1zM317.0,22.6h3.1v3.1h-3.1zM317.5,22.6h3.1v3.1h-3.1zM318.0,22.7h3.1v3.1h-3.1zM318.5,22.8h3.1v3.1h-3.1zM319.0,22.9h3.1v3.1h-3.1zM319.5,23.1h3.1v3.1h-3.1zM320.0,23.2h3.1v3.1h-3.1zM320.5,23.3h3.1v3.1h-3.1zM321.0,23.4h3.1v3.1h-3.1zM321.5,23.5h3.1v3.1h-3.1zM322.0,23.6h3.1v3.1h-3.1zM322.5,23.8h3.1v3.1h-3.1zM323.0,23.9h3.1v3.1h-3.1zM323.5,24.0h3.1v3.1h-3.1zM324.0,24.1h3.1v3.1h-3.1zM324.5,24.2h3.1v3.1h-3.1zM325.0,24.4h3.1v3.1h-3.1zM325.5,24.5h3.1v3.1h-3.1zM326.0,24.6h3.1v3.1h-3.1zM326.5,24.7h3.1v3.1h-3.1zM327.0,24.8h3.1v3.1h-3.1zM327.5,25.0h3.1v3.1h-3.1zM328.0,25.1h3.1v3.1h-3.1zM328.5,25.2h3.1v3.1h-3.1zM329.0,25.4h3.1v3.1h-3.1zM329.5,25.5h3.1v3.1h-3.1zM330.0,25.6h3.1v3.1h-3.1zM330.5,25.8h3.1v3.1h-3.1zM331.0,25.9h3.1v3.1h-3.1zM331.5,26.1h3.1v3.1h-3.1zM332.0,26.2h3.1v3.1h-3.1zM332.5,26.3h3.1v3.1h-3.1zM333.0,26.5h3.1v3.1h-3.1zM333.5,26.6h3.1v3.1h-3.1zM334.0,26.7h3.1v3.1h-3.1zM334.5,26.9h3.1v3.1h-3.1zM335.0,27.0h3.1v3.1h-3.1zM335.5,27.2h3.1v3.1h-3.1zM336.0,27.3h3.1v3.1h-3.1zM336.5,27.4h3.1v3.1h-3.1zM337.0,27.6h3.1v3.1h-3.1zM337.5,27.7h3.1v3.1h-3.1zM338.0,27.9h3.1v3.1h-3.1zM338.5,28.0h3.1v3.1h-3.1zM339.0,28.1h3.1v3.1h-3.1zM339.5,28.3h3.1v3.1h-3.1zM340.0,28.4h3.1v3.1h-3.1zM340.5,28.6h3.1v3.1h-3.1zM341.0,28.7h3.1v3.1h-3.1zM341.5,28.9h3.1v3.1h-3.1zM342.0,29.0h3.1v3.1h-3.1zM342.5,29.2h3.1v3.1h-3.1zM343.0,29.3h3.1v3.1h-3.1zM343.5,29.5h3.1v3.1h-3.1zM344.0,29.6h3.1v3.1h-3.1zM344.5,29.7h3.1v3.1h-3.1zM345.0,29.9h3.1v3.1h-3.1zM345.5,30.0h3.1v3.1h-3.1zM346.0,30.2h3.1v3.1h-3.1zM346.5,30.3h3.1v3.1h-3.1zM347.0,30.5h3.1v3.1h-3.1zM347.5,30.6h3.1v3.1h-3.1zM348.0,30.8h3.1v3.1h-3.1zM348.5,30.9h3.1v3.1h-3.1zM349.0,31.1h3.1v3.1h-3.1zM349.5,31.2h3.1v3.1h-3.1zM350.0,31.4h3.1v3.1h-3.1zM350.5,31.5h3.1v3.1h-3.1zM351.0,31.7h3.1v3.1h-3.1zM351.5,31.8h3.1v3.1h-3.1zM352.0,32.0h3.1v3.1h-3.1zM352.5,32.1h3.1v3.1h-3.1zM353.0,32.2h3.1v3.1h-3.1zM353.5,32.4h3.1v3.1h-3.1zM354.0,32.5h3.1v3.1h-3.1zM354.5,32.6h3.1v3.1h-3.1zM355.0,32.6h3.1v3.1h-3.1zM355.5,32.7h3.1v3.1h-3.1zM356.0,32.8h3.1v3.1h-3.1zM356.5,32.9h3.1v3.1h-3.1zM357.0,32.9h3.1v3.1h-3.1zM357.5,33.0h3.1v3.1h-3.1zM358.0,33.1h3.1v3.1h-3.1zM358.5,33.2h3.1v3.1h-3.1zM359.0,33.2h3.1v3.1h-3.1zM359.5,33.3h3.1v3.1h-3.1zM360.0,33.4h3.1v3.1h-3.1zM360.5,33.4h3.1v3.1h-3.1zM361.0,33.5h3.1v3.1h-3.1zM361.5,33.6h3.1v3.1h-3.1zM362.0,33.7h3.1v3.1h-3.1zM362.5,33.7h3.1v3.1h-3.1zM363.0,33.8h3.1v3.1h-3.1zM363.5,33.9h3.1v3.1h-3.1zM364.0,34.0h3.1v3.1h-3.1zM364.5,34.1h3.1v3.1h-3.1zM365.0,34.2h3.1v3.1h-3.1zM365.5,34.3h3.1v3.1h-3.1zM366.0,34.4h3.1v3.1h-3.1zM366.5,34.5h3.1v3.1h-3.1zM367.0,34.6h3.1v3.1h-3.1zM367.5,34.7h3.1v3.1h-3.1zM368.0,34.8h3.1v3.1h-3.1zM368.5,35.0h3.1v3.1h-3.1zM369.0,35.1h3.1v3.1h-3.1zM369.5,35.2h3.1v3.1h-3.1zM370.0,35.3h3.1v3.1h-3.1zM370.5,35.4h3.1v3.1h-3.1zM371.0,35.4h3.1v3.1h-3.1zM371.5,35.3h3.1v3.1h-3.1zM372.0,35.2h3.1v3.1h-3.1zM372.5,35.1h3.1v3.1h-3.1zM373.0,35.0h3.1v3.1h-3.1zM373.5,34.9h3.1v3.1h-3.1zM374.0,34.8h3.1v3.1h-3.1zM374.5,34.7h3.1v3.1h-3.1zM375.0,34.6h3.1v3.1h-3.1zM375.5,34.5h3.1v3.1h-3.1zM376.0,34.4h3.1v3.1h-3.1zM376.5,34.3h3.1v3.1h-3.1zM377.0,34.2h3.1v3.1h-3.1zM377.5,34.1h3.1v3.1h-3.1zM378.0,34.0h3.1v3.1h-3.1zM378.5,33.9h3.1v3.1h-3.1zM379.0,33.9h3.1v3.1h-3.1zM379.5,33.9h3.1v3.1h-3.1zM380.0,33.8h3.1v3.1h-3.1zM380.5,33.8h3.1v3.1h-3.1zM381.0,33.7h3.1v3.1h-3.1zM381.5,33.7h3.1v3.1h-3.1zM382.0,33.6h3.1v3.1h-3.1zM382.5,33.6h3.1v3.1h-3.1zM383.0,33.5h3.1v3.1h-3.1zM383.5,33.5h3.1v3.1h-3.1zM384.0,33.5h3.1v3.1h-3.1zM384.5,33.5h3.1v3.1h-3.1zM385.0,33.4h3.1v3.1h-3.1zM385.5,33.4h3.1v3.1h-3.1zM386.0,33.4h3.1v3.1h-3.1zM386.5,33.4h3.1v3.1h-3.1zM387.0,33.3h3.1v3.1h-3.1zM387.5,33.3h3.1v3.1h-3.1zM388.0,33.3h3.1v3.1h-3.1zM388.5,33.2h3.1v3.1h-3.1zM389.0,33.2h3.1v3.1h-3.1zM389.5,33.2h3.1v3.1h-3.1zM390.0,33.2h3.1v3.1h-3.1zM390.5,33.1h3.1v3.1h-3.1zM391.0,33.1h3.1v3.1h-3.1zM391.5,33.1h3.1v3.1h-3.1zM392.0,33.0h3.1v3.1h-3.1zM392.5,33.0h3.1v3.1h-3.1zM393.0,33.0h3.1v3.1h-3.1zM393.5,33.0h3.1v3.1h-3.1zM394.0,32.9h3.1v3.1h-3.1zM394.5,32.9h3.1v3.1h-3.1zM395.0,32.9h3.1v3.1h-3.1zM395.5,32.9h3.1v3.1h-3.1zM396.0,33.0h3.1v3.1h-3.1zM396.5,33.2h3.1v3.1h-3.1zM397.0,33.3h3.1v3.1h-3.1zM397.5,33.4h3.1v3.1h-3.1zM398.0,33.5h3.1v3.1h-3.1zM398.5,33.7h3.1v3.1h-3.1zM399.0,33.8h3.1v3.1h-3.1zM399.5,33.9h3.1v3.1h-3.1zM400.0,34.1h3.1v3.1h-3.1zM400.5,34.2h3.1v3.1h-3.1zM401.0,34.3h3.1v3.1h-3.1zM401.5,34.4h3.1v3.1h-3.1zM402.0,34.6h3.1v3.1h-3.1zM402.5,34.7h3.1v3.1h-3.1zM403.0,34.8h3.1v3.1h-3.1zM403.5,35.0h3.1v3.1h-3.1zM404.0,35.1h3.1v3.1h-3.1zM404.5,35.2h3.1v3.1h-3.1zM405.0,35.3h3.1v3.1h-3.1zM405.5,35.5h3.1v3.1h-3.1zM406.0,35.6h3.1v3.1h-3.1zM406.5,35.7h3.1v3.1h-3.1zM407.0,35.8h3.1v3.1h-3.1zM407.5,36.0h3.1v3.1h-3.1zM408.0,36.1h3.1v3.1h-3.1zM408.5,36.3h3.1v3.1h-3.1zM409.0,36.4h3.1v3.1h-3.1zM409.5,36.6h3.1v3.1h-3.1zM410.0,36.7h3.1v3.1h-3.1zM410.5,36.9h3.1v3.1h-3.1zM411.0,37.0h3.1v3.1h-3.1zM411.5,37.2h3.1v3.1h-3.1zM412.0,37.4h3.1v3.1h-3.1z" fill="none" stroke="#f020f0" stroke-width="0.6" opacity="1.0"/>
<path d="M220.9,127.9h3.1v3.1h-3.1zM221.4,130.4h3.1v3.1h-3.1zM221.9,132.9h3.1v3.1h-3.1zM222.4,135.4h3.1v3.1h-3.1zM223.0,133.7h3.1v3.1h-3.1zM223.6,131.9h3.1v3.1h-3.1zM224.2,130.1h3.1v3.1h-3.1zM224.8,131.4h3.1v3.1h-3.1zM225.3,133.9h3.1v3.1h-3.1zM225.8,136.4h3.1v3.1h-3.1zM226.3,138.9h3.1v3.1h-3.1zM226.9,137.5h3.1v3.1h-3.1zM227.5,135.1h3.1v3.1h-3.1zM228.1,132.7h3.1v3.1h-3.1zM229.3,134.6h3.1v3.1h-3.1zM229.9,136.7h3.1v3.1h-3.1zM230.5,138.1h3.1v3.1h-3.1zM231.1,135.7h3.1v3.1h-3.1zM231.7,133.3h3.1v3.1h-3.1zM232.3,130.9h3.1v3.1h-3.1zM232.9,132.2h3.1v3.1h-3.1zM233.5,134.3h3.1v3.1h-3.1zM234.1,136.4h3.1v3.1h-3.1zM235.3,134.5h3.1v3.1h-3.1zM235.9,132.5h3.1v3.1h-3.1zM236.4,129.8h3.1v3.1h-3.1zM236.9,127.1h3.1v3.1h-3.1zM237.4,124.5h3.1v3.1h-3.1zM237.8,122.1h3.1v3.1h-3.1zM238.2,119.8h3.1v3.1h-3.1zM238.6,117.5h3.1v3.1h-3.1zM239.0,115.2h3.1v3.1h-3.1zM239.4,112.9h3.1v3.1h-3.1zM239.8,110.5h3.1v3.1h-3.1zM240.2,107.8h3.1v3.1h-3.1zM240.6,105.0h3.1v3.1h-3.1zM241.0,102.1h3.1v3.1h-3.1zM241.4,99.2h3.1v3.1h-3.1zM241.8,96.4h3.1v3.1h-3.1zM242.2,93.8h3.1v3.1h-3.1zM242.6,91.4h3.1v3.1h-3.1zM243.0,89.1h3.1v3.1h-3.1zM243.4,86.7h3.1v3.1h-3.1zM243.8,84.4h3.1v3.1h-3.1zM244.2,82.1h3.1v3.1h-3.1zM244.8,79.6h3.1v3.1h-3.1zM245.4,77.1h3.1v3.1h-3.1zM246.0,74.7h3.1v3.1h-3.1zM246.6,72.6h3.1v3.1h-3.1zM247.2,70.9h3.1v3.1h-3.1zM247.8,69.2h3.1v3.1h-3.1zM248.4,67.5h3.1v3.1h-3.1zM249.0,65.8h3.1v3.1h-3.1zM249.6,64.1h3.1v3.1h-3.1zM250.2,62.4h3.1v3.1h-3.1zM250.8,60.7h3.1v3.1h-3.1zM255.9,52.6h3.1v3.1h-3.1zM256.4,50.9h3.1v3.1h-3.1zM256.9,49.2h3.1v3.1h-3.1zM257.4,47.5h3.1v3.1h-3.1zM257.9,45.8h3.1v3.1h-3.1zM258.4,44.1h3.1v3.1h-3.1zM258.9,42.4h3.1v3.1h-3.1zM259.4,40.7h3.1v3.1h-3.1zM259.9,39.5h3.1v3.1h-3.1zM260.4,38.3h3.1v3.1h-3.1zM260.9,37.2h3.1v3.1h-3.1zM261.4,36.1h3.1v3.1h-3.1zM261.9,35.0h3.1v3.1h-3.1z" fill="none" stroke="#f020f0" stroke-width="0.6" opacity="0.7"/>
<path d="M220.4,105.5h3.3v3.3h-3.3zM221.0,104.4h3.3v3.3h-3.3zM221.6,103.2h3.3v3.3h-3.3zM222.2,102.0h3.3v3.3h-3.3zM222.8,100.9h3.3v3.3h-3.3zM223.4,99.7h3.3v3.3h-3.3zM224.0,98.5h3.3v3.3h-3.3zM224.6,97.3h3.3v3.3h-3.3zM225.2,96.1h3.3v3.3h-3.3zM225.8,94.9h3.3v3.3h-3.3zM226.4,93.7h3.3v3.3h-3.3zM227.0,92.4h3.3v3.3h-3.3zM231.8,80.8h3.3v3.3h-3.3zM232.4,79.6h3.3v3.3h-3.3zM233.0,78.4h3.3v3.3h-3.3zM233.6,77.2h3.3v3.3h-3.3zM234.2,76.0h3.3v3.3h-3.3zM234.8,74.8h3.3v3.3h-3.3zM235.4,73.6h3.3v3.3h-3.3zM246.2,30.3h3.3v3.3h-3.3zM246.8,29.6h3.3v3.3h-3.3zM247.4,28.8h3.3v3.3h-3.3zM248.0,28.0h3.3v3.3h-3.3zM248.6,27.4h3.3v3.3h-3.3zM249.2,26.8h3.3v3.3h-3.3zM249.8,26.2h3.3v3.3h-3.3zM250.4,25.6h3.3v3.3h-3.3zM251.0,25.0h3.3v3.3h-3.3zM251.6,24.4h3.3v3.3h-3.3zM252.2,23.8h3.3v3.3h-3.3zM252.8,23.3h3.3v3.3h-3.3zM253.4,22.9h3.3v3.3h-3.3zM254.0,22.5h3.3v3.3h-3.3zM254.5,22.2h3.3v3.3h-3.3zM255.0,21.9h3.3v3.3h-3.3zM255.5,21.6h3.3v3.3h-3.3zM256.0,21.3h3.3v3.3h-3.3zM256.5,21.0h3.3v3.3h-3.3zM257.0,20.7h3.3v3.3h-3.3zM257.5,20.4h3.3v3.3h-3.3zM258.0,20.1h3.3v3.3h-3.3zM258.5,19.9h3.3v3.3h-3.3zM259.0,19.8h3.3v3.3h-3.3zM259.5,19.6h3.3v3.3h-3.3zM260.0,19.5h3.3v3.3h-3.3zM260.5,19.4h3.3v3.3h-3.3zM261.0,19.2h3.3v3.3h-3.3zM261.5,19.1h3.3v3.3h-3.3zM262.0,19.0h3.3v3.3h-3.3zM262.5,18.8h3.3v3.3h-3.3zM263.1,18.7h3.3v3.3h-3.3zM263.6,18.6h3.3v3.3h-3.3zM264.1,18.4h3.3v3.3h-3.3zM264.6,18.3h3.3v3.3h-3.3zM265.1,18.1h3.3v3.3h-3.3zM265.6,18.1h3.3v3.3h-3.3zM266.1,18.1h3.3v3.3h-3.3zM266.6,18.1h3.3v3.3h-3.3zM267.1,18.0h3.3v3.3h-3.3zM267.6,18.0h3.3v3.3h-3.3zM268.1,18.0h3.3v3.3h-3.3zM268.6,17.9h3.3v3.3h-3.3zM269.1,17.9h3.3v3.3h-3.3zM269.6,17.9h3.3v3.3h-3.3zM270.1,17.9h3.3v3.3h-3.3zM270.6,17.8h3.3v3.3h-3.3zM271.1,17.8h3.3v3.3h-3.3zM271.6,17.8h3.3v3.3h-3.3zM272.1,17.7h3.3v3.3h-3.3zM272.6,17.7h3.3v3.3h-3.3zM273.1,17.7h3.3v3.3h-3.3zM273.6,17.7h3.3v3.3h-3.3zM274.1,17.7h3.3v3.3h-3.3zM274.6,17.7h3.3v3.3h-3.3zM275.1,17.7h3.3v3.3h-3.3zM275.6,17.8h3.3v3.3h-3.3zM276.1,17.8h3.3v3.3h-3.3zM276.6,17.8h3.3v3.3h-3.3zM277.1,17.9h3.3v3.3h-3.3zM277.6,17.9h3.3v3.3h-3.3zM278.1,17.9h3.3v3.3h-3.3zM278.6,18.0h3.3v3.3h-3.3zM279.1,18.0h3.3v3.3h-3.3zM279.6,18.0h3.3v3.3h-3.3zM280.1,18.0h3.3v3.3h-3.3zM280.6,18.1h3.3v3.3h-3.3zM281.1,18.1h3.3v3.3h-3.3zM281.6,18.1h3.3v3.3h-3.3zM282.1,18.2h3.3v3.3h-3.3zM282.6,18.3h3.3v3.3h-3.3zM283.1,18.4h3.3v3.3h-3.3zM283.6,18.6h3.3v3.3h-3.3zM284.1,18.7h3.3v3.3h-3.3zM284.6,18.8h3.3v3.3h-3.3zM285.1,18.9h3.3v3.3h-3.3zM285.6,19.0h3.3v3.3h-3.3zM286.1,19.1h3.3v3.3h-3.3zM286.6,19.2h3.3v3.3h-3.3zM287.1,19.3h3.3v3.3h-3.3zM287.6,19.5h3.3v3.3h-3.3zM288.1,19.6h3.3v3.3h-3.3zM288.6,19.7h3.3v3.3h-3.3zM289.1,19.8h3.3v3.3h-3.3zM289.6,19.9h3.3v3.3h-3.3zM290.1,20.0h3.3v3.3h-3.3zM290.6,20.2h3.3v3.3h-3.3zM291.1,20.4h3.3v3.3h-3.3zM291.6,20.6h3.3v3.3h-3.3zM292.1,20.8h3.3v3.3h-3.3zM292.6,21.0h3.3v3.3h-3.3zM293.1,21.2h3.3v3.3h-3.3zM293.6,21.4h3.3v3.3h-3.3zM294.1,21.6h3.3v3.3h-3.3zM294.6,21.8h3.3v3.3h-3.3zM295.1,22.0h3.3v3.3h-3.3zM295.6,22.2h3.3v3.3h-3.3zM296.1,22.4h3.3v3.3h-3.3zM296.6,22.6h3.3v3.3h-3.3zM297.1,22.8h3.3v3.3h-3.3zM297.6,23.0h3.3v3.3h-3.3zM298.1,23.2h3.3v3.3h-3.3zM298.6,23.5h3.3v3.3h-3.3zM299.1,23.7h3.3v3.3h-3.3zM299.6,24.0h3.3v3.3h-3.3zM300.1,24.2h3.3v3.3h-3.3zM300.6,24.5h3.3v3.3h-3.3zM301.1,24.7h3.3v3.3h-3.3zM301.6,24.9h3.3v3.3h-3.3zM302.1,25.0h3.3v3.3h-3.3zM302.6,25.0h3.3v3.3h-3.3zM303.1,25.1h3.3v3.3h-3.3zM303.6,25.2h3.3v3.3h-3.3zM304.1,25.3h3.3v3.3h-3.3zM304.6,25.3h3.3v3.3h-3.3zM305.1,25.4h3.3v3.3h-3.3zM305.6,25.5h3.3v3.3h-3.3zM306.1,25.6h3.3v3.3h-3.3zM306.6,25.7h3.3v3.3h-3.3zM307.1,25.7h3.3v3.3h-3.3zM307.6,25.8h3.3v3.3h-3.3zM308.1,25.9h3.3v3.3h-3.3zM308.6,25.9h3.3v3.3h-3.3zM309.1,26.0h3.3v3.3h-3.3zM309.6,26.0h3.3v3.3h-3.3zM310.1,26.1h3.3v3.3h-3.3zM310.6,26.1h3.3v3.3h-3.3zM311.1,26.2h3.3v3.3h-3.3zM311.6,26.2h3.3v3.3h-3.3zM312.1,26.3h3.3v3.3h-3.3zM312.6,26.3h3.3v3.3h-3.3zM313.1,26.4h3.3v3.3h-3.3zM313.6,26.4h3.3v3.3h-3.3zM314.1,26.5h3.3v3.3h-3.3zM314.6,26.5h3.3v3.3h-3.3zM315.1,26.6h3.3v3.3h-3.3zM315.6,26.6h3.3v3.3h-3.3zM316.1,26.7h3.3v3.3h-3.3zM316.6,26.7h3.3v3.3h-3.3zM317.1,26.8h3.3v3.3h-3.3zM317.6,26.8h3.3v3.3h-3.3zM318.1,26.9h3.3v3.3h-3.3zM318.6,27.0h3.3v3.3h-3.3zM319.1,27.1h3.3v3.3h-3.3zM319.6,27.2h3.3v3.3h-3.3zM320.1,27.3h3.3v3.3h-3.3zM320.6,27.4h3.3v3.3h-3.3zM321.1,27.4h3.3v3.3h-3.3zM321.6,27.5h3.3v3.3h-3.3zM322.1,27.6h3.3v3.3h-3.3zM322.6,27.7h3.3v3.3h-3.3zM323.1,27.8h3.3v3.3h-3.3zM323.6,27.9h3.3v3.3h-3.3zM324.1,28.0h3.3v3.3h-3.3zM324.6,28.1h3.3v3.3h-3.3zM325.1,28.1h3.3v3.3h-3.3zM325.6,28.2h3.3v3.3h-3.3zM326.1,28.3h3.3v3.3h-3.3zM326.6,28.4h3.3v3.3h-3.3zM327.1,28.5h3.3v3.3h-3.3zM327.6,28.6h3.3v3.3h-3.3zM328.1,28.7h3.3v3.3h-3.3zM328.6,28.8h3.3v3.3h-3.3zM329.1,28.9h3.3v3.3h-3.3zM329.6,29.0h3.3v3.3h-3.3zM330.1,29.0h3.3v3.3h-3.3zM330.6,29.1h3.3v3.3h-3.3zM331.1,29.2h3.3v3.3h-3.3zM331.6,29.3h3.3v3.3h-3.3zM332.1,29.4h3.3v3.3h-3.3zM332.6,29.5h3.3v3.3h-3.3zM333.1,29.6h3.3v3.3h-3.3zM333.6,29.7h3.3v3.3h-3.3zM334.1,29.8h3.3v3.3h-3.3zM334.6,29.9h3.3v3.3h-3.3zM335.1,30.0h3.3v3.3h-3.3zM335.6,30.1h3.3v3.3h-3.3zM336.1,30.1h3.3v3.3h-3.3zM336.6,30.2h3.3v3.3h-3.3zM337.1,30.3h3.3v3.3h-3.3zM337.6,30.4h3.3v3.3h-3.3zM338.1,30.6h3.3v3.3h-3.3zM338.6,30.7h3.3v3.3h-3.3zM339.1,30.8h3.3v3.3h-3.3zM339.6,30.9h3.3v3.3h-3.3zM340.1,31.1h3.3v3.3h-3.3zM340.6,31.2h3.3v3.3h-3.3zM341.1,31.3h3.3v3.3h-3.3zM341.6,31.4h3.3v3.3h-3.3zM342.1,31.5h3.3v3.3h-3.3zM342.6,31.7h3.3v3.3h-3.3zM343.1,31.8h3.3v3.3h-3.3zM343.6,31.9h3.3v3.3h-3.3zM344.1,32.1h3.3v3.3h-3.3zM344.6,32.2h3.3v3.3h-3.3zM345.1,32.4h3.3v3.3h-3.3zM345.6,32.6h3.3v3.3h-3.3zM346.1,32.7h3.3v3.3h-3.3zM346.6,32.9h3.3v3.3h-3.3zM347.1,33.0h3.3v3.3h-3.3zM347.6,33.2h3.3v3.3h-3.3zM348.1,33.4h3.3v3.3h-3.3zM348.6,33.5h3.3v3.3h-3.3zM349.1,33.7h3.3v3.3h-3.3zM349.6,33.9h3.3v3.3h-3.3zM350.1,34.0h3.3v3.3h-3.3zM350.6,34.2h3.3v3.3h-3.3zM351.1,34.3h3.3v3.3h-3.3zM351.6,34.5h3.3v3.3h-3.3zM352.1,34.7h3.3v3.3h-3.3zM352.6,34.8h3.3v3.3h-3.3zM353.1,35.0h3.3v3.3h-3.3zM353.6,35.2h3.3v3.3h-3.3zM354.1,35.2h3.3v3.3h-3.3zM354.6,35.3h3.3v3.3h-3.3zM355.1,35.3h3.3v3.3h-3.3zM355.6,35.4h3.3v3.3h-3.3zM356.1,35.4h3.3v3.3h-3.3zM356.6,35.5h3.3v3.3h-3.3zM357.1,35.5h3.3v3.3h-3.3zM357.6,35.6h3.3v3.3h-3.3zM358.1,35.6h3.3v3.3h-3.3zM358.6,35.6h3.3v3.3h-3.3zM359.1,35.5h3.3v3.3h-3.3zM359.6,35.5h3.3v3.3h-3.3zM360.1,35.4h3.3v3.3h-3.3zM360.6,35.3h3.3v3.3h-3.3zM361.1,35.2h3.3v3.3h-3.3zM361.6,35.2h3.3v3.3h-3.3zM362.1,35.1h3.3v3.3h-3.3zM362.6,35.0h3.3v3.3h-3.3zM363.1,35.0h3.3v3.3h-3.3zM363.6,34.9h3.3v3.3h-3.3zM364.1,34.8h3.3v3.3h-3.3zM364.6,34.7h3.3v3.3h-3.3zM365.1,34.5h3.3v3.3h-3.3zM365.6,34.4h3.3v3.3h-3.3zM366.1,34.3h3.3v3.3h-3.3zM366.6,34.2h3.3v3.3h-3.3zM367.1,34.1h3.3v3.3h-3.3zM367.6,34.0h3.3v3.3h-3.3zM368.1,33.9h3.3v3.3h-3.3zM368.6,33.7h3.3v3.3h-3.3zM369.1,33.6h3.3v3.3h-3.3zM369.6,33.5h3.3v3.3h-3.3zM370.1,33.4h3.3v3.3h-3.3zM370.6,33.3h3.3v3.3h-3.3zM371.1,33.2h3.3v3.3h-3.3zM371.6,33.1h3.3v3.3h-3.3zM372.1,33.0h3.3v3.3h-3.3zM372.6,32.9h3.3v3.3h-3.3zM373.1,32.8h3.3v3.3h-3.3zM373.6,32.7h3.3v3.3h-3.3zM374.1,32.6h3.3v3.3h-3.3zM374.6,32.5h3.3v3.3h-3.3zM375.1,32.3h3.3v3.3h-3.3zM375.6,32.2h3.3v3.3h-3.3zM376.1,32.1h3.3v3.3h-3.3zM376.6,32.0h3.3v3.3h-3.3zM377.1,31.9h3.3v3.3h-3.3zM377.6,31.8h3.3v3.3h-3.3zM378.1,31.7h3.3v3.3h-3.3zM378.6,31.6h3.3v3.3h-3.3zM379.1,31.5h3.3v3.3h-3.3zM379.6,31.4h3.3v3.3h-3.3zM380.1,31.3h3.3v3.3h-3.3zM380.6,31.2h3.3v3.3h-3.3zM381.1,31.1h3.3v3.3h-3.3zM381.6,31.0h3.3v3.3h-3.3zM382.1,30.9h3.3v3.3h-3.3zM382.6,30.8h3.3v3.3h-3.3zM383.1,30.7h3.3v3.3h-3.3zM383.6,30.7h3.3v3.3h-3.3zM384.1,30.6h3.3v3.3h-3.3zM384.6,30.6h3.3v3.3h-3.3zM385.1,30.5h3.3v3.3h-3.3zM385.6,30.4h3.3v3.3h-3.3zM386.1,30.4h3.3v3.3h-3.3zM386.6,30.3h3.3v3.3h-3.3zM387.1,30.3h3.3v3.3h-3.3zM387.6,30.2h3.3v3.3h-3.3zM388.1,30.2h3.3v3.3h-3.3zM388.6,30.1h3.3v3.3h-3.3zM389.1,30.0h3.3v3.3h-3.3zM389.6,30.0h3.3v3.3h-3.3zM390.1,29.9h3.3v3.3h-3.3zM390.6,29.9h3.3v3.3h-3.3zM391.1,29.8h3.3v3.3h-3.3zM391.6,29.8h3.3v3.3h-3.3zM392.1,29.7h3.3v3.3h-3.3zM392.6,29.6h3.3v3.3h-3.3zM393.1,29.6h3.3v3.3h-3.3zM393.6,29.5h3.3v3.3h-3.3zM394.1,29.5h3.3v3.3h-3.3zM394.6,29.4h3.3v3.3h-3.3zM395.1,29.4h3.3v3.3h-3.3zM395.6,29.5h3.3v3.3h-3.3zM396.1,29.6h3.3v3.3h-3.3zM396.6,29.7h3.3v3.3h-3.3zM397.1,29.9h3.3v3.3h-3.3zM397.6,30.0h3.3v3.3h-3.3zM398.1,30.1h3.3v3.3h-3.3zM398.6,30.3h3.3v3.3h-3.3zM399.1,30.4h3.3v3.3h-3.3zM399.6,30.5h3.3v3.3h-3.3zM400.1,30.7h3.3v3.3h-3.3zM400.6,30.8h3.3v3.3h-3.3zM401.1,30.9h3.3v3.3h-3.3zM401.6,31.1h3.3v3.3h-3.3zM402.1,31.2h3.3v3.3h-3.3zM402.6,31.3h3.3v3.3h-3.3zM403.1,31.5h3.3v3.3h-3.3zM403.6,31.6h3.3v3.3h-3.3zM404.1,31.9h3.3v3.3h-3.3zM404.6,32.1h3.3v3.3h-3.3zM405.1,32.3h3.3v3.3h-3.3zM405.6,32.5h3.3v3.3h-3.3zM406.1,32.8h3.3v3.3h-3.3zM406.6,33.0h3.3v3.3h-3.3zM407.1,33.2h3.3v3.3h-3.3zM407.6,33.4h3.3v3.3h-3.3zM408.1,33.7h3.3v3.3h-3.3zM408.6,33.9h3.3v3.3h-3.3zM409.1,34.1h3.3v3.3h-3.3zM409.6,34.4h3.3v3.3h-3.3zM410.1,34.6h3.3v3.3h-3.3zM410.6,34.8h3.3v3.3h-3.3zM411.1,35.0h3.3v3.3h-3.3zM411.6,35.3h3.3v3.3h-3.3zM412.1,35.5h3.3v3.3h-3.3z" fill="none" stroke="#949220" stroke-width="0.55" opacity="1.0"/>
<path d="M227.6,90.9h3.3v3.3h-3.3zM228.2,89.4h3.3v3.3h-3.3zM228.8,87.9h3.3v3.3h-3.3zM229.4,86.4h3.3v3.3h-3.3zM230.0,84.9h3.3v3.3h-3.3zM230.6,83.4h3.3v3.3h-3.3zM231.2,82.0h3.3v3.3h-3.3zM236.0,70.9h3.3v3.3h-3.3zM236.5,68.5h3.3v3.3h-3.3zM237.0,66.1h3.3v3.3h-3.3zM237.5,63.7h3.3v3.3h-3.3zM238.0,61.3h3.3v3.3h-3.3zM238.5,58.9h3.3v3.3h-3.3zM239.0,56.5h3.3v3.3h-3.3zM239.6,54.0h3.3v3.3h-3.3zM240.2,51.6h3.3v3.3h-3.3zM240.8,49.3h3.3v3.3h-3.3zM241.4,46.9h3.3v3.3h-3.3zM242.0,44.5h3.3v3.3h-3.3zM242.6,42.2h3.3v3.3h-3.3zM243.2,39.9h3.3v3.3h-3.3zM243.8,37.5h3.3v3.3h-3.3zM244.4,35.2h3.3v3.3h-3.3zM245.0,32.9h3.3v3.3h-3.3zM245.6,31.1h3.3v3.3h-3.3z" fill="none" stroke="#949220" stroke-width="0.55" opacity="0.55"/>
</g>
<rect x="221.4" y="6.5" width="193.20000000000002" height="143.6" fill="none" stroke="#222" stroke-width="1"/>
<path d="M221.4,150.1 v-2.6 M237.5,150.1 v-1.6 M253.6,150.1 v-2.6 M269.7,150.1 v-1.6 M285.8,150.1 v-2.6 M301.9,150.1 v-1.6 M318.0,150.1 v-2.6 M334.1,150.1 v-1.6 M350.2,150.1 v-2.6 M366.3,150.1 v-1.6 M382.4,150.1 v-2.6 M398.5,150.1 v-1.6 M414.6,150.1 v-2.6 M221.4,137.6 h2.6 M221.4,125.7 h1.6 M221.4,113.8 h2.6 M221.4,102.0 h1.6 M221.4,90.1 h2.6 M221.4,78.2 h1.6 M221.4,66.3 h2.6 M221.4,54.4 h1.6 M221.4,42.6 h2.6 M221.4,30.7 h1.6 M221.4,18.8 h2.6" stroke="#222" stroke-width="0.8" fill="none"/>
<text x="217.8" y="140.29999999999998" font-size="8.9" text-anchor="end" fill="#111" font-weight="bold" stroke="#111" stroke-width="0.12" textLength="12.1" lengthAdjust="spacingAndGlyphs" >0.0</text>
<text x="217.8" y="116.53999999999999" font-size="8.9" text-anchor="end" fill="#111" font-weight="bold" stroke="#111" stroke-width="0.12" textLength="12.1" lengthAdjust="spacingAndGlyphs" >0.2</text>
<text x="217.8" y="92.77999999999999" font-size="8.9" text-anchor="end" fill="#111" font-weight="bold" stroke="#111" stroke-width="0.12" textLength="12.1" lengthAdjust="spacingAndGlyphs" >0.4</text>
<text x="217.8" y="69.01999999999998" font-size="8.9" text-anchor="end" fill="#111" font-weight="bold" stroke="#111" stroke-width="0.12" textLength="12.1" lengthAdjust="spacingAndGlyphs" >0.6</text>
<text x="217.8" y="45.25999999999999" font-size="8.9" text-anchor="end" fill="#111" font-weight="bold" stroke="#111" stroke-width="0.12" textLength="12.1" lengthAdjust="spacingAndGlyphs" >0.8</text>
<text x="217.8" y="21.499999999999996" font-size="8.9" text-anchor="end" fill="#111" font-weight="bold" stroke="#111" stroke-width="0.12" textLength="12.1" lengthAdjust="spacingAndGlyphs" >1.0</text>
<text x="221.4" y="161" font-size="8.6" text-anchor="middle" fill="#111" font-weight="bold" stroke="#111" stroke-width="0.12" >6</text>
<text x="253.60000000000002" y="161" font-size="8.6" text-anchor="middle" fill="#111" font-weight="bold" stroke="#111" stroke-width="0.12" >8</text>
<text x="285.8" y="161" font-size="8.6" text-anchor="middle" fill="#111" font-weight="bold" stroke="#111" stroke-width="0.12" >10</text>
<text x="318.0" y="161" font-size="8.6" text-anchor="middle" fill="#111" font-weight="bold" stroke="#111" stroke-width="0.12" >12</text>
<text x="350.20000000000005" y="161" font-size="8.6" text-anchor="middle" fill="#111" font-weight="bold" stroke="#111" stroke-width="0.12" >14</text>
<text x="382.40000000000003" y="161" font-size="8.6" text-anchor="middle" fill="#111" font-weight="bold" stroke="#111" stroke-width="0.12" >16</text>
<text x="414.6" y="161" font-size="8.6" text-anchor="middle" fill="#111" font-weight="bold" stroke="#111" stroke-width="0.12" >18</text>
<text x="318" y="171.9" font-size="10.3" text-anchor="middle" fill="#111" font-weight="bold" stroke="#111" stroke-width="0.22" textLength="90.7" lengthAdjust="spacingAndGlyphs" >Frequency (GHz)</text>
<text transform="translate(197.6,89.5) rotate(-90)" font-size="10.2" text-anchor="middle" font-weight="bold" fill="#111" stroke="#111" stroke-width="0.22" textLength="68.3" lengthAdjust="spacingAndGlyphs">Absorption</text>
<text x="411.5" y="17.6" font-size="9.4" text-anchor="end" fill="#111" font-weight="bold" stroke="#111" stroke-width="0.22" textLength="54.4" lengthAdjust="spacingAndGlyphs" >D = 8.0 mm</text>
<line x1="322.6" y1="44.6" x2="340.7" y2="44.6" stroke="#808080" stroke-width="0.8"/>
<rect x="330.1" y="43.0" width="3.2" height="3.2" fill="#fff" stroke="#808080" stroke-width="0.7"/>
<text x="343.3" y="47.0" font-size="6.9" text-anchor="start" fill="#111" font-weight="bold" stroke="#111" stroke-width="0.12" textLength="35.1" lengthAdjust="spacingAndGlyphs" >H = 0 mm</text>
<line x1="322.6" y1="54.8" x2="340.7" y2="54.8" stroke="#7070e0" stroke-width="0.8"/>
<rect x="330.1" y="53.2" width="3.2" height="3.2" fill="#fff" stroke="#7070e0" stroke-width="0.7"/>
<text x="343.3" y="57.18" font-size="6.9" text-anchor="start" fill="#111" font-weight="bold" stroke="#111" stroke-width="0.12" textLength="42" lengthAdjust="spacingAndGlyphs" >H = 0.5 mm</text>
<line x1="322.6" y1="65.0" x2="340.7" y2="65.0" stroke="#f08080" stroke-width="0.8"/>
<circle cx="331.7" cy="65.0" r="1.6" fill="#fff" stroke="#f08080" stroke-width="0.7"/>
<text x="343.3" y="67.36000000000001" font-size="6.9" text-anchor="start" fill="#111" font-weight="bold" stroke="#111" stroke-width="0.12" textLength="42" lengthAdjust="spacingAndGlyphs" >H = 1.0 mm</text>
<line x1="322.6" y1="75.1" x2="340.7" y2="75.1" stroke="#70c0c0" stroke-width="0.8"/>
<polygon points="330.1,73.9 333.3,73.9 331.7,76.7" fill="#fff" stroke="#70c0c0" stroke-width="0.7"/>
<text x="343.3" y="77.54" font-size="6.9" text-anchor="start" fill="#111" font-weight="bold" stroke="#111" stroke-width="0.12" textLength="42" lengthAdjust="spacingAndGlyphs" >H = 1.5 mm</text>
<line x1="322.6" y1="85.3" x2="340.7" y2="85.3" stroke="#f070f0" stroke-width="0.8"/>
<polygon points="333.0,83.7 333.0,86.9 330.1,85.3" fill="#fff" stroke="#f070f0" stroke-width="0.7"/>
<text x="343.3" y="87.72" font-size="6.9" text-anchor="start" fill="#111" font-weight="bold" stroke="#111" stroke-width="0.12" textLength="42" lengthAdjust="spacingAndGlyphs" >H = 2.0 mm</text>
<line x1="322.6" y1="95.5" x2="340.7" y2="95.5" stroke="#b8b880" stroke-width="0.8"/>
<polygon points="333.0,93.9 333.0,97.1 330.1,95.5" fill="#fff" stroke="#b8b880" stroke-width="0.7"/>
<text x="343.3" y="97.9" font-size="6.9" text-anchor="start" fill="#111" font-weight="bold" stroke="#111" stroke-width="0.12" textLength="42" lengthAdjust="spacingAndGlyphs" >H = 2.5 mm</text>
<text x="189.2" y="194.3" font-size="16" text-anchor="start" fill="#111" font-weight="bold" stroke="#111" stroke-width="0.22" >d</text>
<line x1="221.5" y1="201.2" x2="415.5" y2="201.2" stroke="#666" stroke-width="0.7" stroke-dasharray="2,1.6"/>
<defs><clipPath id="cd"><rect x="221.5" y="188.4" width="194" height="143.3"/></clipPath></defs>
<g clip-path="url(#cd)">
<path d="M220.5,290.8h3.1v3.1h-3.1zM221.1,290.7h3.1v3.1h-3.1zM221.7,290.5h3.1v3.1h-3.1zM222.3,290.4h3.1v3.1h-3.1zM222.9,290.2h3.1v3.1h-3.1zM223.5,290.1h3.1v3.1h-3.1zM224.1,289.9h3.1v3.1h-3.1zM224.7,289.8h3.1v3.1h-3.1zM225.3,288.8h3.1v3.1h-3.1zM225.9,287.9h3.1v3.1h-3.1zM226.5,287.0h3.1v3.1h-3.1zM227.1,286.1h3.1v3.1h-3.1zM227.7,285.1h3.1v3.1h-3.1zM228.3,284.2h3.1v3.1h-3.1zM228.9,283.3h3.1v3.1h-3.1zM229.5,282.1h3.1v3.1h-3.1zM230.1,280.9h3.1v3.1h-3.1zM230.7,279.7h3.1v3.1h-3.1zM231.3,278.5h3.1v3.1h-3.1zM231.9,277.3h3.1v3.1h-3.1zM232.5,276.1h3.1v3.1h-3.1zM233.1,274.9h3.1v3.1h-3.1zM233.7,273.3h3.1v3.1h-3.1zM234.3,271.7h3.1v3.1h-3.1zM234.9,270.1h3.1v3.1h-3.1zM235.5,268.5h3.1v3.1h-3.1zM236.1,266.9h3.1v3.1h-3.1zM236.6,264.9h3.1v3.1h-3.1zM237.1,262.9h3.1v3.1h-3.1zM237.6,260.9h3.1v3.1h-3.1zM238.1,258.9h3.1v3.1h-3.1zM238.7,256.9h3.1v3.1h-3.1zM239.3,255.1h3.1v3.1h-3.1zM239.9,253.3h3.1v3.1h-3.1zM240.5,251.5h3.1v3.1h-3.1zM241.1,249.2h3.1v3.1h-3.1zM241.6,247.2h3.1v3.1h-3.1zM242.1,245.2h3.1v3.1h-3.1zM242.6,243.1h3.1v3.1h-3.1zM243.1,241.1h3.1v3.1h-3.1zM243.6,239.1h3.1v3.1h-3.1zM244.1,237.0h3.1v3.1h-3.1zM244.6,235.0h3.1v3.1h-3.1zM245.1,233.0h3.1v3.1h-3.1zM245.7,231.5h3.1v3.1h-3.1zM246.3,230.0h3.1v3.1h-3.1zM246.9,228.5h3.1v3.1h-3.1zM247.5,227.0h3.1v3.1h-3.1zM248.1,225.6h3.1v3.1h-3.1zM248.7,224.1h3.1v3.1h-3.1zM249.3,222.6h3.1v3.1h-3.1zM249.9,221.2h3.1v3.1h-3.1zM250.5,219.8h3.1v3.1h-3.1zM251.1,218.4h3.1v3.1h-3.1zM251.7,217.1h3.1v3.1h-3.1zM252.3,215.7h3.1v3.1h-3.1zM252.9,214.4h3.1v3.1h-3.1zM253.5,213.0h3.1v3.1h-3.1zM254.1,211.8h3.1v3.1h-3.1zM254.6,211.3h3.1v3.1h-3.1zM255.1,210.9h3.1v3.1h-3.1zM255.6,210.5h3.1v3.1h-3.1zM256.1,210.1h3.1v3.1h-3.1zM256.6,209.7h3.1v3.1h-3.1zM257.1,209.3h3.1v3.1h-3.1zM257.6,208.8h3.1v3.1h-3.1zM258.1,208.4h3.1v3.1h-3.1zM258.6,208.0h3.1v3.1h-3.1zM259.1,207.6h3.1v3.1h-3.1zM259.6,207.2h3.1v3.1h-3.1zM260.1,206.8h3.1v3.1h-3.1zM260.6,206.3h3.1v3.1h-3.1zM261.1,206.1h3.1v3.1h-3.1zM261.6,205.9h3.1v3.1h-3.1zM262.1,205.7h3.1v3.1h-3.1zM262.6,205.5h3.1v3.1h-3.1zM263.2,205.3h3.1v3.1h-3.1zM263.7,205.1h3.1v3.1h-3.1zM264.2,204.9h3.1v3.1h-3.1zM264.7,204.7h3.1v3.1h-3.1zM265.2,204.5h3.1v3.1h-3.1zM265.7,204.3h3.1v3.1h-3.1zM266.2,204.1h3.1v3.1h-3.1zM266.7,203.9h3.1v3.1h-3.1zM267.2,203.7h3.1v3.1h-3.1zM267.7,203.5h3.1v3.1h-3.1zM268.2,203.4h3.1v3.1h-3.1zM268.7,203.3h3.1v3.1h-3.1zM269.2,203.1h3.1v3.1h-3.1zM269.7,203.0h3.1v3.1h-3.1zM270.2,202.9h3.1v3.1h-3.1zM270.7,202.8h3.1v3.1h-3.1zM271.2,202.6h3.1v3.1h-3.1zM271.7,202.5h3.1v3.1h-3.1zM272.2,202.4h3.1v3.1h-3.1zM272.7,202.3h3.1v3.1h-3.1zM273.2,202.1h3.1v3.1h-3.1zM273.7,202.0h3.1v3.1h-3.1zM274.2,201.9h3.1v3.1h-3.1zM274.7,201.8h3.1v3.1h-3.1zM275.2,201.6h3.1v3.1h-3.1zM275.7,201.5h3.1v3.1h-3.1zM276.2,201.4h3.1v3.1h-3.1zM276.7,201.3h3.1v3.1h-3.1zM277.2,201.2h3.1v3.1h-3.1zM277.7,201.2h3.1v3.1h-3.1zM278.2,201.1h3.1v3.1h-3.1zM278.7,201.0h3.1v3.1h-3.1zM279.2,200.9h3.1v3.1h-3.1zM279.7,200.9h3.1v3.1h-3.1zM280.2,200.8h3.1v3.1h-3.1zM280.7,200.7h3.1v3.1h-3.1zM281.2,200.6h3.1v3.1h-3.1zM281.7,200.6h3.1v3.1h-3.1zM282.2,200.5h3.1v3.1h-3.1zM282.7,200.4h3.1v3.1h-3.1zM283.2,200.4h3.1v3.1h-3.1zM283.7,200.3h3.1v3.1h-3.1zM284.2,200.2h3.1v3.1h-3.1zM284.7,200.1h3.1v3.1h-3.1zM285.2,200.1h3.1v3.1h-3.1zM285.7,200.1h3.1v3.1h-3.1zM286.2,200.2h3.1v3.1h-3.1zM286.7,200.3h3.1v3.1h-3.1zM287.2,200.4h3.1v3.1h-3.1zM287.7,200.5h3.1v3.1h-3.1zM288.2,200.6h3.1v3.1h-3.1zM288.7,200.7h3.1v3.1h-3.1zM289.2,200.8h3.1v3.1h-3.1zM289.7,200.9h3.1v3.1h-3.1zM290.2,201.0h3.1v3.1h-3.1zM290.7,201.1h3.1v3.1h-3.1zM291.2,201.2h3.1v3.1h-3.1zM291.7,201.3h3.1v3.1h-3.1zM292.2,201.4h3.1v3.1h-3.1zM292.7,201.5h3.1v3.1h-3.1zM293.2,201.6h3.1v3.1h-3.1zM293.7,201.7h3.1v3.1h-3.1zM294.2,201.9h3.1v3.1h-3.1zM294.7,202.2h3.1v3.1h-3.1zM295.2,202.5h3.1v3.1h-3.1zM295.7,202.9h3.1v3.1h-3.1zM296.2,203.2h3.1v3.1h-3.1zM296.7,203.5h3.1v3.1h-3.1zM297.2,203.9h3.1v3.1h-3.1zM297.7,204.2h3.1v3.1h-3.1zM298.2,204.5h3.1v3.1h-3.1zM298.7,204.8h3.1v3.1h-3.1zM299.2,204.9h3.1v3.1h-3.1zM299.7,205.0h3.1v3.1h-3.1zM300.2,205.1h3.1v3.1h-3.1zM300.7,205.2h3.1v3.1h-3.1zM301.2,205.3h3.1v3.1h-3.1zM301.7,205.4h3.1v3.1h-3.1zM302.2,205.5h3.1v3.1h-3.1zM302.7,205.6h3.1v3.1h-3.1zM303.2,205.7h3.1v3.1h-3.1zM303.7,205.8h3.1v3.1h-3.1zM304.2,205.9h3.1v3.1h-3.1zM304.7,206.0h3.1v3.1h-3.1zM305.2,206.1h3.1v3.1h-3.1zM305.7,206.2h3.1v3.1h-3.1zM306.2,206.3h3.1v3.1h-3.1zM306.7,206.4h3.1v3.1h-3.1zM307.2,206.5h3.1v3.1h-3.1zM307.7,206.6h3.1v3.1h-3.1zM308.2,206.7h3.1v3.1h-3.1zM308.7,206.8h3.1v3.1h-3.1zM309.2,206.9h3.1v3.1h-3.1zM309.7,207.0h3.1v3.1h-3.1zM310.2,207.1h3.1v3.1h-3.1zM310.7,207.2h3.1v3.1h-3.1zM311.2,207.3h3.1v3.1h-3.1zM311.7,207.4h3.1v3.1h-3.1zM312.2,207.5h3.1v3.1h-3.1zM312.7,207.6h3.1v3.1h-3.1zM313.2,207.7h3.1v3.1h-3.1zM313.7,207.8h3.1v3.1h-3.1zM314.2,207.9h3.1v3.1h-3.1zM314.7,208.0h3.1v3.1h-3.1zM315.2,208.1h3.1v3.1h-3.1zM315.7,208.2h3.1v3.1h-3.1zM316.2,208.3h3.1v3.1h-3.1zM316.7,208.4h3.1v3.1h-3.1zM317.2,208.5h3.1v3.1h-3.1zM317.7,208.6h3.1v3.1h-3.1zM318.2,208.7h3.1v3.1h-3.1zM318.7,208.8h3.1v3.1h-3.1zM319.2,208.9h3.1v3.1h-3.1zM319.7,209.0h3.1v3.1h-3.1zM320.2,209.1h3.1v3.1h-3.1zM320.7,209.2h3.1v3.1h-3.1zM321.2,209.3h3.1v3.1h-3.1zM321.7,209.4h3.1v3.1h-3.1zM322.2,209.5h3.1v3.1h-3.1zM322.7,209.5h3.1v3.1h-3.1zM323.2,209.6h3.1v3.1h-3.1zM323.7,209.6h3.1v3.1h-3.1zM324.2,209.7h3.1v3.1h-3.1zM324.7,209.7h3.1v3.1h-3.1zM325.2,209.8h3.1v3.1h-3.1zM325.7,209.8h3.1v3.1h-3.1zM326.2,209.9h3.1v3.1h-3.1zM326.7,209.9h3.1v3.1h-3.1zM327.2,210.0h3.1v3.1h-3.1zM327.7,210.0h3.1v3.1h-3.1zM328.2,210.1h3.1v3.1h-3.1zM328.7,210.1h3.1v3.1h-3.1zM329.2,210.2h3.1v3.1h-3.1zM329.7,210.2h3.1v3.1h-3.1zM330.2,210.3h3.1v3.1h-3.1zM330.7,210.3h3.1v3.1h-3.1zM331.2,210.4h3.1v3.1h-3.1zM331.7,210.4h3.1v3.1h-3.1zM332.2,210.5h3.1v3.1h-3.1zM332.7,210.5h3.1v3.1h-3.1zM333.2,210.6h3.1v3.1h-3.1zM333.7,210.6h3.1v3.1h-3.1zM334.2,210.7h3.1v3.1h-3.1zM334.7,210.8h3.1v3.1h-3.1zM335.2,210.9h3.1v3.1h-3.1zM335.7,211.0h3.1v3.1h-3.1zM336.2,211.1h3.1v3.1h-3.1zM336.7,211.2h3.1v3.1h-3.1zM337.2,211.3h3.1v3.1h-3.1zM337.7,211.4h3.1v3.1h-3.1zM338.2,211.5h3.1v3.1h-3.1zM338.7,211.6h3.1v3.1h-3.1zM339.2,211.7h3.1v3.1h-3.1zM339.7,211.8h3.1v3.1h-3.1zM340.2,211.9h3.1v3.1h-3.1zM340.7,212.0h3.1v3.1h-3.1zM341.2,212.1h3.1v3.1h-3.1zM341.7,212.2h3.1v3.1h-3.1zM342.2,212.3h3.1v3.1h-3.1zM342.7,212.4h3.1v3.1h-3.1zM343.2,212.5h3.1v3.1h-3.1zM343.7,212.6h3.1v3.1h-3.1zM344.2,212.7h3.1v3.1h-3.1zM344.7,212.8h3.1v3.1h-3.1zM345.2,212.9h3.1v3.1h-3.1zM345.7,213.0h3.1v3.1h-3.1zM346.2,213.1h3.1v3.1h-3.1zM346.7,213.1h3.1v3.1h-3.1zM347.2,213.2h3.1v3.1h-3.1zM347.7,213.2h3.1v3.1h-3.1zM348.2,213.3h3.1v3.1h-3.1zM348.7,213.3h3.1v3.1h-3.1zM349.2,213.4h3.1v3.1h-3.1zM349.7,213.4h3.1v3.1h-3.1zM350.2,213.5h3.1v3.1h-3.1zM350.7,213.5h3.1v3.1h-3.1zM351.2,213.6h3.1v3.1h-3.1zM351.7,213.6h3.1v3.1h-3.1zM352.2,213.7h3.1v3.1h-3.1zM352.7,213.7h3.1v3.1h-3.1zM353.2,213.8h3.1v3.1h-3.1zM353.7,213.8h3.1v3.1h-3.1zM354.2,213.9h3.1v3.1h-3.1zM354.7,213.9h3.1v3.1h-3.1zM355.2,214.0h3.1v3.1h-3.1zM355.7,214.0h3.1v3.1h-3.1zM356.2,214.1h3.1v3.1h-3.1zM356.7,214.1h3.1v3.1h-3.1zM357.2,214.2h3.1v3.1h-3.1zM357.7,214.3h3.1v3.1h-3.1zM358.2,214.4h3.1v3.1h-3.1zM358.7,214.5h3.1v3.1h-3.1zM359.2,214.6h3.1v3.1h-3.1zM359.7,214.7h3.1v3.1h-3.1zM360.2,214.9h3.1v3.1h-3.1zM360.7,215.0h3.1v3.1h-3.1zM361.2,215.1h3.1v3.1h-3.1zM361.7,215.2h3.1v3.1h-3.1zM362.2,215.4h3.1v3.1h-3.1zM362.7,215.5h3.1v3.1h-3.1zM363.2,215.6h3.1v3.1h-3.1zM363.7,215.7h3.1v3.1h-3.1zM364.2,215.8h3.1v3.1h-3.1zM364.7,216.0h3.1v3.1h-3.1zM365.2,216.1h3.1v3.1h-3.1zM365.7,216.2h3.1v3.1h-3.1zM366.2,216.3h3.1v3.1h-3.1zM366.7,216.5h3.1v3.1h-3.1zM367.2,216.5h3.1v3.1h-3.1zM367.7,216.4h3.1v3.1h-3.1zM368.2,216.2h3.1v3.1h-3.1zM368.7,216.0h3.1v3.1h-3.1zM369.2,215.9h3.1v3.1h-3.1zM369.7,215.7h3.1v3.1h-3.1zM370.2,215.5h3.1v3.1h-3.1zM370.7,215.4h3.1v3.1h-3.1zM371.2,215.2h3.1v3.1h-3.1zM371.7,215.1h3.1v3.1h-3.1zM372.2,214.9h3.1v3.1h-3.1zM372.7,214.7h3.1v3.1h-3.1zM373.2,214.6h3.1v3.1h-3.1zM373.7,214.4h3.1v3.1h-3.1zM374.2,214.2h3.1v3.1h-3.1zM374.7,214.2h3.1v3.1h-3.1zM375.2,214.1h3.1v3.1h-3.1zM375.7,214.1h3.1v3.1h-3.1zM376.2,214.0h3.1v3.1h-3.1zM376.7,213.9h3.1v3.1h-3.1zM377.2,213.9h3.1v3.1h-3.1zM377.7,213.8h3.1v3.1h-3.1zM378.2,213.7h3.1v3.1h-3.1zM378.7,213.7h3.1v3.1h-3.1zM379.2,213.6h3.1v3.1h-3.1zM379.7,213.6h3.1v3.1h-3.1zM380.2,213.5h3.1v3.1h-3.1zM380.7,213.4h3.1v3.1h-3.1zM381.2,213.4h3.1v3.1h-3.1zM381.7,213.3h3.1v3.1h-3.1zM382.2,213.2h3.1v3.1h-3.1zM382.7,213.2h3.1v3.1h-3.1zM383.2,213.1h3.1v3.1h-3.1zM383.7,213.0h3.1v3.1h-3.1zM384.2,213.0h3.1v3.1h-3.1zM384.7,213.0h3.1v3.1h-3.1zM385.2,213.0h3.1v3.1h-3.1zM385.7,213.0h3.1v3.1h-3.1zM386.2,213.0h3.1v3.1h-3.1zM386.7,213.0h3.1v3.1h-3.1zM387.2,213.0h3.1v3.1h-3.1zM387.7,213.0h3.1v3.1h-3.1zM388.2,213.0h3.1v3.1h-3.1zM388.7,213.0h3.1v3.1h-3.1zM389.2,213.0h3.1v3.1h-3.1zM389.7,213.0h3.1v3.1h-3.1zM390.2,213.0h3.1v3.1h-3.1zM390.7,213.0h3.1v3.1h-3.1zM391.2,213.0h3.1v3.1h-3.1zM391.7,213.0h3.1v3.1h-3.1zM392.2,213.0h3.1v3.1h-3.1zM392.7,213.0h3.1v3.1h-3.1zM393.2,213.1h3.1v3.1h-3.1zM393.7,213.1h3.1v3.1h-3.1zM394.2,213.2h3.1v3.1h-3.1zM394.7,213.2h3.1v3.1h-3.1zM395.2,213.3h3.1v3.1h-3.1zM395.7,213.4h3.1v3.1h-3.1zM396.2,213.4h3.1v3.1h-3.1zM396.7,213.5h3.1v3.1h-3.1zM397.2,213.6h3.1v3.1h-3.1zM397.7,213.6h3.1v3.1h-3.1zM398.2,213.7h3.1v3.1h-3.1zM398.7,213.8h3.1v3.1h-3.1zM399.2,213.8h3.1v3.1h-3.1zM399.7,213.9h3.1v3.1h-3.1zM400.2,213.9h3.1v3.1h-3.1zM400.7,214.0h3.1v3.1h-3.1zM401.2,214.1h3.1v3.1h-3.1zM401.7,214.1h3.1v3.1h-3.1zM402.2,214.2h3.1v3.1h-3.1zM402.7,214.3h3.1v3.1h-3.1zM403.2,214.5h3.1v3.1h-3.1zM403.7,214.7h3.1v3.1h-3.1zM404.2,215.0h3.1v3.1h-3.1zM404.7,215.2h3.1v3.1h-3.1zM405.2,215.4h3.1v3.1h-3.1zM405.7,215.6h3.1v3.1h-3.1zM406.2,215.8h3.1v3.1h-3.1zM406.7,216.1h3.1v3.1h-3.1zM407.2,216.3h3.1v3.1h-3.1zM407.7,216.5h3.1v3.1h-3.1zM408.2,216.7h3.1v3.1h-3.1zM408.7,216.9h3.1v3.1h-3.1zM409.2,217.1h3.1v3.1h-3.1zM409.7,217.4h3.1v3.1h-3.1zM410.2,217.6h3.1v3.1h-3.1zM410.7,217.8h3.1v3.1h-3.1zM411.2,218.0h3.1v3.1h-3.1zM411.7,218.2h3.1v3.1h-3.1zM412.2,218.5h3.1v3.1h-3.1zM412.7,218.7h3.1v3.1h-3.1zM413.2,218.9h3.1v3.1h-3.1z" fill="none" stroke="#289090" stroke-width="0.75" opacity="1.0"/>
<path d="M220.5,300.2h3.1v3.1h-3.1zM221.1,302.0h3.1v3.1h-3.1zM221.7,303.8h3.1v3.1h-3.1zM222.3,305.6h3.1v3.1h-3.1zM222.9,306.0h3.1v3.1h-3.1zM223.5,305.1h3.1v3.1h-3.1zM224.1,304.2h3.1v3.1h-3.1zM224.7,303.4h3.1v3.1h-3.1zM225.3,302.5h3.1v3.1h-3.1zM225.9,301.6h3.1v3.1h-3.1zM226.5,300.7h3.1v3.1h-3.1zM227.1,299.8h3.1v3.1h-3.1zM227.7,298.9h3.1v3.1h-3.1zM228.3,297.9h3.1v3.1h-3.1zM228.9,297.0h3.1v3.1h-3.1zM229.5,296.1h3.1v3.1h-3.1zM230.1,295.2h3.1v3.1h-3.1zM230.7,294.3h3.1v3.1h-3.1zM231.3,293.2h3.1v3.1h-3.1zM231.9,292.0h3.1v3.1h-3.1zM232.5,290.8h3.1v3.1h-3.1zM233.1,289.6h3.1v3.1h-3.1zM233.7,288.4h3.1v3.1h-3.1zM234.3,287.2h3.1v3.1h-3.1zM234.9,286.0h3.1v3.1h-3.1zM235.5,284.2h3.1v3.1h-3.1zM236.1,282.1h3.1v3.1h-3.1zM236.7,280.0h3.1v3.1h-3.1zM237.3,277.9h3.1v3.1h-3.1zM237.9,275.8h3.1v3.1h-3.1zM238.5,273.7h3.1v3.1h-3.1zM239.1,271.6h3.1v3.1h-3.1zM239.7,269.5h3.1v3.1h-3.1zM240.3,267.4h3.1v3.1h-3.1zM240.9,265.3h3.1v3.1h-3.1zM241.5,263.2h3.1v3.1h-3.1zM242.1,261.0h3.1v3.1h-3.1zM242.7,258.9h3.1v3.1h-3.1zM243.3,256.8h3.1v3.1h-3.1zM243.9,254.6h3.1v3.1h-3.1zM244.5,252.4h3.1v3.1h-3.1zM245.1,250.1h3.1v3.1h-3.1zM245.7,247.9h3.1v3.1h-3.1zM246.3,245.6h3.1v3.1h-3.1zM246.9,243.4h3.1v3.1h-3.1zM247.5,241.2h3.1v3.1h-3.1zM248.1,238.9h3.1v3.1h-3.1zM248.7,237.0h3.1v3.1h-3.1zM249.3,235.5h3.1v3.1h-3.1zM249.9,234.0h3.1v3.1h-3.1zM250.5,232.5h3.1v3.1h-3.1zM251.1,231.0h3.1v3.1h-3.1zM251.7,229.5h3.1v3.1h-3.1zM252.3,228.0h3.1v3.1h-3.1zM252.9,226.5h3.1v3.1h-3.1zM253.4,224.4h3.1v3.1h-3.1zM253.9,222.4h3.1v3.1h-3.1zM254.4,220.3h3.1v3.1h-3.1zM254.9,218.3h3.1v3.1h-3.1zM255.4,217.2h3.1v3.1h-3.1zM255.9,216.9h3.1v3.1h-3.1zM256.4,216.6h3.1v3.1h-3.1zM256.9,216.2h3.1v3.1h-3.1zM257.4,215.9h3.1v3.1h-3.1zM257.9,215.6h3.1v3.1h-3.1zM258.4,215.2h3.1v3.1h-3.1zM258.9,214.9h3.1v3.1h-3.1zM259.4,214.5h3.1v3.1h-3.1zM259.9,214.1h3.1v3.1h-3.1zM260.4,213.7h3.1v3.1h-3.1zM260.9,213.4h3.1v3.1h-3.1zM261.4,213.0h3.1v3.1h-3.1zM261.9,212.6h3.1v3.1h-3.1zM262.4,212.2h3.1v3.1h-3.1zM262.9,211.8h3.1v3.1h-3.1zM263.5,211.6h3.1v3.1h-3.1zM264.0,211.3h3.1v3.1h-3.1zM264.5,211.1h3.1v3.1h-3.1zM265.0,210.8h3.1v3.1h-3.1zM265.5,210.6h3.1v3.1h-3.1zM266.0,210.3h3.1v3.1h-3.1zM266.5,210.1h3.1v3.1h-3.1zM267.0,209.8h3.1v3.1h-3.1zM267.5,209.6h3.1v3.1h-3.1zM268.0,209.3h3.1v3.1h-3.1zM268.5,209.1h3.1v3.1h-3.1zM269.0,208.8h3.1v3.1h-3.1zM269.5,208.6h3.1v3.1h-3.1zM270.0,208.3h3.1v3.1h-3.1zM270.5,208.0h3.1v3.1h-3.1zM271.0,207.6h3.1v3.1h-3.1zM271.5,207.3h3.1v3.1h-3.1zM272.0,207.0h3.1v3.1h-3.1zM272.5,206.7h3.1v3.1h-3.1zM273.0,206.4h3.1v3.1h-3.1zM273.5,206.1h3.1v3.1h-3.1zM274.0,205.8h3.1v3.1h-3.1zM274.5,205.5h3.1v3.1h-3.1zM275.0,205.2h3.1v3.1h-3.1zM275.5,204.9h3.1v3.1h-3.1zM276.0,204.6h3.1v3.1h-3.1zM276.5,204.2h3.1v3.1h-3.1zM277.0,203.9h3.1v3.1h-3.1zM277.5,203.6h3.1v3.1h-3.1zM278.0,203.3h3.1v3.1h-3.1zM278.5,203.0h3.1v3.1h-3.1zM279.0,202.8h3.1v3.1h-3.1zM279.5,202.6h3.1v3.1h-3.1zM280.0,202.5h3.1v3.1h-3.1zM280.5,202.3h3.1v3.1h-3.1zM281.0,202.1h3.1v3.1h-3.1zM281.5,202.0h3.1v3.1h-3.1zM282.0,201.8h3.1v3.1h-3.1zM282.5,201.6h3.1v3.1h-3.1zM283.0,201.4h3.1v3.1h-3.1zM283.5,201.3h3.1v3.1h-3.1zM284.0,201.1h3.1v3.1h-3.1zM284.5,200.9h3.1v3.1h-3.1zM285.0,200.8h3.1v3.1h-3.1zM285.5,200.7h3.1v3.1h-3.1zM286.0,200.8h3.1v3.1h-3.1zM286.5,201.0h3.1v3.1h-3.1zM287.0,201.1h3.1v3.1h-3.1zM287.5,201.2h3.1v3.1h-3.1zM288.0,201.3h3.1v3.1h-3.1zM288.5,201.5h3.1v3.1h-3.1zM289.0,201.6h3.1v3.1h-3.1zM289.5,201.7h3.1v3.1h-3.1zM290.0,201.9h3.1v3.1h-3.1zM290.5,202.0h3.1v3.1h-3.1zM291.0,202.1h3.1v3.1h-3.1zM291.5,202.3h3.1v3.1h-3.1zM292.0,202.4h3.1v3.1h-3.1zM292.5,202.5h3.1v3.1h-3.1zM293.0,202.6h3.1v3.1h-3.1zM293.5,202.8h3.1v3.1h-3.1zM294.0,202.9h3.1v3.1h-3.1zM294.5,203.2h3.1v3.1h-3.1zM295.0,203.7h3.1v3.1h-3.1zM295.5,204.2h3.1v3.1h-3.1zM296.0,204.7h3.1v3.1h-3.1zM296.5,205.2h3.1v3.1h-3.1zM297.0,205.7h3.1v3.1h-3.1zM297.5,206.2h3.1v3.1h-3.1zM298.0,206.7h3.1v3.1h-3.1zM298.5,207.2h3.1v3.1h-3.1zM299.0,207.5h3.1v3.1h-3.1zM299.5,207.9h3.1v3.1h-3.1zM300.0,208.3h3.1v3.1h-3.1zM300.5,208.6h3.1v3.1h-3.1zM301.0,209.0h3.1v3.1h-3.1zM301.5,209.4h3.1v3.1h-3.1zM302.0,209.8h3.1v3.1h-3.1zM302.5,210.1h3.1v3.1h-3.1zM303.0,210.5h3.1v3.1h-3.1zM303.5,210.9h3.1v3.1h-3.1zM304.0,211.3h3.1v3.1h-3.1zM304.5,211.6h3.1v3.1h-3.1zM305.0,212.0h3.1v3.1h-3.1zM305.5,212.4h3.1v3.1h-3.1zM306.0,212.8h3.1v3.1h-3.1zM306.5,213.1h3.1v3.1h-3.1zM307.0,213.5h3.1v3.1h-3.1zM307.5,213.9h3.1v3.1h-3.1zM308.0,214.3h3.1v3.1h-3.1zM308.5,214.6h3.1v3.1h-3.1zM309.0,214.9h3.1v3.1h-3.1zM309.5,215.2h3.1v3.1h-3.1zM310.0,215.6h3.1v3.1h-3.1zM310.5,215.9h3.1v3.1h-3.1zM311.0,216.2h3.1v3.1h-3.1zM311.5,216.6h3.1v3.1h-3.1zM312.0,216.9h3.1v3.1h-3.1zM312.5,217.2h3.1v3.1h-3.1zM313.0,217.6h3.1v3.1h-3.1zM313.5,217.9h3.1v3.1h-3.1zM314.0,218.2h3.1v3.1h-3.1zM314.5,218.6h3.1v3.1h-3.1zM315.0,218.9h3.1v3.1h-3.1zM315.5,219.1h3.1v3.1h-3.1zM316.0,219.4h3.1v3.1h-3.1zM316.5,219.6h3.1v3.1h-3.1zM317.0,219.9h3.1v3.1h-3.1zM317.5,220.1h3.1v3.1h-3.1zM318.0,220.4h3.1v3.1h-3.1zM318.5,220.6h3.1v3.1h-3.1zM319.0,220.9h3.1v3.1h-3.1zM319.5,221.1h3.1v3.1h-3.1zM320.0,221.4h3.1v3.1h-3.1zM320.5,221.6h3.1v3.1h-3.1zM321.0,221.9h3.1v3.1h-3.1zM321.5,222.1h3.1v3.1h-3.1zM322.0,222.4h3.1v3.1h-3.1zM322.5,222.0h3.1v3.1h-3.1zM323.0,221.2h3.1v3.1h-3.1zM323.5,220.5h3.1v3.1h-3.1zM324.0,219.7h3.1v3.1h-3.1zM324.5,219.0h3.1v3.1h-3.1zM325.0,219.1h3.1v3.1h-3.1zM325.5,219.2h3.1v3.1h-3.1zM326.0,219.3h3.1v3.1h-3.1zM326.5,219.5h3.1v3.1h-3.1zM327.0,219.6h3.1v3.1h-3.1zM327.5,219.7h3.1v3.1h-3.1zM328.0,219.8h3.1v3.1h-3.1zM328.5,220.0h3.1v3.1h-3.1zM329.0,220.1h3.1v3.1h-3.1zM329.5,220.2h3.1v3.1h-3.1zM330.0,220.3h3.1v3.1h-3.1zM330.5,220.5h3.1v3.1h-3.1zM331.0,220.6h3.1v3.1h-3.1zM331.5,220.7h3.1v3.1h-3.1zM332.0,220.8h3.1v3.1h-3.1zM332.5,221.0h3.1v3.1h-3.1zM333.0,221.1h3.1v3.1h-3.1zM333.5,221.2h3.1v3.1h-3.1zM334.0,221.4h3.1v3.1h-3.1zM334.5,221.5h3.1v3.1h-3.1zM335.0,221.7h3.1v3.1h-3.1zM335.5,221.9h3.1v3.1h-3.1zM336.0,222.1h3.1v3.1h-3.1zM336.5,222.3h3.1v3.1h-3.1zM337.0,222.5h3.1v3.1h-3.1zM337.5,222.7h3.1v3.1h-3.1zM338.0,222.9h3.1v3.1h-3.1zM338.5,223.1h3.1v3.1h-3.1zM339.0,223.3h3.1v3.1h-3.1zM339.5,223.5h3.1v3.1h-3.1zM340.0,223.7h3.1v3.1h-3.1zM340.5,223.9h3.1v3.1h-3.1zM341.0,224.1h3.1v3.1h-3.1zM341.5,224.3h3.1v3.1h-3.1zM342.0,224.5h3.1v3.1h-3.1zM342.5,224.7h3.1v3.1h-3.1zM343.0,224.9h3.1v3.1h-3.1zM343.5,225.1h3.1v3.1h-3.1zM344.0,225.3h3.1v3.1h-3.1zM344.5,225.5h3.1v3.1h-3.1zM345.0,225.7h3.1v3.1h-3.1zM345.5,225.9h3.1v3.1h-3.1zM346.0,226.1h3.1v3.1h-3.1zM346.5,226.2h3.1v3.1h-3.1zM347.0,226.4h3.1v3.1h-3.1zM347.5,226.5h3.1v3.1h-3.1zM348.0,226.6h3.1v3.1h-3.1zM348.5,226.7h3.1v3.1h-3.1zM349.0,226.9h3.1v3.1h-3.1zM349.5,227.0h3.1v3.1h-3.1zM350.0,227.1h3.1v3.1h-3.1zM350.5,227.2h3.1v3.1h-3.1zM351.0,227.4h3.1v3.1h-3.1zM351.5,227.5h3.1v3.1h-3.1zM352.0,227.6h3.1v3.1h-3.1zM352.5,227.7h3.1v3.1h-3.1zM353.0,227.9h3.1v3.1h-3.1zM353.5,228.0h3.1v3.1h-3.1zM354.0,228.1h3.1v3.1h-3.1zM354.5,228.2h3.1v3.1h-3.1zM355.0,228.4h3.1v3.1h-3.1zM355.5,228.5h3.1v3.1h-3.1zM356.0,228.7h3.1v3.1h-3.1zM356.5,228.8h3.1v3.1h-3.1zM357.0,229.0h3.1v3.1h-3.1zM357.5,229.2h3.1v3.1h-3.1zM358.0,229.3h3.1v3.1h-3.1zM358.5,229.5h3.1v3.1h-3.1zM359.0,229.6h3.1v3.1h-3.1zM359.5,229.8h3.1v3.1h-3.1zM360.0,230.0h3.1v3.1h-3.1zM360.5,230.1h3.1v3.1h-3.1zM361.0,230.3h3.1v3.1h-3.1zM361.5,230.5h3.1v3.1h-3.1zM362.0,230.6h3.1v3.1h-3.1zM362.5,230.8h3.1v3.1h-3.1zM363.0,231.1h3.1v3.1h-3.1zM363.5,231.3h3.1v3.1h-3.1zM364.0,231.6h3.1v3.1h-3.1zM364.5,231.8h3.1v3.1h-3.1zM365.0,232.1h3.1v3.1h-3.1zM365.5,232.3h3.1v3.1h-3.1zM366.0,232.6h3.1v3.1h-3.1zM366.5,232.8h3.1v3.1h-3.1zM367.0,233.1h3.1v3.1h-3.1zM367.5,233.3h3.1v3.1h-3.1zM368.0,233.6h3.1v3.1h-3.1zM368.5,233.8h3.1v3.1h-3.1zM369.0,234.1h3.1v3.1h-3.1zM369.5,234.4h3.1v3.1h-3.1zM370.0,234.6h3.1v3.1h-3.1zM370.5,234.8h3.1v3.1h-3.1zM371.0,235.1h3.1v3.1h-3.1zM371.5,235.3h3.1v3.1h-3.1zM372.0,235.6h3.1v3.1h-3.1zM372.5,235.8h3.1v3.1h-3.1zM373.0,236.1h3.1v3.1h-3.1zM373.5,236.3h3.1v3.1h-3.1zM374.0,236.6h3.1v3.1h-3.1zM374.5,236.8h3.1v3.1h-3.1zM375.0,237.1h3.1v3.1h-3.1zM375.5,237.3h3.1v3.1h-3.1zM376.0,237.6h3.1v3.1h-3.1zM376.5,237.8h3.1v3.1h-3.1zM377.0,237.7h3.1v3.1h-3.1zM377.5,237.6h3.1v3.1h-3.1zM378.0,237.4h3.1v3.1h-3.1zM378.5,237.2h3.1v3.1h-3.1zM379.0,237.1h3.1v3.1h-3.1zM379.5,236.9h3.1v3.1h-3.1zM380.0,236.7h3.1v3.1h-3.1zM380.5,236.6h3.1v3.1h-3.1zM381.0,236.4h3.1v3.1h-3.1zM381.5,236.3h3.1v3.1h-3.1zM382.0,236.1h3.1v3.1h-3.1zM382.5,235.9h3.1v3.1h-3.1zM383.0,235.8h3.1v3.1h-3.1zM383.5,235.6h3.1v3.1h-3.1zM384.0,235.4h3.1v3.1h-3.1zM384.5,235.1h3.1v3.1h-3.1zM385.0,234.9h3.1v3.1h-3.1zM385.5,234.6h3.1v3.1h-3.1zM386.0,234.4h3.1v3.1h-3.1zM386.5,234.1h3.1v3.1h-3.1zM387.0,233.9h3.1v3.1h-3.1zM387.5,233.6h3.1v3.1h-3.1zM388.0,233.4h3.1v3.1h-3.1zM388.5,233.1h3.1v3.1h-3.1zM389.0,232.9h3.1v3.1h-3.1zM389.5,232.6h3.1v3.1h-3.1zM390.0,232.4h3.1v3.1h-3.1zM390.5,232.1h3.1v3.1h-3.1zM391.0,231.9h3.1v3.1h-3.1zM391.5,231.6h3.1v3.1h-3.1zM392.0,231.4h3.1v3.1h-3.1zM392.5,231.1h3.1v3.1h-3.1zM393.0,230.9h3.1v3.1h-3.1zM393.5,230.6h3.1v3.1h-3.1zM394.0,230.2h3.1v3.1h-3.1zM394.5,229.9h3.1v3.1h-3.1zM395.0,229.6h3.1v3.1h-3.1zM395.5,229.3h3.1v3.1h-3.1zM396.0,229.0h3.1v3.1h-3.1zM396.5,228.7h3.1v3.1h-3.1zM397.0,228.4h3.1v3.1h-3.1zM397.5,228.1h3.1v3.1h-3.1zM398.0,227.7h3.1v3.1h-3.1zM398.5,227.4h3.1v3.1h-3.1zM399.0,227.1h3.1v3.1h-3.1zM399.5,226.8h3.1v3.1h-3.1zM400.0,226.5h3.1v3.1h-3.1zM400.5,226.2h3.1v3.1h-3.1zM401.0,225.9h3.1v3.1h-3.1zM401.5,225.5h3.1v3.1h-3.1zM402.0,225.2h3.1v3.1h-3.1zM402.5,224.9h3.1v3.1h-3.1zM403.0,224.7h3.1v3.1h-3.1zM403.5,224.6h3.1v3.1h-3.1zM404.0,224.4h3.1v3.1h-3.1zM404.5,224.2h3.1v3.1h-3.1zM405.0,224.1h3.1v3.1h-3.1zM405.5,223.9h3.1v3.1h-3.1zM406.0,223.7h3.1v3.1h-3.1zM406.5,223.6h3.1v3.1h-3.1zM407.0,223.4h3.1v3.1h-3.1zM407.5,223.2h3.1v3.1h-3.1zM408.0,223.1h3.1v3.1h-3.1zM408.5,222.9h3.1v3.1h-3.1zM409.0,222.8h3.1v3.1h-3.1zM409.5,222.6h3.1v3.1h-3.1zM410.0,222.4h3.1v3.1h-3.1zM410.5,222.3h3.1v3.1h-3.1zM411.0,222.1h3.1v3.1h-3.1zM411.5,221.9h3.1v3.1h-3.1zM412.0,221.8h3.1v3.1h-3.1zM412.5,221.6h3.1v3.1h-3.1zM413.0,221.4h3.1v3.1h-3.1z" fill="none" stroke="#1010e8" stroke-width="0.75" opacity="1.0"/>
<path d="M220.2,307.4a1.9,1.9 0 1,0 3.8,0a1.9,1.9 0 1,0 -3.8,0M221.5,309.1a1.9,1.9 0 1,0 3.8,0a1.9,1.9 0 1,0 -3.8,0M222.7,311.2a1.9,1.9 0 1,0 3.8,0a1.9,1.9 0 1,0 -3.8,0M224.0,311.6a1.9,1.9 0 1,0 3.8,0a1.9,1.9 0 1,0 -3.8,0M225.3,311.0a1.9,1.9 0 1,0 3.8,0a1.9,1.9 0 1,0 -3.8,0M226.6,311.2a1.9,1.9 0 1,0 3.8,0a1.9,1.9 0 1,0 -3.8,0M227.9,310.1a1.9,1.9 0 1,0 3.8,0a1.9,1.9 0 1,0 -3.8,0M229.2,308.2a1.9,1.9 0 1,0 3.8,0a1.9,1.9 0 1,0 -3.8,0M230.5,308.3a1.9,1.9 0 1,0 3.8,0a1.9,1.9 0 1,0 -3.8,0M231.6,306.2a1.9,1.9 0 1,0 3.8,0a1.9,1.9 0 1,0 -3.8,0M232.3,303.9a1.9,1.9 0 1,0 3.8,0a1.9,1.9 0 1,0 -3.8,0M233.0,301.6a1.9,1.9 0 1,0 3.8,0a1.9,1.9 0 1,0 -3.8,0M233.9,299.2a1.9,1.9 0 1,0 3.8,0a1.9,1.9 0 1,0 -3.8,0M235.1,297.2a1.9,1.9 0 1,0 3.8,0a1.9,1.9 0 1,0 -3.8,0M235.9,295.0a1.9,1.9 0 1,0 3.8,0a1.9,1.9 0 1,0 -3.8,0M236.6,292.4a1.9,1.9 0 1,0 3.8,0a1.9,1.9 0 1,0 -3.8,0M237.2,290.0a1.9,1.9 0 1,0 3.8,0a1.9,1.9 0 1,0 -3.8,0M237.9,287.6a1.9,1.9 0 1,0 3.8,0a1.9,1.9 0 1,0 -3.8,0M238.9,285.3a1.9,1.9 0 1,0 3.8,0a1.9,1.9 0 1,0 -3.8,0M240.2,283.2a1.9,1.9 0 1,0 3.8,0a1.9,1.9 0 1,0 -3.8,0M241.0,281.0a1.9,1.9 0 1,0 3.8,0a1.9,1.9 0 1,0 -3.8,0M241.8,278.7a1.9,1.9 0 1,0 3.8,0a1.9,1.9 0 1,0 -3.8,0M243.0,276.7a1.9,1.9 0 1,0 3.8,0a1.9,1.9 0 1,0 -3.8,0M244.3,275.0a1.9,1.9 0 1,0 3.8,0a1.9,1.9 0 1,0 -3.8,0M245.2,272.7a1.9,1.9 0 1,0 3.8,0a1.9,1.9 0 1,0 -3.8,0M245.8,270.3a1.9,1.9 0 1,0 3.8,0a1.9,1.9 0 1,0 -3.8,0M246.5,268.0a1.9,1.9 0 1,0 3.8,0a1.9,1.9 0 1,0 -3.8,0M247.5,265.8a1.9,1.9 0 1,0 3.8,0a1.9,1.9 0 1,0 -3.8,0M248.4,263.5a1.9,1.9 0 1,0 3.8,0a1.9,1.9 0 1,0 -3.8,0M249.0,261.0a1.9,1.9 0 1,0 3.8,0a1.9,1.9 0 1,0 -3.8,0M249.5,258.6a1.9,1.9 0 1,0 3.8,0a1.9,1.9 0 1,0 -3.8,0M250.0,256.1a1.9,1.9 0 1,0 3.8,0a1.9,1.9 0 1,0 -3.8,0M250.5,253.7a1.9,1.9 0 1,0 3.8,0a1.9,1.9 0 1,0 -3.8,0M251.5,251.6a1.9,1.9 0 1,0 3.8,0a1.9,1.9 0 1,0 -3.8,0M252.8,249.5a1.9,1.9 0 1,0 3.8,0a1.9,1.9 0 1,0 -3.8,0M253.6,247.2a1.9,1.9 0 1,0 3.8,0a1.9,1.9 0 1,0 -3.8,0M254.3,244.9a1.9,1.9 0 1,0 3.8,0a1.9,1.9 0 1,0 -3.8,0M255.1,242.6a1.9,1.9 0 1,0 3.8,0a1.9,1.9 0 1,0 -3.8,0M256.3,240.9a1.9,1.9 0 1,0 3.8,0a1.9,1.9 0 1,0 -3.8,0M257.5,239.5a1.9,1.9 0 1,0 3.8,0a1.9,1.9 0 1,0 -3.8,0M258.4,237.4a1.9,1.9 0 1,0 3.8,0a1.9,1.9 0 1,0 -3.8,0M259.5,235.2a1.9,1.9 0 1,0 3.8,0a1.9,1.9 0 1,0 -3.8,0M260.7,234.4a1.9,1.9 0 1,0 3.8,0a1.9,1.9 0 1,0 -3.8,0M261.9,232.9a1.9,1.9 0 1,0 3.8,0a1.9,1.9 0 1,0 -3.8,0M262.8,230.7a1.9,1.9 0 1,0 3.8,0a1.9,1.9 0 1,0 -3.8,0M264.0,228.6a1.9,1.9 0 1,0 3.8,0a1.9,1.9 0 1,0 -3.8,0M265.2,228.1a1.9,1.9 0 1,0 3.8,0a1.9,1.9 0 1,0 -3.8,0M266.4,226.8a1.9,1.9 0 1,0 3.8,0a1.9,1.9 0 1,0 -3.8,0M267.5,224.7a1.9,1.9 0 1,0 3.8,0a1.9,1.9 0 1,0 -3.8,0M268.7,223.8a1.9,1.9 0 1,0 3.8,0a1.9,1.9 0 1,0 -3.8,0M269.9,223.6a1.9,1.9 0 1,0 3.8,0a1.9,1.9 0 1,0 -3.8,0M271.1,221.8a1.9,1.9 0 1,0 3.8,0a1.9,1.9 0 1,0 -3.8,0M272.3,219.8a1.9,1.9 0 1,0 3.8,0a1.9,1.9 0 1,0 -3.8,0M273.5,219.5a1.9,1.9 0 1,0 3.8,0a1.9,1.9 0 1,0 -3.8,0M274.7,218.7a1.9,1.9 0 1,0 3.8,0a1.9,1.9 0 1,0 -3.8,0M275.8,216.6a1.9,1.9 0 1,0 3.8,0a1.9,1.9 0 1,0 -3.8,0M277.0,215.2a1.9,1.9 0 1,0 3.8,0a1.9,1.9 0 1,0 -3.8,0M278.2,215.3a1.9,1.9 0 1,0 3.8,0a1.9,1.9 0 1,0 -3.8,0M279.4,214.3a1.9,1.9 0 1,0 3.8,0a1.9,1.9 0 1,0 -3.8,0M280.6,212.4a1.9,1.9 0 1,0 3.8,0a1.9,1.9 0 1,0 -3.8,0M281.8,212.3a1.9,1.9 0 1,0 3.8,0a1.9,1.9 0 1,0 -3.8,0M283.0,213.6a1.9,1.9 0 1,0 3.8,0a1.9,1.9 0 1,0 -3.8,0M284.2,213.2a1.9,1.9 0 1,0 3.8,0a1.9,1.9 0 1,0 -3.8,0M285.4,213.2a1.9,1.9 0 1,0 3.8,0a1.9,1.9 0 1,0 -3.8,0M286.6,214.7a1.9,1.9 0 1,0 3.8,0a1.9,1.9 0 1,0 -3.8,0M287.8,215.1a1.9,1.9 0 1,0 3.8,0a1.9,1.9 0 1,0 -3.8,0M289.0,214.2a1.9,1.9 0 1,0 3.8,0a1.9,1.9 0 1,0 -3.8,0M290.2,214.7a1.9,1.9 0 1,0 3.8,0a1.9,1.9 0 1,0 -3.8,0M291.4,215.9a1.9,1.9 0 1,0 3.8,0a1.9,1.9 0 1,0 -3.8,0M292.6,215.5a1.9,1.9 0 1,0 3.8,0a1.9,1.9 0 1,0 -3.8,0M293.8,214.9a1.9,1.9 0 1,0 3.8,0a1.9,1.9 0 1,0 -3.8,0M295.0,216.4a1.9,1.9 0 1,0 3.8,0a1.9,1.9 0 1,0 -3.8,0M296.2,217.4a1.9,1.9 0 1,0 3.8,0a1.9,1.9 0 1,0 -3.8,0M297.4,217.0a1.9,1.9 0 1,0 3.8,0a1.9,1.9 0 1,0 -3.8,0M298.6,217.5a1.9,1.9 0 1,0 3.8,0a1.9,1.9 0 1,0 -3.8,0M299.7,219.6a1.9,1.9 0 1,0 3.8,0a1.9,1.9 0 1,0 -3.8,0M300.9,220.6a1.9,1.9 0 1,0 3.8,0a1.9,1.9 0 1,0 -3.8,0M302.1,220.7a1.9,1.9 0 1,0 3.8,0a1.9,1.9 0 1,0 -3.8,0M303.3,222.4a1.9,1.9 0 1,0 3.8,0a1.9,1.9 0 1,0 -3.8,0M304.2,224.6a1.9,1.9 0 1,0 3.8,0a1.9,1.9 0 1,0 -3.8,0M305.4,226.4a1.9,1.9 0 1,0 3.8,0a1.9,1.9 0 1,0 -3.8,0M306.6,227.8a1.9,1.9 0 1,0 3.8,0a1.9,1.9 0 1,0 -3.8,0M307.5,230.0a1.9,1.9 0 1,0 3.8,0a1.9,1.9 0 1,0 -3.8,0M308.3,232.2a1.9,1.9 0 1,0 3.8,0a1.9,1.9 0 1,0 -3.8,0M309.5,234.3a1.9,1.9 0 1,0 3.8,0a1.9,1.9 0 1,0 -3.8,0M310.7,235.6a1.9,1.9 0 1,0 3.8,0a1.9,1.9 0 1,0 -3.8,0M311.7,237.9a1.9,1.9 0 1,0 3.8,0a1.9,1.9 0 1,0 -3.8,0M312.5,240.3a1.9,1.9 0 1,0 3.8,0a1.9,1.9 0 1,0 -3.8,0M313.5,242.4a1.9,1.9 0 1,0 3.8,0a1.9,1.9 0 1,0 -3.8,0M314.7,243.7a1.9,1.9 0 1,0 3.8,0a1.9,1.9 0 1,0 -3.8,0M315.8,245.9a1.9,1.9 0 1,0 3.8,0a1.9,1.9 0 1,0 -3.8,0M316.6,248.3a1.9,1.9 0 1,0 3.8,0a1.9,1.9 0 1,0 -3.8,0M317.5,250.5a1.9,1.9 0 1,0 3.8,0a1.9,1.9 0 1,0 -3.8,0M318.7,251.7a1.9,1.9 0 1,0 3.8,0a1.9,1.9 0 1,0 -3.8,0M319.9,253.3a1.9,1.9 0 1,0 3.8,0a1.9,1.9 0 1,0 -3.8,0M320.8,255.5a1.9,1.9 0 1,0 3.8,0a1.9,1.9 0 1,0 -3.8,0M321.8,257.6a1.9,1.9 0 1,0 3.8,0a1.9,1.9 0 1,0 -3.8,0M323.0,258.6a1.9,1.9 0 1,0 3.8,0a1.9,1.9 0 1,0 -3.8,0M324.2,260.4a1.9,1.9 0 1,0 3.8,0a1.9,1.9 0 1,0 -3.8,0M325.0,262.6a1.9,1.9 0 1,0 3.8,0a1.9,1.9 0 1,0 -3.8,0M325.9,265.0a1.9,1.9 0 1,0 3.8,0a1.9,1.9 0 1,0 -3.8,0M327.1,266.6a1.9,1.9 0 1,0 3.8,0a1.9,1.9 0 1,0 -3.8,0M328.3,268.3a1.9,1.9 0 1,0 3.8,0a1.9,1.9 0 1,0 -3.8,0M329.3,270.6a1.9,1.9 0 1,0 3.8,0a1.9,1.9 0 1,0 -3.8,0M330.4,272.8a1.9,1.9 0 1,0 3.8,0a1.9,1.9 0 1,0 -3.8,0M331.6,273.6a1.9,1.9 0 1,0 3.8,0a1.9,1.9 0 1,0 -3.8,0M332.8,275.0a1.9,1.9 0 1,0 3.8,0a1.9,1.9 0 1,0 -3.8,0M333.8,277.3a1.9,1.9 0 1,0 3.8,0a1.9,1.9 0 1,0 -3.8,0M335.0,279.4a1.9,1.9 0 1,0 3.8,0a1.9,1.9 0 1,0 -3.8,0M336.2,280.2a1.9,1.9 0 1,0 3.8,0a1.9,1.9 0 1,0 -3.8,0M337.4,282.2a1.9,1.9 0 1,0 3.8,0a1.9,1.9 0 1,0 -3.8,0M338.3,284.5a1.9,1.9 0 1,0 3.8,0a1.9,1.9 0 1,0 -3.8,0M339.4,286.7a1.9,1.9 0 1,0 3.8,0a1.9,1.9 0 1,0 -3.8,0M340.6,288.4a1.9,1.9 0 1,0 3.8,0a1.9,1.9 0 1,0 -3.8,0M341.5,290.5a1.9,1.9 0 1,0 3.8,0a1.9,1.9 0 1,0 -3.8,0M342.7,291.4a1.9,1.9 0 1,0 3.8,0a1.9,1.9 0 1,0 -3.8,0M343.9,290.7a1.9,1.9 0 1,0 3.8,0a1.9,1.9 0 1,0 -3.8,0M345.1,289.2a1.9,1.9 0 1,0 3.8,0a1.9,1.9 0 1,0 -3.8,0M346.3,289.3a1.9,1.9 0 1,0 3.8,0a1.9,1.9 0 1,0 -3.8,0M347.5,289.4a1.9,1.9 0 1,0 3.8,0a1.9,1.9 0 1,0 -3.8,0M348.7,287.3a1.9,1.9 0 1,0 3.8,0a1.9,1.9 0 1,0 -3.8,0M349.9,285.7a1.9,1.9 0 1,0 3.8,0a1.9,1.9 0 1,0 -3.8,0M351.1,285.5a1.9,1.9 0 1,0 3.8,0a1.9,1.9 0 1,0 -3.8,0M352.3,284.4a1.9,1.9 0 1,0 3.8,0a1.9,1.9 0 1,0 -3.8,0M353.5,282.7a1.9,1.9 0 1,0 3.8,0a1.9,1.9 0 1,0 -3.8,0M354.7,282.7a1.9,1.9 0 1,0 3.8,0a1.9,1.9 0 1,0 -3.8,0M355.9,283.5a1.9,1.9 0 1,0 3.8,0a1.9,1.9 0 1,0 -3.8,0M357.1,282.6a1.9,1.9 0 1,0 3.8,0a1.9,1.9 0 1,0 -3.8,0M358.3,281.6a1.9,1.9 0 1,0 3.8,0a1.9,1.9 0 1,0 -3.8,0M359.5,282.0a1.9,1.9 0 1,0 3.8,0a1.9,1.9 0 1,0 -3.8,0M360.7,281.8a1.9,1.9 0 1,0 3.8,0a1.9,1.9 0 1,0 -3.8,0M361.9,280.1a1.9,1.9 0 1,0 3.8,0a1.9,1.9 0 1,0 -3.8,0M363.1,279.4a1.9,1.9 0 1,0 3.8,0a1.9,1.9 0 1,0 -3.8,0M364.3,279.6a1.9,1.9 0 1,0 3.8,0a1.9,1.9 0 1,0 -3.8,0M365.5,278.3a1.9,1.9 0 1,0 3.8,0a1.9,1.9 0 1,0 -3.8,0M366.7,276.5a1.9,1.9 0 1,0 3.8,0a1.9,1.9 0 1,0 -3.8,0M367.9,275.7a1.9,1.9 0 1,0 3.8,0a1.9,1.9 0 1,0 -3.8,0M369.1,274.4a1.9,1.9 0 1,0 3.8,0a1.9,1.9 0 1,0 -3.8,0M370.0,272.3a1.9,1.9 0 1,0 3.8,0a1.9,1.9 0 1,0 -3.8,0M370.8,269.9a1.9,1.9 0 1,0 3.8,0a1.9,1.9 0 1,0 -3.8,0M371.5,267.6a1.9,1.9 0 1,0 3.8,0a1.9,1.9 0 1,0 -3.8,0M372.4,265.5a1.9,1.9 0 1,0 3.8,0a1.9,1.9 0 1,0 -3.8,0M373.3,263.0a1.9,1.9 0 1,0 3.8,0a1.9,1.9 0 1,0 -3.8,0M373.9,260.8a1.9,1.9 0 1,0 3.8,0a1.9,1.9 0 1,0 -3.8,0M374.4,258.4a1.9,1.9 0 1,0 3.8,0a1.9,1.9 0 1,0 -3.8,0M374.9,255.9a1.9,1.9 0 1,0 3.8,0a1.9,1.9 0 1,0 -3.8,0M375.5,253.4a1.9,1.9 0 1,0 3.8,0a1.9,1.9 0 1,0 -3.8,0M376.2,251.0a1.9,1.9 0 1,0 3.8,0a1.9,1.9 0 1,0 -3.8,0M377.0,248.6a1.9,1.9 0 1,0 3.8,0a1.9,1.9 0 1,0 -3.8,0M377.7,246.1a1.9,1.9 0 1,0 3.8,0a1.9,1.9 0 1,0 -3.8,0M378.3,243.4a1.9,1.9 0 1,0 3.8,0a1.9,1.9 0 1,0 -3.8,0M378.8,240.9a1.9,1.9 0 1,0 3.8,0a1.9,1.9 0 1,0 -3.8,0M379.3,238.5a1.9,1.9 0 1,0 3.8,0a1.9,1.9 0 1,0 -3.8,0M379.9,236.2a1.9,1.9 0 1,0 3.8,0a1.9,1.9 0 1,0 -3.8,0M381.0,234.0a1.9,1.9 0 1,0 3.8,0a1.9,1.9 0 1,0 -3.8,0M382.0,231.8a1.9,1.9 0 1,0 3.8,0a1.9,1.9 0 1,0 -3.8,0M382.7,229.5a1.9,1.9 0 1,0 3.8,0a1.9,1.9 0 1,0 -3.8,0M383.3,227.3a1.9,1.9 0 1,0 3.8,0a1.9,1.9 0 1,0 -3.8,0M384.5,225.9a1.9,1.9 0 1,0 3.8,0a1.9,1.9 0 1,0 -3.8,0M385.7,225.7a1.9,1.9 0 1,0 3.8,0a1.9,1.9 0 1,0 -3.8,0M386.9,224.3a1.9,1.9 0 1,0 3.8,0a1.9,1.9 0 1,0 -3.8,0M388.0,222.3a1.9,1.9 0 1,0 3.8,0a1.9,1.9 0 1,0 -3.8,0M389.2,222.4a1.9,1.9 0 1,0 3.8,0a1.9,1.9 0 1,0 -3.8,0M390.4,223.0a1.9,1.9 0 1,0 3.8,0a1.9,1.9 0 1,0 -3.8,0M391.6,221.9a1.9,1.9 0 1,0 3.8,0a1.9,1.9 0 1,0 -3.8,0M392.8,221.0a1.9,1.9 0 1,0 3.8,0a1.9,1.9 0 1,0 -3.8,0M394.0,221.7a1.9,1.9 0 1,0 3.8,0a1.9,1.9 0 1,0 -3.8,0M395.2,221.7a1.9,1.9 0 1,0 3.8,0a1.9,1.9 0 1,0 -3.8,0M396.4,220.3a1.9,1.9 0 1,0 3.8,0a1.9,1.9 0 1,0 -3.8,0M397.6,220.1a1.9,1.9 0 1,0 3.8,0a1.9,1.9 0 1,0 -3.8,0M398.8,221.1a1.9,1.9 0 1,0 3.8,0a1.9,1.9 0 1,0 -3.8,0M400.0,220.7a1.9,1.9 0 1,0 3.8,0a1.9,1.9 0 1,0 -3.8,0M401.2,219.8a1.9,1.9 0 1,0 3.8,0a1.9,1.9 0 1,0 -3.8,0M402.4,220.6a1.9,1.9 0 1,0 3.8,0a1.9,1.9 0 1,0 -3.8,0M403.6,221.2a1.9,1.9 0 1,0 3.8,0a1.9,1.9 0 1,0 -3.8,0M404.8,220.2a1.9,1.9 0 1,0 3.8,0a1.9,1.9 0 1,0 -3.8,0M406.0,220.0a1.9,1.9 0 1,0 3.8,0a1.9,1.9 0 1,0 -3.8,0M407.2,221.2a1.9,1.9 0 1,0 3.8,0a1.9,1.9 0 1,0 -3.8,0M408.4,221.7a1.9,1.9 0 1,0 3.8,0a1.9,1.9 0 1,0 -3.8,0M409.6,221.4a1.9,1.9 0 1,0 3.8,0a1.9,1.9 0 1,0 -3.8,0M410.8,222.7a1.9,1.9 0 1,0 3.8,0a1.9,1.9 0 1,0 -3.8,0M412.0,224.2a1.9,1.9 0 1,0 3.8,0a1.9,1.9 0 1,0 -3.8,0" fill="none" stroke="#ee3030" stroke-width="0.7" opacity="1.0"/>
<path d="M220.4,315.3h3.3v3.3h-3.3zM221.4,314.9h3.3v3.3h-3.3zM222.4,314.9h3.3v3.3h-3.3zM223.4,315.9h3.3v3.3h-3.3zM224.4,317.2h3.3v3.3h-3.3zM225.4,318.0h3.3v3.3h-3.3zM226.4,317.8h3.3v3.3h-3.3zM227.4,316.7h3.3v3.3h-3.3zM228.4,315.9h3.3v3.3h-3.3zM229.4,315.9h3.3v3.3h-3.3zM230.4,315.8h3.3v3.3h-3.3zM231.4,314.1h3.3v3.3h-3.3zM234.6,307.0h3.3v3.3h-3.3zM235.6,305.2h3.3v3.3h-3.3zM240.8,290.2h3.3v3.3h-3.3zM241.6,288.5h3.3v3.3h-3.3zM245.7,277.3h3.3v3.3h-3.3zM246.7,275.6h3.3v3.3h-3.3zM250.3,266.6h3.3v3.3h-3.3zM251.3,265.4h3.3v3.3h-3.3zM252.3,264.1h3.3v3.3h-3.3zM253.1,262.5h3.3v3.3h-3.3zM256.0,255.1h3.3v3.3h-3.3zM256.9,254.0h3.3v3.3h-3.3zM257.8,252.7h3.3v3.3h-3.3zM262.4,240.2h3.3v3.3h-3.3zM263.4,238.4h3.3v3.3h-3.3zM266.9,229.6h3.3v3.3h-3.3zM267.8,228.9h3.3v3.3h-3.3zM268.7,228.3h3.3v3.3h-3.3zM269.6,227.0h3.3v3.3h-3.3zM270.4,225.3h3.3v3.3h-3.3zM272.0,222.0h3.3v3.3h-3.3zM272.9,222.2h3.3v3.3h-3.3zM273.8,222.7h3.3v3.3h-3.3zM274.7,222.9h3.3v3.3h-3.3zM275.6,222.4h3.3v3.3h-3.3zM276.5,221.5h3.3v3.3h-3.3zM277.4,221.2h3.3v3.3h-3.3zM278.3,221.7h3.3v3.3h-3.3zM279.2,222.7h3.3v3.3h-3.3zM280.1,223.5h3.3v3.3h-3.3zM281.0,223.7h3.3v3.3h-3.3zM281.9,224.2h3.3v3.3h-3.3zM282.8,224.9h3.3v3.3h-3.3zM283.7,226.4h3.3v3.3h-3.3zM285.3,229.9h3.3v3.3h-3.3zM286.2,230.7h3.3v3.3h-3.3zM287.1,230.8h3.3v3.3h-3.3zM288.0,230.9h3.3v3.3h-3.3zM288.9,231.6h3.3v3.3h-3.3zM289.8,233.0h3.3v3.3h-3.3zM290.7,234.5h3.3v3.3h-3.3zM291.6,235.3h3.3v3.3h-3.3zM292.5,235.5h3.3v3.3h-3.3zM293.4,235.5h3.3v3.3h-3.3zM294.3,236.1h3.3v3.3h-3.3zM295.2,237.4h3.3v3.3h-3.3zM296.1,238.9h3.3v3.3h-3.3zM297.0,239.8h3.3v3.3h-3.3zM297.9,240.3h3.3v3.3h-3.3zM298.8,240.8h3.3v3.3h-3.3zM299.7,241.8h3.3v3.3h-3.3zM300.6,243.6h3.3v3.3h-3.3zM302.3,247.1h3.3v3.3h-3.3zM303.2,248.0h3.3v3.3h-3.3zM304.1,248.8h3.3v3.3h-3.3zM305.0,250.1h3.3v3.3h-3.3zM308.0,257.3h3.3v3.3h-3.3zM308.9,258.7h3.3v3.3h-3.3zM309.8,259.8h3.3v3.3h-3.3zM310.7,261.4h3.3v3.3h-3.3zM314.2,270.1h3.3v3.3h-3.3zM320.5,290.8h3.3v3.3h-3.3zM326.0,307.4h3.3v3.3h-3.3zM330.5,320.1h3.3v3.3h-3.3zM331.4,321.6h3.3v3.3h-3.3zM332.3,321.9h3.3v3.3h-3.3zM333.2,321.2h3.3v3.3h-3.3zM334.1,321.0h3.3v3.3h-3.3zM355.3,205.9h3.3v3.3h-3.3zM356.2,205.8h3.3v3.3h-3.3zM357.1,206.4h3.3v3.3h-3.3zM358.0,207.1h3.3v3.3h-3.3zM358.9,207.5h3.3v3.3h-3.3zM359.8,208.2h3.3v3.3h-3.3zM360.7,209.5h3.3v3.3h-3.3zM363.2,214.6h3.3v3.3h-3.3zM364.1,215.3h3.3v3.3h-3.3zM365.0,215.9h3.3v3.3h-3.3zM365.9,216.9h3.3v3.3h-3.3zM366.8,218.6h3.3v3.3h-3.3zM367.6,220.2h3.3v3.3h-3.3zM368.5,221.5h3.3v3.3h-3.3zM369.4,222.1h3.3v3.3h-3.3zM370.3,221.8h3.3v3.3h-3.3zM371.2,222.1h3.3v3.3h-3.3zM372.1,223.1h3.3v3.3h-3.3zM373.0,224.4h3.3v3.3h-3.3zM373.9,225.2h3.3v3.3h-3.3zM374.8,225.3h3.3v3.3h-3.3zM375.7,225.0h3.3v3.3h-3.3zM376.6,225.2h3.3v3.3h-3.3zM377.5,225.8h3.3v3.3h-3.3zM378.4,226.7h3.3v3.3h-3.3zM379.3,227.2h3.3v3.3h-3.3zM380.2,227.0h3.3v3.3h-3.3zM381.1,226.3h3.3v3.3h-3.3zM382.0,226.1h3.3v3.3h-3.3zM382.9,226.6h3.3v3.3h-3.3zM383.8,227.5h3.3v3.3h-3.3zM384.7,227.8h3.3v3.3h-3.3zM385.6,227.4h3.3v3.3h-3.3zM386.5,226.5h3.3v3.3h-3.3zM387.4,225.9h3.3v3.3h-3.3zM388.3,226.0h3.3v3.3h-3.3zM389.2,226.7h3.3v3.3h-3.3zM390.1,227.1h3.3v3.3h-3.3zM391.0,226.8h3.3v3.3h-3.3zM391.9,225.9h3.3v3.3h-3.3zM392.8,225.2h3.3v3.3h-3.3zM393.7,225.4h3.3v3.3h-3.3zM394.6,226.1h3.3v3.3h-3.3zM395.5,226.7h3.3v3.3h-3.3zM396.4,226.6h3.3v3.3h-3.3zM397.3,225.8h3.3v3.3h-3.3zM398.2,225.2h3.3v3.3h-3.3zM399.1,225.3h3.3v3.3h-3.3zM400.0,226.0h3.3v3.3h-3.3zM400.9,226.7h3.3v3.3h-3.3zM401.8,226.6h3.3v3.3h-3.3zM402.7,225.9h3.3v3.3h-3.3zM403.6,225.4h3.3v3.3h-3.3zM404.5,225.5h3.3v3.3h-3.3zM405.4,226.3h3.3v3.3h-3.3zM406.3,227.1h3.3v3.3h-3.3zM407.2,227.2h3.3v3.3h-3.3zM408.1,226.6h3.3v3.3h-3.3zM409.0,226.0h3.3v3.3h-3.3zM409.9,226.1h3.3v3.3h-3.3zM410.8,226.8h3.3v3.3h-3.3zM411.7,227.6h3.3v3.3h-3.3zM412.6,227.8h3.3v3.3h-3.3z" fill="none" stroke="#484848" stroke-width="0.65" opacity="1.0"/>
<path d="M232.1,312.1h3.3v3.3h-3.3zM232.8,310.1h3.3v3.3h-3.3zM233.6,308.4h3.3v3.3h-3.3zM236.3,303.3h3.3v3.3h-3.3zM236.9,301.2h3.3v3.3h-3.3zM237.4,299.3h3.3v3.3h-3.3zM237.9,297.4h3.3v3.3h-3.3zM238.4,295.6h3.3v3.3h-3.3zM239.0,293.6h3.3v3.3h-3.3zM239.8,291.9h3.3v3.3h-3.3zM242.3,286.5h3.3v3.3h-3.3zM242.9,284.5h3.3v3.3h-3.3zM243.5,282.5h3.3v3.3h-3.3zM244.1,280.6h3.3v3.3h-3.3zM244.8,278.9h3.3v3.3h-3.3zM247.5,273.7h3.3v3.3h-3.3zM248.2,271.9h3.3v3.3h-3.3zM248.8,270.1h3.3v3.3h-3.3zM249.5,268.2h3.3v3.3h-3.3zM253.8,260.6h3.3v3.3h-3.3zM254.4,258.8h3.3v3.3h-3.3zM255.1,256.9h3.3v3.3h-3.3zM258.6,250.9h3.3v3.3h-3.3zM259.2,248.9h3.3v3.3h-3.3zM259.7,247.1h3.3v3.3h-3.3zM260.2,245.4h3.3v3.3h-3.3zM260.8,243.5h3.3v3.3h-3.3zM261.5,241.8h3.3v3.3h-3.3zM264.1,236.5h3.3v3.3h-3.3zM264.7,234.6h3.3v3.3h-3.3zM265.2,232.8h3.3v3.3h-3.3zM266.0,231.0h3.3v3.3h-3.3zM271.1,223.7h3.3v3.3h-3.3zM284.5,228.2h3.3v3.3h-3.3zM301.4,245.4h3.3v3.3h-3.3zM305.8,251.9h3.3v3.3h-3.3zM306.5,253.8h3.3v3.3h-3.3zM307.2,255.7h3.3v3.3h-3.3zM311.4,263.3h3.3v3.3h-3.3zM312.0,265.0h3.3v3.3h-3.3zM312.6,266.8h3.3v3.3h-3.3zM313.3,268.5h3.3v3.3h-3.3zM314.9,272.0h3.3v3.3h-3.3zM315.5,273.7h3.3v3.3h-3.3zM316.1,275.7h3.3v3.3h-3.3zM316.6,277.7h3.3v3.3h-3.3zM317.1,279.9h3.3v3.3h-3.3zM317.5,281.7h3.3v3.3h-3.3zM317.9,283.4h3.3v3.3h-3.3zM318.4,285.5h3.3v3.3h-3.3zM319.0,287.4h3.3v3.3h-3.3zM319.7,289.1h3.3v3.3h-3.3zM321.3,292.7h3.3v3.3h-3.3zM321.9,294.5h3.3v3.3h-3.3zM322.4,296.3h3.3v3.3h-3.3zM322.9,298.3h3.3v3.3h-3.3zM323.4,300.2h3.3v3.3h-3.3zM323.9,302.0h3.3v3.3h-3.3zM324.5,303.9h3.3v3.3h-3.3zM325.2,305.6h3.3v3.3h-3.3zM326.7,309.1h3.3v3.3h-3.3zM327.3,310.9h3.3v3.3h-3.3zM327.9,312.8h3.3v3.3h-3.3zM328.5,314.8h3.3v3.3h-3.3zM329.1,316.7h3.3v3.3h-3.3zM329.7,318.4h3.3v3.3h-3.3zM334.9,319.2h3.3v3.3h-3.3zM335.5,317.5h3.3v3.3h-3.3zM336.1,315.4h3.3v3.3h-3.3zM336.6,313.5h3.3v3.3h-3.3zM337.1,311.5h3.3v3.3h-3.3zM337.6,309.7h3.3v3.3h-3.3zM338.2,307.9h3.3v3.3h-3.3zM338.8,306.0h3.3v3.3h-3.3zM339.3,304.0h3.3v3.3h-3.3zM339.8,302.1h3.3v3.3h-3.3zM340.3,300.1h3.3v3.3h-3.3zM340.7,298.3h3.3v3.3h-3.3zM341.1,296.4h3.3v3.3h-3.3zM341.5,294.3h3.3v3.3h-3.3zM341.9,292.1h3.3v3.3h-3.3zM342.2,290.0h3.3v3.3h-3.3zM342.5,288.0h3.3v3.3h-3.3zM342.8,286.0h3.3v3.3h-3.3zM343.1,284.0h3.3v3.3h-3.3zM343.4,282.2h3.3v3.3h-3.3zM343.8,279.9h3.3v3.3h-3.3zM344.2,277.7h3.3v3.3h-3.3zM344.6,275.6h3.3v3.3h-3.3zM345.0,273.6h3.3v3.3h-3.3zM345.4,271.6h3.3v3.3h-3.3zM345.8,269.4h3.3v3.3h-3.3zM346.2,267.1h3.3v3.3h-3.3zM346.5,265.2h3.3v3.3h-3.3zM346.8,263.3h3.3v3.3h-3.3zM347.1,261.3h3.3v3.3h-3.3zM347.4,259.2h3.3v3.3h-3.3zM347.6,257.1h3.3v3.3h-3.3zM347.8,254.2h3.3v3.3h-3.3zM348.0,251.4h3.3v3.3h-3.3zM348.2,248.5h3.3v3.3h-3.3zM348.4,245.7h3.3v3.3h-3.3zM348.6,243.0h3.3v3.3h-3.3zM348.8,240.2h3.3v3.3h-3.3zM349.0,237.6h3.3v3.3h-3.3zM349.2,234.9h3.3v3.3h-3.3zM349.4,232.9h3.3v3.3h-3.3zM349.7,230.9h3.3v3.3h-3.3zM350.0,229.0h3.3v3.3h-3.3zM350.3,227.1h3.3v3.3h-3.3zM350.6,225.2h3.3v3.3h-3.3zM350.9,223.4h3.3v3.3h-3.3zM351.2,221.4h3.3v3.3h-3.3zM351.6,219.2h3.3v3.3h-3.3zM352.0,217.4h3.3v3.3h-3.3zM352.4,215.5h3.3v3.3h-3.3zM352.8,213.4h3.3v3.3h-3.3zM353.2,211.2h3.3v3.3h-3.3zM353.7,209.2h3.3v3.3h-3.3zM354.4,207.5h3.3v3.3h-3.3zM361.5,211.4h3.3v3.3h-3.3zM362.3,213.2h3.3v3.3h-3.3z" fill="none" stroke="#484848" stroke-width="0.65" opacity="0.6"/>
</g>
<rect x="221.5" y="188.4" width="194.0" height="143.29999999999998" fill="none" stroke="#222" stroke-width="1"/>
<path d="M221.5,331.7 v-2.6 M237.7,331.7 v-1.6 M253.8,331.7 v-2.6 M270.0,331.7 v-1.6 M286.2,331.7 v-2.6 M302.3,331.7 v-1.6 M318.5,331.7 v-2.6 M334.7,331.7 v-1.6 M350.8,331.7 v-2.6 M367.0,331.7 v-1.6 M383.2,331.7 v-2.6 M399.3,331.7 v-1.6 M415.5,331.7 v-2.6 M221.5,331.7 h2.6 M221.5,318.6 h1.6 M221.5,305.6 h2.6 M221.5,292.5 h1.6 M221.5,279.5 h2.6 M221.5,266.4 h1.6 M221.5,253.4 h2.6 M221.5,240.3 h1.6 M221.5,227.3 h2.6 M221.5,214.2 h1.6 M221.5,201.2 h2.6" stroke="#222" stroke-width="0.8" fill="none"/>
<text x="217.8" y="334.4" font-size="8.9" text-anchor="end" fill="#111" font-weight="bold" stroke="#111" stroke-width="0.12" textLength="12.1" lengthAdjust="spacingAndGlyphs" >0.0</text>
<text x="217.8" y="308.29999999999995" font-size="8.9" text-anchor="end" fill="#111" font-weight="bold" stroke="#111" stroke-width="0.12" textLength="12.1" lengthAdjust="spacingAndGlyphs" >0.2</text>
<text x="217.8" y="282.2" font-size="8.9" text-anchor="end" fill="#111" font-weight="bold" stroke="#111" stroke-width="0.12" textLength="12.1" lengthAdjust="spacingAndGlyphs" >0.4</text>
<text x="217.8" y="256.09999999999997" font-size="8.9" text-anchor="end" fill="#111" font-weight="bold" stroke="#111" stroke-width="0.12" textLength="12.1" lengthAdjust="spacingAndGlyphs" >0.6</text>
<text x="217.8" y="229.99999999999997" font-size="8.9" text-anchor="end" fill="#111" font-weight="bold" stroke="#111" stroke-width="0.12" textLength="12.1" lengthAdjust="spacingAndGlyphs" >0.8</text>
<text x="217.8" y="203.89999999999998" font-size="8.9" text-anchor="end" fill="#111" font-weight="bold" stroke="#111" stroke-width="0.12" textLength="12.1" lengthAdjust="spacingAndGlyphs" >1.0</text>
<text x="221.5" y="342" font-size="8.6" text-anchor="middle" fill="#111" font-weight="bold" stroke="#111" stroke-width="0.12" >6</text>
<text x="253.83333333333334" y="342" font-size="8.6" text-anchor="middle" fill="#111" font-weight="bold" stroke="#111" stroke-width="0.12" >8</text>
<text x="286.1666666666667" y="342" font-size="8.6" text-anchor="middle" fill="#111" font-weight="bold" stroke="#111" stroke-width="0.12" >10</text>
<text x="318.5" y="342" font-size="8.6" text-anchor="middle" fill="#111" font-weight="bold" stroke="#111" stroke-width="0.12" >12</text>
<text x="350.83333333333337" y="342" font-size="8.6" text-anchor="middle" fill="#111" font-weight="bold" stroke="#111" stroke-width="0.12" >14</text>
<text x="383.16666666666663" y="342" font-size="8.6" text-anchor="middle" fill="#111" font-weight="bold" stroke="#111" stroke-width="0.12" >16</text>
<text x="415.5" y="342" font-size="8.6" text-anchor="middle" fill="#111" font-weight="bold" stroke="#111" stroke-width="0.12" >18</text>
<text x="318" y="355.3" font-size="10.3" text-anchor="middle" fill="#111" font-weight="bold" stroke="#111" stroke-width="0.22" textLength="90.7" lengthAdjust="spacingAndGlyphs" >Frequency (GHz)</text>
<text transform="translate(199,267.6) rotate(-90)" font-size="9.8" text-anchor="middle" font-weight="bold" fill="#111" stroke="#111" stroke-width="0.22" textLength="62.6" lengthAdjust="spacingAndGlyphs">Absorption</text>
<text x="413.1" y="198.7" font-size="9.4" text-anchor="end" fill="#111" font-weight="bold" stroke="#111" stroke-width="0.22" textLength="54.4" lengthAdjust="spacingAndGlyphs" >H = 2.0 mm</text>
<line x1="252.5" y1="291.3" x2="269.8" y2="291.3" stroke="#80c8c8" stroke-width="0.8"/>
<polygon points="259.6,290.0 262.8,290.0 261.2,292.9" fill="#fff" stroke="#80c8c8" stroke-width="0.7"/>
<text x="273" y="293.7" font-size="7" text-anchor="start" fill="#111" font-weight="bold" stroke="#111" stroke-width="0.12" textLength="37.2" lengthAdjust="spacingAndGlyphs" >D = 8 mm</text>
<line x1="252.5" y1="301.9" x2="269.8" y2="301.9" stroke="#8080e8" stroke-width="0.8"/>
<rect x="259.6" y="300.3" width="3.2" height="3.2" fill="#fff" stroke="#8080e8" stroke-width="0.7"/>
<text x="273" y="304.3" font-size="7" text-anchor="start" fill="#111" font-weight="bold" stroke="#111" stroke-width="0.12" textLength="41.9" lengthAdjust="spacingAndGlyphs" >D = 10 mm</text>
<line x1="252.5" y1="312.5" x2="269.8" y2="312.5" stroke="#f0a0a0" stroke-width="0.8"/>
<circle cx="261.2" cy="312.5" r="1.6" fill="#fff" stroke="#f0a0a0" stroke-width="0.7"/>
<text x="273" y="314.9" font-size="7" text-anchor="start" fill="#111" font-weight="bold" stroke="#111" stroke-width="0.12" textLength="41.9" lengthAdjust="spacingAndGlyphs" >D = 12 mm</text>
<line x1="252.5" y1="323.1" x2="269.8" y2="323.1" stroke="#8080c8" stroke-width="0.8"/>
<polygon points="259.6,324.4 262.8,324.4 261.2,321.5" fill="#fff" stroke="#999" stroke-width="0.7"/>
<text x="273" y="325.5" font-size="7" text-anchor="start" fill="#111" font-weight="bold" stroke="#111" stroke-width="0.12" textLength="41.9" lengthAdjust="spacingAndGlyphs" >D = 14 mm</text>
<text x="431.6" y="15" font-size="16.5" text-anchor="start" fill="#111" font-weight="bold" stroke="#111" stroke-width="0.22" >c</text>
<path d="M485.8,132.6 C486.8,128.9 489.6,117.4 491.7,110.3 C493.8,103.2 496.2,96.3 498.4,90.2 C500.6,84.1 502.9,79.0 505.1,73.5 C507.3,68.0 509.6,62.2 511.8,57.5 C514.0,52.8 516.3,48.8 518.5,45.5 C520.7,42.2 523.0,39.6 525.2,37.6 C527.4,35.6 529.7,34.4 531.9,33.2 C534.1,32.0 536.0,31.4 538.5,30.6 C541.0,29.8 543.3,29.1 546.9,28.6 C550.5,28.1 554.8,27.7 560.0,27.4 C565.2,27.1 572.2,27.1 578.0,26.6 C583.8,26.1 589.9,25.3 595.0,24.6 C600.1,23.9 604.0,23.2 608.8,22.6 C613.6,22.0 618.9,21.5 624.0,21.0 C629.1,20.5 637.0,19.8 639.6,19.5" fill="none" stroke="#1c1cc8" stroke-width="1.4"/>
<path d="M516.8,15.0 C519.3,17.3 526.8,24.4 531.9,29.0 C537.0,33.6 542.7,39.2 547.3,42.9 C551.9,46.6 555.9,48.8 559.5,51.4 C563.1,54.0 566.6,56.3 569.2,58.3 C571.8,60.3 573.2,61.3 575.1,63.3 C577.0,65.3 579.0,67.5 580.9,70.2 C582.8,72.9 584.5,76.2 586.3,79.2 C588.1,82.2 590.0,85.1 591.7,88.0 C593.4,90.9 595.0,93.9 596.7,96.7 C598.4,99.5 600.0,102.4 601.7,105.1 C603.4,107.8 605.1,110.4 606.8,112.6 C608.5,114.8 609.8,116.5 611.8,118.5 C613.8,120.5 616.3,122.6 618.5,124.3 C620.7,126.0 623.0,127.2 625.2,128.5 C627.4,129.8 629.4,130.9 631.8,131.8 C634.2,132.8 638.3,133.8 639.6,134.2" fill="none" stroke="#e02020" stroke-width="1.4"/>
<rect x="483.5" y="130.4" width="4.8" height="4.8" fill="#fff" stroke="#1c1cc8" stroke-width="0.9"/>
<rect x="514.2" y="35.4" width="4.8" height="4.8" fill="#fff" stroke="#1c1cc8" stroke-width="0.9"/>
<rect x="544.7" y="25.7" width="4.8" height="4.8" fill="#fff" stroke="#1c1cc8" stroke-width="0.9"/>
<rect x="575.8" y="24.7" width="4.8" height="4.8" fill="#fff" stroke="#1c1cc8" stroke-width="0.9"/>
<rect x="606.4" y="20.7" width="4.8" height="4.8" fill="#fff" stroke="#1c1cc8" stroke-width="0.9"/>
<rect x="637.2" y="17.1" width="4.8" height="4.8" fill="#fff" stroke="#1c1cc8" stroke-width="0.9"/>
<circle cx="516.8" cy="15" r="2.7" fill="#fff" stroke="#e02020" stroke-width="0.9"/>
<circle cx="547.1" cy="43.1" r="2.7" fill="#fff" stroke="#e02020" stroke-width="0.9"/>
<circle cx="578.2" cy="62.6" r="2.7" fill="#fff" stroke="#e02020" stroke-width="0.9"/>
<circle cx="608.9" cy="121.9" r="2.7" fill="#fff" stroke="#e02020" stroke-width="0.9"/>
<circle cx="639.7" cy="134.2" r="2.7" fill="#fff" stroke="#e02020" stroke-width="0.9"/>
<g stroke="#1c1cc8" stroke-width="1.1" fill="none" stroke-linecap="round"><line x1="513" y1="46.8" x2="480" y2="46.8"/><polyline points="486.5,43.0 480,46.8 486.5,50.599999999999994"/></g>
<g stroke="#e02020" stroke-width="1.1" fill="none" stroke-linecap="round"><line x1="598.8" y1="75" x2="644" y2="75"/><polyline points="637.5,71.2 644,75 637.5,78.8"/></g>
<path d="M470.4,6.4 H655 V148.8 H470.4 Z" fill="none" stroke="#333" stroke-width="1"/>
<path d="M485.9,148.8 v-2.6 M501.2,148.8 v-1.6 M516.5,148.8 v-2.6 M531.8,148.8 v-1.6 M547.1,148.8 v-2.6 M562.4,148.8 v-1.6 M577.7,148.8 v-2.6 M593.0,148.8 v-1.6 M608.3,148.8 v-2.6 M623.6,148.8 v-1.6 M638.9,148.8 v-2.6 M470.4,140.9 h2.6 M470.4,133.5 h1.6 M470.4,126.0 h2.6 M470.4,118.5 h1.6 M470.4,111.0 h2.6 M470.4,103.5 h1.6 M470.4,96.1 h2.6 M470.4,88.6 h1.6 M470.4,81.1 h2.6 M470.4,73.6 h1.6 M470.4,66.1 h2.6 M470.4,58.7 h1.6 M470.4,51.2 h2.6 M470.4,43.7 h1.6 M470.4,36.2 h2.6 M470.4,28.7 h1.6 M470.4,21.3 h2.6 M470.4,13.8 h1.6 M655,147.9 h-2.6 M655,130.2 h-1.6 M655,112.5 h-2.6 M655,94.8 h-1.6 M655,77.1 h-2.6 M655,59.4 h-1.6 M655,41.7 h-2.6 M655,24.0 h-1.6" stroke="#333" stroke-width="0.8" fill="none"/>
<text x="467.3" y="143.74000000000004" font-size="8.2" text-anchor="end" fill="#111" font-weight="bold" stroke="#111" stroke-width="0.12" >1</text>
<text x="467.3" y="128.78" font-size="8.2" text-anchor="end" fill="#111" font-weight="bold" stroke="#111" stroke-width="0.12" >2</text>
<text x="467.3" y="113.82" font-size="8.2" text-anchor="end" fill="#111" font-weight="bold" stroke="#111" stroke-width="0.12" >3</text>
<text x="467.3" y="98.86" font-size="8.2" text-anchor="end" fill="#111" font-weight="bold" stroke="#111" stroke-width="0.12" >4</text>
<text x="467.3" y="83.9" font-size="8.2" text-anchor="end" fill="#111" font-weight="bold" stroke="#111" stroke-width="0.12" >5</text>
<text x="467.3" y="68.94" font-size="8.2" text-anchor="end" fill="#111" font-weight="bold" stroke="#111" stroke-width="0.12" >6</text>
<text x="467.3" y="53.98" font-size="8.2" text-anchor="end" fill="#111" font-weight="bold" stroke="#111" stroke-width="0.12" >7</text>
<text x="467.3" y="39.019999999999996" font-size="8.2" text-anchor="end" fill="#111" font-weight="bold" stroke="#111" stroke-width="0.12" >8</text>
<text x="467.3" y="24.060000000000002" font-size="8.2" text-anchor="end" fill="#111" font-weight="bold" stroke="#111" stroke-width="0.12" >9</text>
<text x="467.3" y="9.1" font-size="8.2" text-anchor="end" fill="#111" font-weight="bold" stroke="#111" stroke-width="0.12" >10</text>
<text x="658.8" y="150.70000000000002" font-size="8.2" text-anchor="start" fill="#111" font-weight="bold" stroke="#111" stroke-width="0.12" >7</text>
<text x="658.8" y="115.29999999999998" font-size="8.2" text-anchor="start" fill="#111" font-weight="bold" stroke="#111" stroke-width="0.12" >8</text>
<text x="658.8" y="79.89999999999999" font-size="8.2" text-anchor="start" fill="#111" font-weight="bold" stroke="#111" stroke-width="0.12" >9</text>
<text x="658.8" y="44.49999999999999" font-size="8.2" text-anchor="start" fill="#111" font-weight="bold" stroke="#111" stroke-width="0.12" >10</text>
<text x="658.8" y="9.1" font-size="8.2" text-anchor="start" fill="#111" font-weight="bold" stroke="#111" stroke-width="0.12" >11</text>
<text x="485.9" y="160.2" font-size="8.1" text-anchor="middle" fill="#111" font-weight="bold" stroke="#111" stroke-width="0.12" >0.0</text>
<text x="516.5" y="160.2" font-size="8.1" text-anchor="middle" fill="#111" font-weight="bold" stroke="#111" stroke-width="0.12" >0.5</text>
<text x="547.1" y="160.2" font-size="8.1" text-anchor="middle" fill="#111" font-weight="bold" stroke="#111" stroke-width="0.12" >1.0</text>
<text x="577.7" y="160.2" font-size="8.1" text-anchor="middle" fill="#111" font-weight="bold" stroke="#111" stroke-width="0.12" >1.5</text>
<text x="608.3" y="160.2" font-size="8.1" text-anchor="middle" fill="#111" font-weight="bold" stroke="#111" stroke-width="0.12" >2.0</text>
<text x="638.9" y="160.2" font-size="8.1" text-anchor="middle" fill="#111" font-weight="bold" stroke="#111" stroke-width="0.12" >2.5</text>
<text x="562.4" y="171.7" font-size="10.3" text-anchor="middle" fill="#111" font-weight="bold" stroke="#111" stroke-width="0.22" textLength="143" lengthAdjust="spacingAndGlyphs" >Height of water droplet (mm)</text>
<text transform="translate(451,79) rotate(-90)" font-size="10.8" text-anchor="middle" font-weight="bold" fill="#111" stroke="#111" stroke-width="0.22" textLength="111" lengthAdjust="spacingAndGlyphs">Integrated absorption</text>
<text transform="translate(680.6,78.4) rotate(-90)" font-size="10.8" text-anchor="middle" font-weight="bold" fill="#111" stroke="#111" stroke-width="0.22" textLength="136.5" lengthAdjust="spacingAndGlyphs">Stopband frequency (GHz)</text>
<text x="541.5" y="131.1" font-size="10" text-anchor="middle" fill="#111" font-weight="bold" stroke="#111" stroke-width="0.22" textLength="54.2" lengthAdjust="spacingAndGlyphs" >D = 8.0 mm</text>
<text x="430.9" y="194.4" font-size="17" text-anchor="start" fill="#111" font-weight="bold" stroke="#111" stroke-width="0.22" >e</text>
<path d="M481.7,204.5 C484.4,205.5 492.9,208.4 497.9,210.6 C502.9,212.8 507.2,215.1 511.8,217.9 C516.4,220.7 521.5,223.9 525.7,227.6 C529.9,231.3 533.2,235.7 536.9,240.1 C540.6,244.5 544.3,249.4 548.0,254.1 C551.7,258.8 555.4,263.6 559.1,268.5 C562.8,273.4 566.7,278.7 570.2,283.2 C573.7,287.7 576.9,291.9 580.3,295.6 C583.7,299.3 587.1,302.9 590.5,305.6 C593.9,308.3 597.2,310.3 600.6,311.8 C604.0,313.3 606.6,314.0 610.8,314.8 C615.0,315.6 621.0,316.2 626.0,316.6 C631.0,317.0 638.2,316.9 640.7,317.0" fill="none" stroke="#1c1cc8" stroke-width="1.4"/>
<path d="M481.7,265.2 C486.1,263.6 499.1,258.8 508.0,255.5 C516.9,252.2 527.3,249.0 534.9,245.7 C542.5,242.4 547.8,238.8 553.6,235.6 C559.5,232.4 564.3,229.6 570.0,226.8 C575.7,224.0 582.8,220.8 587.8,218.6 C592.8,216.4 594.6,215.6 600.0,213.8 C605.4,212.0 613.2,209.6 620.0,207.9 C626.8,206.2 637.2,204.3 640.6,203.6" fill="none" stroke="#e02020" stroke-width="1.4"/>
<rect x="479.5" y="202.1" width="4.8" height="4.8" fill="#fff" stroke="#1c1cc8" stroke-width="0.9"/>
<rect x="532.5" y="226.0" width="4.8" height="4.8" fill="#fff" stroke="#1c1cc8" stroke-width="0.9"/>
<rect x="585.5" y="309.5" width="4.8" height="4.8" fill="#fff" stroke="#1c1cc8" stroke-width="0.9"/>
<rect x="638.3" y="314.6" width="4.8" height="4.8" fill="#fff" stroke="#1c1cc8" stroke-width="0.9"/>
<circle cx="481.8" cy="265.2" r="2.7" fill="#fff" stroke="#e02020" stroke-width="0.9"/>
<circle cx="534.9" cy="245.7" r="2.7" fill="#fff" stroke="#e02020" stroke-width="0.9"/>
<circle cx="587.8" cy="217.4" r="2.7" fill="#fff" stroke="#e02020" stroke-width="0.9"/>
<circle cx="640.6" cy="203.6" r="2.7" fill="#fff" stroke="#e02020" stroke-width="0.9"/>
<g stroke="#1c1cc8" stroke-width="1.1" fill="none" stroke-linecap="round"><line x1="517.7" y1="229.4" x2="480.2" y2="229.4"/><polyline points="486.7,225.6 480.2,229.4 486.7,233.20000000000002"/></g>
<g stroke="#e02020" stroke-width="1.1" fill="none" stroke-linecap="round"><line x1="611.3" y1="219.9" x2="644.4" y2="219.9"/><polyline points="637.9,216.1 644.4,219.9 637.9,223.70000000000002"/></g>
<path d="M469.5,188.6 H654.2 V331.7 H469.5 Z" fill="none" stroke="#666" stroke-width="1.2"/>
<path d="M482.2,331.7 v-2.6 M482.2,188.6 v2.6 M495.4,331.7 v-1.6 M495.4,188.6 v1.6 M508.6,331.7 v-2.6 M508.6,188.6 v2.6 M521.8,331.7 v-1.6 M521.8,188.6 v1.6 M535.0,331.7 v-2.6 M535.0,188.6 v2.6 M548.2,331.7 v-1.6 M548.2,188.6 v1.6 M561.4,331.7 v-2.6 M561.4,188.6 v2.6 M574.6,331.7 v-1.6 M574.6,188.6 v1.6 M587.8,331.7 v-2.6 M587.8,188.6 v2.6 M601.0,331.7 v-1.6 M601.0,188.6 v1.6 M614.2,331.7 v-2.6 M614.2,188.6 v2.6 M627.4,331.7 v-1.6 M627.4,188.6 v1.6 M640.6,331.7 v-2.6 M640.6,188.6 v2.6 M469.5,320.4 h2.6 M469.5,308.3 h1.6 M469.5,296.3 h2.6 M469.5,284.3 h1.6 M469.5,272.2 h2.6 M469.5,260.2 h1.6 M469.5,248.2 h2.6 M469.5,236.2 h1.6 M469.5,224.2 h2.6 M469.5,212.1 h1.6 M469.5,200.1 h2.6 M654.2,331.5 h-1.6 M654.2,320.5 h-2.6 M654.2,309.5 h-1.6 M654.2,298.5 h-2.6 M654.2,287.5 h-1.6 M654.2,276.5 h-2.6 M654.2,265.5 h-1.6 M654.2,254.5 h-2.6 M654.2,243.5 h-1.6 M654.2,232.5 h-2.6 M654.2,221.5 h-1.6 M654.2,210.5 h-2.6 M654.2,199.5 h-1.6" stroke="#333" stroke-width="0.8" fill="none"/>
<text x="465.8" y="203.0" font-size="8.3" text-anchor="end" fill="#111" font-weight="bold" stroke="#111" stroke-width="0.12" >9.0</text>
<text x="465.8" y="227.05" font-size="8.3" text-anchor="end" fill="#111" font-weight="bold" stroke="#111" stroke-width="0.12" >8.5</text>
<text x="465.8" y="251.1" font-size="8.3" text-anchor="end" fill="#111" font-weight="bold" stroke="#111" stroke-width="0.12" >8.0</text>
<text x="465.8" y="275.15" font-size="8.3" text-anchor="end" fill="#111" font-weight="bold" stroke="#111" stroke-width="0.12" >7.5</text>
<text x="465.8" y="299.2" font-size="8.3" text-anchor="end" fill="#111" font-weight="bold" stroke="#111" stroke-width="0.12" >7.0</text>
<text x="465.8" y="323.25" font-size="8.3" text-anchor="end" fill="#111" font-weight="bold" stroke="#111" stroke-width="0.12" >6.5</text>
<text x="657.6" y="191.4" font-size="8.0" text-anchor="start" fill="#111" font-weight="bold" stroke="#111" stroke-width="0.12" >9.5</text>
<text x="657.6" y="213.4" font-size="8.0" text-anchor="start" fill="#111" font-weight="bold" stroke="#111" stroke-width="0.12" >9.0</text>
<text x="657.6" y="235.4" font-size="8.0" text-anchor="start" fill="#111" font-weight="bold" stroke="#111" stroke-width="0.12" >8.5</text>
<text x="657.6" y="257.4" font-size="8.0" text-anchor="start" fill="#111" font-weight="bold" stroke="#111" stroke-width="0.12" >8.0</text>
<text x="657.6" y="279.4" font-size="8.0" text-anchor="start" fill="#111" font-weight="bold" stroke="#111" stroke-width="0.12" >7.5</text>
<text x="657.6" y="301.4" font-size="8.0" text-anchor="start" fill="#111" font-weight="bold" stroke="#111" stroke-width="0.12" >7.0</text>
<text x="657.6" y="323.4" font-size="8.0" text-anchor="start" fill="#111" font-weight="bold" stroke="#111" stroke-width="0.12" >6.5</text>
<text x="482.2" y="342.4" font-size="8.1" text-anchor="middle" fill="#111" font-weight="bold" stroke="#111" stroke-width="0.12" >8</text>
<text x="508.59999999999997" y="342.4" font-size="8.1" text-anchor="middle" fill="#111" font-weight="bold" stroke="#111" stroke-width="0.12" >9</text>
<text x="535.0" y="342.4" font-size="8.1" text-anchor="middle" fill="#111" font-weight="bold" stroke="#111" stroke-width="0.12" >10</text>
<text x="561.4" y="342.4" font-size="8.1" text-anchor="middle" fill="#111" font-weight="bold" stroke="#111" stroke-width="0.12" >11</text>
<text x="587.8" y="342.4" font-size="8.1" text-anchor="middle" fill="#111" font-weight="bold" stroke="#111" stroke-width="0.12" >12</text>
<text x="614.2" y="342.4" font-size="8.1" text-anchor="middle" fill="#111" font-weight="bold" stroke="#111" stroke-width="0.12" >13</text>
<text x="640.5999999999999" y="342.4" font-size="8.1" text-anchor="middle" fill="#111" font-weight="bold" stroke="#111" stroke-width="0.12" >14</text>
<text x="561.7" y="355.8" font-size="10.8" text-anchor="middle" fill="#111" font-weight="bold" stroke="#111" stroke-width="0.22" textLength="155.5" lengthAdjust="spacingAndGlyphs" >Diameter of water droplet (mm)</text>
<text transform="translate(448.4,263.4) rotate(-90)" font-size="10.8" text-anchor="middle" font-weight="bold" fill="#111" stroke="#111" stroke-width="0.22" textLength="119.5" lengthAdjust="spacingAndGlyphs">Integrated absorption</text>
<text transform="translate(680.8,261.7) rotate(-90)" font-size="10.8" text-anchor="middle" font-weight="bold" fill="#111" stroke="#111" stroke-width="0.22" textLength="134.7" lengthAdjust="spacingAndGlyphs">Stopband frequency (GHz)</text>
<text x="514" y="317.4" font-size="8.6" text-anchor="middle" fill="#111" font-weight="bold" stroke="#111" stroke-width="0.12" textLength="54.3" lengthAdjust="spacingAndGlyphs" >H = 2.0 mm</text>
</svg>
</body></html>
